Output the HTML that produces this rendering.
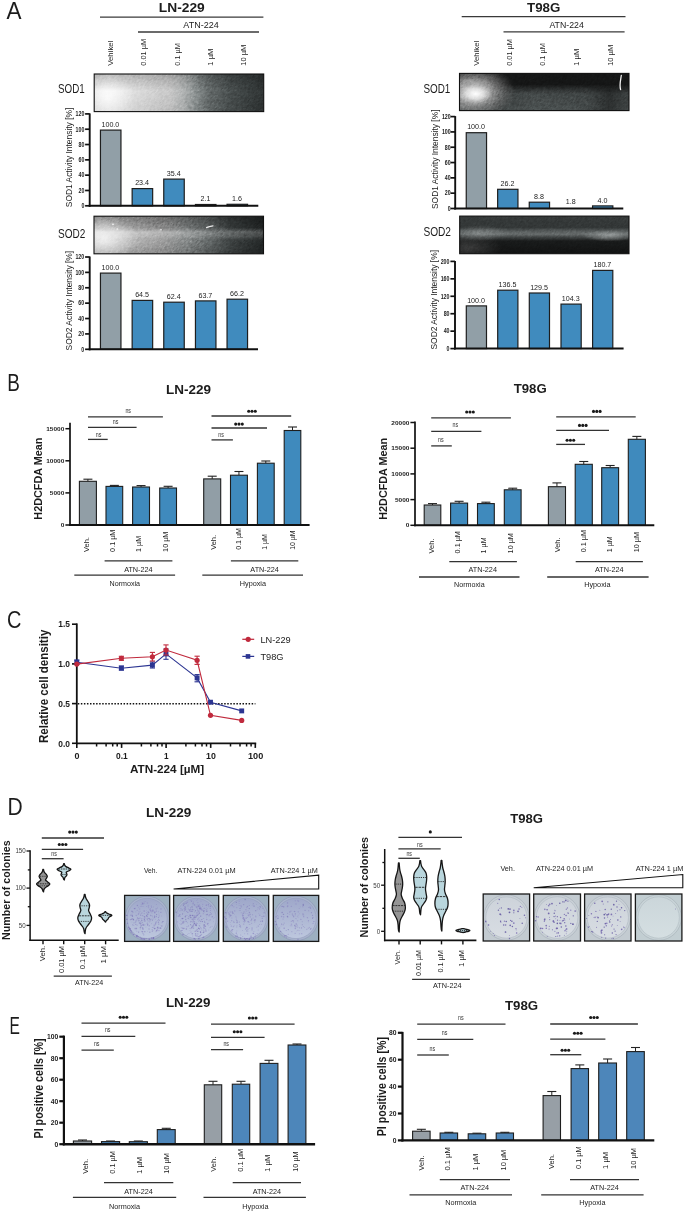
<!DOCTYPE html>
<html><head><meta charset="utf-8"><title>Figure</title>
<style>html,body{margin:0;padding:0;background:#fff;} svg{display:block;will-change:transform;} text{font-family:"Liberation Sans", sans-serif;}</style>
</head><body>
<svg width="685" height="1212" viewBox="0 0 685 1212" font-family="Liberation Sans, sans-serif">
<defs><filter id="gelnoise" x="0" y="0" width="1" height="1" filterUnits="objectBoundingBox" color-interpolation-filters="sRGB"><feTurbulence type="fractalNoise" baseFrequency="0.35 1.3" numOctaves="2" seed="3" result="n"/><feColorMatrix in="n" type="matrix" values="1.0 0 0 0 0  1.0 0 0 0 0  1.0 0 0 0 0  0 0 0 0 1"/></filter><linearGradient id="ln1a" x1="0" y1="0" x2="1" y2="0"><stop offset="0" stop-color="#e0e0e0" stop-opacity="1"/><stop offset="0.08" stop-color="#ececec" stop-opacity="1"/><stop offset="0.3" stop-color="#d8d8d8" stop-opacity="1"/><stop offset="0.45" stop-color="#c8c8c8" stop-opacity="1"/><stop offset="0.53" stop-color="#b0b3b3" stop-opacity="1"/><stop offset="0.6" stop-color="#8a9090" stop-opacity="1"/><stop offset="0.67" stop-color="#666c6c" stop-opacity="1"/><stop offset="0.8" stop-color="#484e4e" stop-opacity="1"/><stop offset="1" stop-color="#2e3333" stop-opacity="1"/></linearGradient><radialGradient id="ln1b" cx="0.08" cy="0.65" r="0.16" gradientTransform="translate(0.08 0.65) scale(1 4.5) translate(-0.08 -0.65)"><stop offset="0" stop-color="#ffffff" stop-opacity="1"/><stop offset="1" stop-color="#ffffff" stop-opacity="0"/></radialGradient><linearGradient id="ln1c" x1="0" y1="0" x2="0" y2="1"><stop offset="0" stop-color="#000" stop-opacity="0.2"/><stop offset="0.45" stop-color="#000" stop-opacity="0"/><stop offset="1" stop-color="#000" stop-opacity="0.06"/></linearGradient><linearGradient id="ln2a" x1="0" y1="0" x2="1" y2="0"><stop offset="0" stop-color="#c8c8c8" stop-opacity="1"/><stop offset="0.2" stop-color="#bababa" stop-opacity="1"/><stop offset="0.4" stop-color="#a2a2a2" stop-opacity="1"/><stop offset="0.55" stop-color="#878b8b" stop-opacity="1"/><stop offset="0.68" stop-color="#646969" stop-opacity="1"/><stop offset="0.8" stop-color="#404545" stop-opacity="1"/><stop offset="1" stop-color="#232727" stop-opacity="1"/></linearGradient><linearGradient id="ln2b" x1="0" y1="0" x2="0" y2="1"><stop offset="0" stop-color="#000" stop-opacity="0.34"/><stop offset="0.3" stop-color="#000" stop-opacity="0.16"/><stop offset="0.42" stop-color="#fff" stop-opacity="0.2"/><stop offset="0.55" stop-color="#fff" stop-opacity="0.12"/><stop offset="0.68" stop-color="#000" stop-opacity="0.02"/><stop offset="1" stop-color="#000" stop-opacity="0.18"/></linearGradient><radialGradient id="ln2c" cx="0.06" cy="0.6" r="0.2" gradientTransform="translate(0.06 0.6) scale(1 3.2) translate(-0.06 -0.6)"><stop offset="0" stop-color="#ffffff" stop-opacity="0.75"/><stop offset="1" stop-color="#ffffff" stop-opacity="0"/></radialGradient><linearGradient id="t1e" x1="0" y1="0" x2="0" y2="1"><stop offset="0" stop-color="#4e5454" stop-opacity="0"/><stop offset="0.3" stop-color="#4e5454" stop-opacity="0"/><stop offset="0.55" stop-color="#4c5252" stop-opacity="0.85"/><stop offset="1" stop-color="#4a5050" stop-opacity="1"/></linearGradient><linearGradient id="t1f" x1="0" y1="0" x2="1" y2="0"><stop offset="0" stop-color="#151616" stop-opacity="0"/><stop offset="0.25" stop-color="#151616" stop-opacity="0.15"/><stop offset="0.45" stop-color="#151616" stop-opacity="0"/><stop offset="0.75" stop-color="#151616" stop-opacity="0.1"/><stop offset="0.88" stop-color="#151616" stop-opacity="0.55"/><stop offset="0.96" stop-color="#151616" stop-opacity="0.3"/><stop offset="1" stop-color="#151616" stop-opacity="0.2"/></linearGradient><radialGradient id="t1c" cx="0.08" cy="0.5" r="0.25" gradientTransform="translate(0.08 0.5) scale(1 3.0) translate(-0.08 -0.5)"><stop offset="0" stop-color="#d0d0d0" stop-opacity="1"/><stop offset="0.4" stop-color="#a4a4a4" stop-opacity="0.92"/><stop offset="0.75" stop-color="#767676" stop-opacity="0.5"/><stop offset="1" stop-color="#606060" stop-opacity="0"/></radialGradient><radialGradient id="t1b" cx="0.095" cy="0.55" r="0.1" gradientTransform="translate(0.095 0.55) scale(1 2.6) translate(-0.095 -0.55)"><stop offset="0" stop-color="#ffffff" stop-opacity="1"/><stop offset="0.5" stop-color="#f0f0f0" stop-opacity="0.7"/><stop offset="1" stop-color="#d8d8d8" stop-opacity="0"/></radialGradient><linearGradient id="t2a" x1="0" y1="0" x2="0" y2="1"><stop offset="0" stop-color="#363a3a" stop-opacity="1"/><stop offset="0.3" stop-color="#323636" stop-opacity="1"/><stop offset="0.4" stop-color="#565b5b" stop-opacity="1"/><stop offset="0.48" stop-color="#686d6d" stop-opacity="1"/><stop offset="0.56" stop-color="#404444" stop-opacity="1"/><stop offset="0.66" stop-color="#191b1b" stop-opacity="1"/><stop offset="1" stop-color="#111212" stop-opacity="1"/></linearGradient><radialGradient id="t2c" cx="0.88" cy="0.52" r="0.16" gradientTransform="translate(0.88 0.52) scale(1 0.95) translate(-0.88 -0.52)"><stop offset="0" stop-color="#b0b5b5" stop-opacity="0.7"/><stop offset="0.5" stop-color="#9ca1a1" stop-opacity="0.4"/><stop offset="1" stop-color="#9ca1a1" stop-opacity="0"/></radialGradient><radialGradient id="t2d" cx="0.12" cy="0.45" r="0.16" gradientTransform="translate(0.12 0.45) scale(1 1.3) translate(-0.12 -0.45)"><stop offset="0" stop-color="#9a9f9f" stop-opacity="0.5"/><stop offset="1" stop-color="#9a9f9f" stop-opacity="0"/></radialGradient><radialGradient id="t2e" cx="0.05" cy="0.85" r="0.2" gradientTransform="translate(0.05 0.85) scale(1 2) translate(-0.05 -0.85)"><stop offset="0" stop-color="#505050" stop-opacity="0.6"/><stop offset="1" stop-color="#505050" stop-opacity="0"/></radialGradient><clipPath id="gclip15"><rect x="94.20" y="74.00" width="169.50" height="37.60"/></clipPath><clipPath id="gclip16"><rect x="94.00" y="216.20" width="169.50" height="37.60"/></clipPath><clipPath id="gclip17"><rect x="459.50" y="73.40" width="169.50" height="37.20"/></clipPath><clipPath id="gclip18"><rect x="459.70" y="216.10" width="169.30" height="37.60"/></clipPath><linearGradient id="col10" x1="0" y1="0" x2="0" y2="1"><stop offset="0" stop-color="#9ea7c9"/><stop offset="1" stop-color="#bdc7de"/></linearGradient><linearGradient id="col11" x1="0" y1="0" x2="0" y2="1"><stop offset="0" stop-color="#9ea7c9"/><stop offset="1" stop-color="#bdc7de"/></linearGradient><linearGradient id="col12" x1="0" y1="0" x2="0" y2="1"><stop offset="0" stop-color="#9ea7c9"/><stop offset="1" stop-color="#bdc7de"/></linearGradient><linearGradient id="col13" x1="0" y1="0" x2="0" y2="1"><stop offset="0" stop-color="#9ea7c9"/><stop offset="1" stop-color="#bdc7de"/></linearGradient><linearGradient id="col20" x1="0" y1="0" x2="0" y2="1"><stop offset="0" stop-color="#cdd3da"/><stop offset="1" stop-color="#d8dde3"/></linearGradient><linearGradient id="col21" x1="0" y1="0" x2="0" y2="1"><stop offset="0" stop-color="#cdd3da"/><stop offset="1" stop-color="#d8dde3"/></linearGradient><linearGradient id="col22" x1="0" y1="0" x2="0" y2="1"><stop offset="0" stop-color="#cdd3da"/><stop offset="1" stop-color="#d8dde3"/></linearGradient><linearGradient id="col23" x1="0" y1="0" x2="0" y2="1"><stop offset="0" stop-color="#cbd6da"/><stop offset="1" stop-color="#d5dfe2"/></linearGradient></defs>
<rect width="685" height="1212" fill="#ffffff"/>
<text x="6.60" y="18.80" font-size="24" style="" fill="#1c1c1c" textLength="15.00" lengthAdjust="spacingAndGlyphs">A</text>
<text x="158.80" y="11.80" font-size="13.4" style="font-weight:bold;" fill="#1c1c1c" textLength="46.00" lengthAdjust="spacingAndGlyphs">LN-229</text>
<line x1="100.00" y1="17.10" x2="263.40" y2="17.10" stroke="#3a3a3a" stroke-width="1.3"/>
<text x="183.30" y="28.40" font-size="8.4" style="" fill="#1c1c1c" textLength="35.40" lengthAdjust="spacingAndGlyphs">ATN-224</text>
<line x1="138.00" y1="32.00" x2="259.00" y2="32.00" stroke="#3a3a3a" stroke-width="1.3"/>
<text transform="translate(113.30,65.70) rotate(-90)" font-size="7.3" style="" fill="#1c1c1c" textLength="25.00" lengthAdjust="spacingAndGlyphs">Vehikel</text>
<text transform="translate(146.40,65.70) rotate(-90)" font-size="7.3" style="" fill="#1c1c1c" textLength="26.80" lengthAdjust="spacingAndGlyphs">0.01 µM</text>
<text transform="translate(179.50,65.70) rotate(-90)" font-size="7.3" style="" fill="#1c1c1c" textLength="22.60" lengthAdjust="spacingAndGlyphs">0.1 µM</text>
<text transform="translate(212.50,65.70) rotate(-90)" font-size="7.3" style="" fill="#1c1c1c" textLength="17.10" lengthAdjust="spacingAndGlyphs">1 µM</text>
<text transform="translate(245.60,65.70) rotate(-90)" font-size="7.3" style="" fill="#1c1c1c" textLength="21.00" lengthAdjust="spacingAndGlyphs">10 µM</text>
<text x="58.00" y="93.00" font-size="12.8" style="" fill="#1c1c1c" textLength="26.70" lengthAdjust="spacingAndGlyphs">SOD1</text>
<text x="58.00" y="237.60" font-size="12.8" style="" fill="#1c1c1c" textLength="27.30" lengthAdjust="spacingAndGlyphs">SOD2</text>
<g>
<rect x="94.20" y="74.00" width="169.50" height="37.60" fill="url(#ln1a)"/>
<rect x="94.20" y="74.00" width="169.50" height="37.60" fill="url(#ln1b)"/>
<rect x="94.20" y="74.00" width="169.50" height="37.60" fill="url(#ln1c)"/>
<g clip-path="url(#gclip15)" style="mix-blend-mode:overlay" opacity="0.35"><rect x="78.95" y="-7.20" width="200" height="200" fill="#808080" filter="url(#gelnoise)" transform="rotate(-40 178.95 92.80)"/></g>
<rect x="94.20" y="74.00" width="169.50" height="37.60" fill="none" stroke="#111" stroke-width="1.1"/>
</g>
<g>
<rect x="94.00" y="216.20" width="169.50" height="37.60" fill="url(#ln2a)"/>
<rect x="94.00" y="216.20" width="169.50" height="37.60" fill="url(#ln2b)"/>
<rect x="94.00" y="216.20" width="169.50" height="37.60" fill="url(#ln2c)"/>
<g clip-path="url(#gclip16)" style="mix-blend-mode:overlay" opacity="0.35"><rect x="78.75" y="135.00" width="200" height="200" fill="#808080" filter="url(#gelnoise)" transform="rotate(-40 178.75 235.00)"/></g>
<rect x="94.00" y="216.20" width="169.50" height="37.60" fill="none" stroke="#111" stroke-width="1.1"/>
</g>
<path d="M206.5,227.6 C208.5,226.6 210.5,226.2 213,225.9" stroke="#e8e8e8" stroke-width="1.2" stroke-linecap="round" fill="none"/><circle cx="113" cy="224.4" r="0.8" fill="#f4f4f4"/><circle cx="117.2" cy="229" r="0.8" fill="#f4f4f4"/><circle cx="161" cy="229.7" r="0.8" fill="#eeeeee"/>
<rect x="100.45" y="130.10" width="20.50" height="75.70" fill="#919fa7" stroke="#1e1e1e" stroke-width="1.2"/>
<text x="110.40" y="126.80" font-size="7.0" style="" fill="#1c1c1c" text-anchor="middle" textLength="17.87" lengthAdjust="spacingAndGlyphs">100.0</text>
<rect x="132.15" y="188.60" width="20.50" height="17.20" fill="#408bbe" stroke="#1e1e1e" stroke-width="1.2"/>
<text x="142.10" y="185.30" font-size="7.0" style="" fill="#1c1c1c" text-anchor="middle" textLength="13.90" lengthAdjust="spacingAndGlyphs">23.4</text>
<rect x="163.75" y="179.10" width="20.50" height="26.70" fill="#408bbe" stroke="#1e1e1e" stroke-width="1.2"/>
<text x="173.70" y="175.80" font-size="7.0" style="" fill="#1c1c1c" text-anchor="middle" textLength="13.90" lengthAdjust="spacingAndGlyphs">35.4</text>
<rect x="195.45" y="204.50" width="20.50" height="1.30" fill="#408bbe" stroke="#1e1e1e" stroke-width="1.2"/>
<text x="205.40" y="201.20" font-size="7.0" style="" fill="#1c1c1c" text-anchor="middle" textLength="9.92" lengthAdjust="spacingAndGlyphs">2.1</text>
<rect x="227.05" y="204.30" width="20.50" height="1.50" fill="#408bbe" stroke="#1e1e1e" stroke-width="1.2"/>
<text x="237.00" y="201.00" font-size="7.0" style="" fill="#1c1c1c" text-anchor="middle" textLength="9.92" lengthAdjust="spacingAndGlyphs">1.6</text>
<line x1="89.70" y1="113.40" x2="89.70" y2="206.80" stroke="#111" stroke-width="1.9"/>
<line x1="88.75" y1="205.80" x2="258.30" y2="205.80" stroke="#111" stroke-width="2.0"/>
<line x1="85.10" y1="205.80" x2="89.70" y2="205.80" stroke="#111" stroke-width="1.7"/>
<text x="84.40" y="208.10" font-size="6.6" style="font-weight:bold;" fill="#1c1c1c" text-anchor="end" textLength="2.94" lengthAdjust="spacingAndGlyphs">0</text>
<line x1="85.10" y1="190.48" x2="89.70" y2="190.48" stroke="#111" stroke-width="1.7"/>
<text x="84.40" y="192.78" font-size="6.6" style="font-weight:bold;" fill="#1c1c1c" text-anchor="end" textLength="5.87" lengthAdjust="spacingAndGlyphs">20</text>
<line x1="85.10" y1="175.17" x2="89.70" y2="175.17" stroke="#111" stroke-width="1.7"/>
<text x="84.40" y="177.47" font-size="6.6" style="font-weight:bold;" fill="#1c1c1c" text-anchor="end" textLength="5.87" lengthAdjust="spacingAndGlyphs">40</text>
<line x1="85.10" y1="159.85" x2="89.70" y2="159.85" stroke="#111" stroke-width="1.7"/>
<text x="84.40" y="162.15" font-size="6.6" style="font-weight:bold;" fill="#1c1c1c" text-anchor="end" textLength="5.87" lengthAdjust="spacingAndGlyphs">60</text>
<line x1="85.10" y1="144.53" x2="89.70" y2="144.53" stroke="#111" stroke-width="1.7"/>
<text x="84.40" y="146.83" font-size="6.6" style="font-weight:bold;" fill="#1c1c1c" text-anchor="end" textLength="5.87" lengthAdjust="spacingAndGlyphs">80</text>
<line x1="85.10" y1="129.22" x2="89.70" y2="129.22" stroke="#111" stroke-width="1.7"/>
<text x="84.40" y="131.52" font-size="6.6" style="font-weight:bold;" fill="#1c1c1c" text-anchor="end" textLength="8.81" lengthAdjust="spacingAndGlyphs">100</text>
<line x1="85.10" y1="113.90" x2="89.70" y2="113.90" stroke="#111" stroke-width="1.7"/>
<text x="84.40" y="116.20" font-size="6.6" style="font-weight:bold;" fill="#1c1c1c" text-anchor="end" textLength="8.81" lengthAdjust="spacingAndGlyphs">120</text>
<text transform="translate(71.80,207.20) rotate(-90)" font-size="9.7" style="" fill="#1c1c1c" textLength="99.50" lengthAdjust="spacingAndGlyphs">SOD1 Activity Intensity [%]</text>
<rect x="100.45" y="273.10" width="20.50" height="76.20" fill="#919fa7" stroke="#1e1e1e" stroke-width="1.2"/>
<text x="110.40" y="269.80" font-size="7.0" style="" fill="#1c1c1c" text-anchor="middle" textLength="17.87" lengthAdjust="spacingAndGlyphs">100.0</text>
<rect x="132.15" y="300.40" width="20.50" height="48.90" fill="#408bbe" stroke="#1e1e1e" stroke-width="1.2"/>
<text x="142.10" y="297.10" font-size="7.0" style="" fill="#1c1c1c" text-anchor="middle" textLength="13.90" lengthAdjust="spacingAndGlyphs">64.5</text>
<rect x="163.75" y="302.20" width="20.50" height="47.10" fill="#408bbe" stroke="#1e1e1e" stroke-width="1.2"/>
<text x="173.70" y="298.90" font-size="7.0" style="" fill="#1c1c1c" text-anchor="middle" textLength="13.90" lengthAdjust="spacingAndGlyphs">62.4</text>
<rect x="195.45" y="300.90" width="20.50" height="48.40" fill="#408bbe" stroke="#1e1e1e" stroke-width="1.2"/>
<text x="205.40" y="297.60" font-size="7.0" style="" fill="#1c1c1c" text-anchor="middle" textLength="13.90" lengthAdjust="spacingAndGlyphs">63.7</text>
<rect x="227.05" y="299.20" width="20.50" height="50.10" fill="#408bbe" stroke="#1e1e1e" stroke-width="1.2"/>
<text x="237.00" y="295.90" font-size="7.0" style="" fill="#1c1c1c" text-anchor="middle" textLength="13.90" lengthAdjust="spacingAndGlyphs">66.2</text>
<line x1="89.70" y1="256.50" x2="89.70" y2="350.30" stroke="#111" stroke-width="1.9"/>
<line x1="88.75" y1="349.30" x2="258.00" y2="349.30" stroke="#111" stroke-width="2.0"/>
<line x1="85.10" y1="349.30" x2="89.70" y2="349.30" stroke="#111" stroke-width="1.7"/>
<text x="84.20" y="351.60" font-size="6.6" style="font-weight:bold;" fill="#1c1c1c" text-anchor="end" textLength="2.94" lengthAdjust="spacingAndGlyphs">0</text>
<line x1="85.10" y1="333.92" x2="89.70" y2="333.92" stroke="#111" stroke-width="1.7"/>
<text x="84.20" y="336.22" font-size="6.6" style="font-weight:bold;" fill="#1c1c1c" text-anchor="end" textLength="5.87" lengthAdjust="spacingAndGlyphs">20</text>
<line x1="85.10" y1="318.53" x2="89.70" y2="318.53" stroke="#111" stroke-width="1.7"/>
<text x="84.20" y="320.83" font-size="6.6" style="font-weight:bold;" fill="#1c1c1c" text-anchor="end" textLength="5.87" lengthAdjust="spacingAndGlyphs">40</text>
<line x1="85.10" y1="303.15" x2="89.70" y2="303.15" stroke="#111" stroke-width="1.7"/>
<text x="84.20" y="305.45" font-size="6.6" style="font-weight:bold;" fill="#1c1c1c" text-anchor="end" textLength="5.87" lengthAdjust="spacingAndGlyphs">60</text>
<line x1="85.10" y1="287.77" x2="89.70" y2="287.77" stroke="#111" stroke-width="1.7"/>
<text x="84.20" y="290.07" font-size="6.6" style="font-weight:bold;" fill="#1c1c1c" text-anchor="end" textLength="5.87" lengthAdjust="spacingAndGlyphs">80</text>
<line x1="85.10" y1="272.38" x2="89.70" y2="272.38" stroke="#111" stroke-width="1.7"/>
<text x="84.20" y="274.68" font-size="6.6" style="font-weight:bold;" fill="#1c1c1c" text-anchor="end" textLength="8.81" lengthAdjust="spacingAndGlyphs">100</text>
<line x1="85.10" y1="257.00" x2="89.70" y2="257.00" stroke="#111" stroke-width="1.7"/>
<text x="84.20" y="259.30" font-size="6.6" style="font-weight:bold;" fill="#1c1c1c" text-anchor="end" textLength="8.81" lengthAdjust="spacingAndGlyphs">120</text>
<text transform="translate(71.70,350.40) rotate(-90)" font-size="9.7" style="" fill="#1c1c1c" textLength="99.50" lengthAdjust="spacingAndGlyphs">SOD2 Activity Intensity [%]</text>
<text x="527.00" y="12.20" font-size="13.4" style="font-weight:bold;" fill="#1c1c1c" textLength="33.30" lengthAdjust="spacingAndGlyphs">T98G</text>
<line x1="461.70" y1="16.70" x2="625.50" y2="16.70" stroke="#3a3a3a" stroke-width="1.3"/>
<text x="549.40" y="28.30" font-size="8.4" style="" fill="#1c1c1c" textLength="34.40" lengthAdjust="spacingAndGlyphs">ATN-224</text>
<line x1="503.50" y1="31.80" x2="624.60" y2="31.80" stroke="#3a3a3a" stroke-width="1.3"/>
<text transform="translate(479.00,65.80) rotate(-90)" font-size="7.3" style="" fill="#1c1c1c" textLength="25.00" lengthAdjust="spacingAndGlyphs">Vehikel</text>
<text transform="translate(512.10,65.80) rotate(-90)" font-size="7.3" style="" fill="#1c1c1c" textLength="26.80" lengthAdjust="spacingAndGlyphs">0.01 µM</text>
<text transform="translate(545.20,65.80) rotate(-90)" font-size="7.3" style="" fill="#1c1c1c" textLength="22.60" lengthAdjust="spacingAndGlyphs">0.1 µM</text>
<text transform="translate(578.60,65.80) rotate(-90)" font-size="7.3" style="" fill="#1c1c1c" textLength="17.10" lengthAdjust="spacingAndGlyphs">1 µM</text>
<text transform="translate(612.50,65.80) rotate(-90)" font-size="7.3" style="" fill="#1c1c1c" textLength="21.00" lengthAdjust="spacingAndGlyphs">10 µM</text>
<text x="423.40" y="93.00" font-size="12.8" style="" fill="#1c1c1c" textLength="26.90" lengthAdjust="spacingAndGlyphs">SOD1</text>
<text x="423.40" y="236.40" font-size="12.8" style="" fill="#1c1c1c" textLength="27.60" lengthAdjust="spacingAndGlyphs">SOD2</text>
<g>
<rect x="459.50" y="73.40" width="169.50" height="37.20" fill="#151616"/>
<rect x="459.50" y="73.40" width="169.50" height="37.20" fill="url(#t1e)"/>
<rect x="459.50" y="73.40" width="169.50" height="37.20" fill="url(#t1f)"/>
<rect x="459.50" y="73.40" width="169.50" height="37.20" fill="url(#t1c)"/>
<rect x="459.50" y="73.40" width="169.50" height="37.20" fill="url(#t1b)"/>
<g clip-path="url(#gclip17)" style="mix-blend-mode:overlay" opacity="0.35"><rect x="444.25" y="-8.00" width="200" height="200" fill="#808080" filter="url(#gelnoise)" transform="rotate(-40 544.25 92.00)"/></g>
<rect x="459.50" y="73.40" width="169.50" height="37.20" fill="none" stroke="#111" stroke-width="1.1"/>
</g>
<path d="M621.3,75.5 C620.6,80 619.2,85 620.6,89.6" fill="none" stroke="#f0f0f0" stroke-width="1.3" stroke-linecap="round"/>
<g>
<rect x="459.70" y="216.10" width="169.30" height="37.60" fill="url(#t2a)"/>
<rect x="459.70" y="216.10" width="169.30" height="37.60" fill="url(#t2c)"/>
<rect x="459.70" y="216.10" width="169.30" height="37.60" fill="url(#t2d)"/>
<rect x="459.70" y="216.10" width="169.30" height="37.60" fill="url(#t2e)"/>
<g clip-path="url(#gclip18)" style="mix-blend-mode:overlay" opacity="0.25"><rect x="444.35" y="134.90" width="200" height="200" fill="#808080" filter="url(#gelnoise)" transform="rotate(-40 544.35 234.90)"/></g>
<rect x="459.70" y="216.10" width="169.30" height="37.60" fill="none" stroke="#111" stroke-width="1.1"/>
</g>
<rect x="466.25" y="132.70" width="20.30" height="75.80" fill="#919fa7" stroke="#1e1e1e" stroke-width="1.2"/>
<text x="476.10" y="129.40" font-size="7.0" style="" fill="#1c1c1c" text-anchor="middle" textLength="17.87" lengthAdjust="spacingAndGlyphs">100.0</text>
<rect x="497.65" y="189.30" width="20.30" height="19.20" fill="#408bbe" stroke="#1e1e1e" stroke-width="1.2"/>
<text x="507.50" y="186.00" font-size="7.0" style="" fill="#1c1c1c" text-anchor="middle" textLength="13.90" lengthAdjust="spacingAndGlyphs">26.2</text>
<rect x="529.25" y="202.20" width="20.30" height="6.30" fill="#408bbe" stroke="#1e1e1e" stroke-width="1.2"/>
<text x="539.10" y="198.90" font-size="7.0" style="" fill="#1c1c1c" text-anchor="middle" textLength="9.92" lengthAdjust="spacingAndGlyphs">8.8</text>
<text x="570.80" y="203.70" font-size="7.0" style="" fill="#1c1c1c" text-anchor="middle" textLength="9.92" lengthAdjust="spacingAndGlyphs">1.8</text>
<rect x="592.55" y="205.90" width="20.30" height="2.60" fill="#408bbe" stroke="#1e1e1e" stroke-width="1.2"/>
<text x="602.40" y="202.60" font-size="7.0" style="" fill="#1c1c1c" text-anchor="middle" textLength="9.92" lengthAdjust="spacingAndGlyphs">4.0</text>
<line x1="455.20" y1="116.10" x2="455.20" y2="209.50" stroke="#111" stroke-width="1.9"/>
<line x1="454.25" y1="208.50" x2="623.30" y2="208.50" stroke="#111" stroke-width="2.0"/>
<line x1="450.60" y1="208.50" x2="455.20" y2="208.50" stroke="#111" stroke-width="1.7"/>
<text x="450.70" y="210.80" font-size="6.6" style="font-weight:bold;" fill="#1c1c1c" text-anchor="end" textLength="2.94" lengthAdjust="spacingAndGlyphs">0</text>
<line x1="450.60" y1="193.18" x2="455.20" y2="193.18" stroke="#111" stroke-width="1.7"/>
<text x="450.70" y="195.48" font-size="6.6" style="font-weight:bold;" fill="#1c1c1c" text-anchor="end" textLength="5.87" lengthAdjust="spacingAndGlyphs">20</text>
<line x1="450.60" y1="177.87" x2="455.20" y2="177.87" stroke="#111" stroke-width="1.7"/>
<text x="450.70" y="180.17" font-size="6.6" style="font-weight:bold;" fill="#1c1c1c" text-anchor="end" textLength="5.87" lengthAdjust="spacingAndGlyphs">40</text>
<line x1="450.60" y1="162.55" x2="455.20" y2="162.55" stroke="#111" stroke-width="1.7"/>
<text x="450.70" y="164.85" font-size="6.6" style="font-weight:bold;" fill="#1c1c1c" text-anchor="end" textLength="5.87" lengthAdjust="spacingAndGlyphs">60</text>
<line x1="450.60" y1="147.23" x2="455.20" y2="147.23" stroke="#111" stroke-width="1.7"/>
<text x="450.70" y="149.53" font-size="6.6" style="font-weight:bold;" fill="#1c1c1c" text-anchor="end" textLength="5.87" lengthAdjust="spacingAndGlyphs">80</text>
<line x1="450.60" y1="131.92" x2="455.20" y2="131.92" stroke="#111" stroke-width="1.7"/>
<text x="450.70" y="134.22" font-size="6.6" style="font-weight:bold;" fill="#1c1c1c" text-anchor="end" textLength="8.81" lengthAdjust="spacingAndGlyphs">100</text>
<line x1="450.60" y1="116.60" x2="455.20" y2="116.60" stroke="#111" stroke-width="1.7"/>
<text x="450.70" y="118.90" font-size="6.6" style="font-weight:bold;" fill="#1c1c1c" text-anchor="end" textLength="8.81" lengthAdjust="spacingAndGlyphs">120</text>
<text transform="translate(437.50,209.00) rotate(-90)" font-size="9.7" style="" fill="#1c1c1c" textLength="99.50" lengthAdjust="spacingAndGlyphs">SOD1 Activity Intensity [%]</text>
<rect x="466.30" y="305.90" width="20.20" height="42.70" fill="#919fa7" stroke="#1e1e1e" stroke-width="1.2"/>
<text x="476.10" y="302.60" font-size="7.0" style="" fill="#1c1c1c" text-anchor="middle" textLength="17.87" lengthAdjust="spacingAndGlyphs">100.0</text>
<rect x="497.70" y="290.20" width="20.20" height="58.40" fill="#408bbe" stroke="#1e1e1e" stroke-width="1.2"/>
<text x="507.50" y="286.90" font-size="7.0" style="" fill="#1c1c1c" text-anchor="middle" textLength="17.87" lengthAdjust="spacingAndGlyphs">136.5</text>
<rect x="529.30" y="293.00" width="20.20" height="55.60" fill="#408bbe" stroke="#1e1e1e" stroke-width="1.2"/>
<text x="539.10" y="289.70" font-size="7.0" style="" fill="#1c1c1c" text-anchor="middle" textLength="17.87" lengthAdjust="spacingAndGlyphs">129.5</text>
<rect x="561.00" y="304.10" width="20.20" height="44.50" fill="#408bbe" stroke="#1e1e1e" stroke-width="1.2"/>
<text x="570.80" y="300.80" font-size="7.0" style="" fill="#1c1c1c" text-anchor="middle" textLength="17.87" lengthAdjust="spacingAndGlyphs">104.3</text>
<rect x="592.60" y="270.40" width="20.20" height="78.20" fill="#408bbe" stroke="#1e1e1e" stroke-width="1.2"/>
<text x="602.40" y="267.10" font-size="7.0" style="" fill="#1c1c1c" text-anchor="middle" textLength="17.87" lengthAdjust="spacingAndGlyphs">180.7</text>
<line x1="455.00" y1="260.90" x2="455.00" y2="349.60" stroke="#111" stroke-width="1.9"/>
<line x1="454.05" y1="348.60" x2="623.60" y2="348.60" stroke="#111" stroke-width="2.0"/>
<line x1="450.40" y1="348.60" x2="455.00" y2="348.60" stroke="#111" stroke-width="1.7"/>
<text x="449.50" y="350.90" font-size="6.6" style="font-weight:bold;" fill="#1c1c1c" text-anchor="end" textLength="2.94" lengthAdjust="spacingAndGlyphs">0</text>
<line x1="450.40" y1="331.16" x2="455.00" y2="331.16" stroke="#111" stroke-width="1.7"/>
<text x="449.50" y="333.46" font-size="6.6" style="font-weight:bold;" fill="#1c1c1c" text-anchor="end" textLength="5.87" lengthAdjust="spacingAndGlyphs">40</text>
<line x1="450.40" y1="313.72" x2="455.00" y2="313.72" stroke="#111" stroke-width="1.7"/>
<text x="449.50" y="316.02" font-size="6.6" style="font-weight:bold;" fill="#1c1c1c" text-anchor="end" textLength="5.87" lengthAdjust="spacingAndGlyphs">80</text>
<line x1="450.40" y1="296.28" x2="455.00" y2="296.28" stroke="#111" stroke-width="1.7"/>
<text x="449.50" y="298.58" font-size="6.6" style="font-weight:bold;" fill="#1c1c1c" text-anchor="end" textLength="8.81" lengthAdjust="spacingAndGlyphs">120</text>
<line x1="450.40" y1="278.84" x2="455.00" y2="278.84" stroke="#111" stroke-width="1.7"/>
<text x="449.50" y="281.14" font-size="6.6" style="font-weight:bold;" fill="#1c1c1c" text-anchor="end" textLength="8.81" lengthAdjust="spacingAndGlyphs">160</text>
<line x1="450.40" y1="261.40" x2="455.00" y2="261.40" stroke="#111" stroke-width="1.7"/>
<text x="449.50" y="263.70" font-size="6.6" style="font-weight:bold;" fill="#1c1c1c" text-anchor="end" textLength="8.81" lengthAdjust="spacingAndGlyphs">200</text>
<text transform="translate(436.50,349.50) rotate(-90)" font-size="9.7" style="" fill="#1c1c1c" textLength="99.50" lengthAdjust="spacingAndGlyphs">SOD2 Activity Intensity [%]</text>
<text x="7.20" y="390.80" font-size="24" style="" fill="#1c1c1c" textLength="12.60" lengthAdjust="spacingAndGlyphs">B</text>
<text x="166.00" y="393.80" font-size="13.4" style="font-weight:bold;" fill="#1c1c1c" textLength="45.00" lengthAdjust="spacingAndGlyphs">LN-229</text>
<text x="513.70" y="393.00" font-size="13.4" style="font-weight:bold;" fill="#1c1c1c" textLength="33.00" lengthAdjust="spacingAndGlyphs">T98G</text>
<line x1="87.90" y1="479.20" x2="87.90" y2="481.30" stroke="#222" stroke-width="1.0"/>
<line x1="83.40" y1="479.20" x2="92.40" y2="479.20" stroke="#222" stroke-width="1.1"/>
<rect x="79.40" y="481.30" width="17.00" height="43.70" fill="#919ea6" stroke="#1e1e1e" stroke-width="1.1"/>
<line x1="114.35" y1="485.40" x2="114.35" y2="486.40" stroke="#222" stroke-width="1.0"/>
<line x1="109.85" y1="485.40" x2="118.85" y2="485.40" stroke="#222" stroke-width="1.1"/>
<rect x="106.00" y="486.40" width="16.70" height="38.60" fill="#3f8abd" stroke="#1e1e1e" stroke-width="1.1"/>
<line x1="141.05" y1="485.60" x2="141.05" y2="487.00" stroke="#222" stroke-width="1.0"/>
<line x1="136.55" y1="485.60" x2="145.55" y2="485.60" stroke="#222" stroke-width="1.1"/>
<rect x="132.60" y="487.00" width="16.90" height="38.00" fill="#3f8abd" stroke="#1e1e1e" stroke-width="1.1"/>
<line x1="168.10" y1="486.30" x2="168.10" y2="488.00" stroke="#222" stroke-width="1.0"/>
<line x1="163.60" y1="486.30" x2="172.60" y2="486.30" stroke="#222" stroke-width="1.1"/>
<rect x="159.70" y="488.00" width="16.80" height="37.00" fill="#3f8abd" stroke="#1e1e1e" stroke-width="1.1"/>
<line x1="212.20" y1="476.20" x2="212.20" y2="478.90" stroke="#222" stroke-width="1.0"/>
<line x1="207.70" y1="476.20" x2="216.70" y2="476.20" stroke="#222" stroke-width="1.1"/>
<rect x="203.70" y="478.90" width="17.00" height="46.10" fill="#919ea6" stroke="#1e1e1e" stroke-width="1.1"/>
<line x1="238.95" y1="471.50" x2="238.95" y2="475.20" stroke="#222" stroke-width="1.0"/>
<line x1="234.45" y1="471.50" x2="243.45" y2="471.50" stroke="#222" stroke-width="1.1"/>
<rect x="230.50" y="475.20" width="16.90" height="49.80" fill="#3f8abd" stroke="#1e1e1e" stroke-width="1.1"/>
<line x1="265.80" y1="461.00" x2="265.80" y2="463.20" stroke="#222" stroke-width="1.0"/>
<line x1="261.30" y1="461.00" x2="270.30" y2="461.00" stroke="#222" stroke-width="1.1"/>
<rect x="257.40" y="463.20" width="16.80" height="61.80" fill="#3f8abd" stroke="#1e1e1e" stroke-width="1.1"/>
<line x1="292.50" y1="427.00" x2="292.50" y2="430.50" stroke="#222" stroke-width="1.0"/>
<line x1="288.00" y1="427.00" x2="297.00" y2="427.00" stroke="#222" stroke-width="1.1"/>
<rect x="284.20" y="430.50" width="16.60" height="94.50" fill="#3f8abd" stroke="#1e1e1e" stroke-width="1.1"/>
<line x1="70.00" y1="422.70" x2="70.00" y2="525.85" stroke="#111" stroke-width="1.7"/>
<line x1="69.15" y1="525.00" x2="309.60" y2="525.00" stroke="#111" stroke-width="1.9"/>
<line x1="65.40" y1="525.00" x2="70.00" y2="525.00" stroke="#111" stroke-width="1.5"/>
<text x="64.30" y="527.05" font-size="6.2" style="font-weight:bold;" fill="#1c1c1c" text-anchor="end" textLength="3.62" lengthAdjust="spacingAndGlyphs">0</text>
<line x1="65.40" y1="492.90" x2="70.00" y2="492.90" stroke="#111" stroke-width="1.5"/>
<text x="64.30" y="494.95" font-size="6.2" style="font-weight:bold;" fill="#1c1c1c" text-anchor="end" textLength="14.48" lengthAdjust="spacingAndGlyphs">5000</text>
<line x1="65.40" y1="460.80" x2="70.00" y2="460.80" stroke="#111" stroke-width="1.5"/>
<text x="64.30" y="462.85" font-size="6.2" style="font-weight:bold;" fill="#1c1c1c" text-anchor="end" textLength="18.10" lengthAdjust="spacingAndGlyphs">10000</text>
<line x1="65.40" y1="428.70" x2="70.00" y2="428.70" stroke="#111" stroke-width="1.5"/>
<text x="64.30" y="430.75" font-size="6.2" style="font-weight:bold;" fill="#1c1c1c" text-anchor="end" textLength="18.10" lengthAdjust="spacingAndGlyphs">15000</text>
<line x1="88.00" y1="416.80" x2="162.90" y2="416.80" stroke="#333" stroke-width="1.3"/>
<text x="128.20" y="413.20" font-size="6.6" style="" fill="#333" text-anchor="middle" textLength="5.60" lengthAdjust="spacingAndGlyphs">ns</text>
<line x1="88.00" y1="427.30" x2="136.60" y2="427.30" stroke="#333" stroke-width="1.3"/>
<text x="115.60" y="424.20" font-size="6.6" style="" fill="#333" text-anchor="middle" textLength="5.60" lengthAdjust="spacingAndGlyphs">ns</text>
<line x1="88.00" y1="439.40" x2="107.70" y2="439.40" stroke="#333" stroke-width="1.3"/>
<text x="98.50" y="436.80" font-size="6.6" style="" fill="#333" text-anchor="middle" textLength="5.60" lengthAdjust="spacingAndGlyphs">ns</text>
<line x1="211.50" y1="416.00" x2="291.20" y2="416.00" stroke="#333" stroke-width="1.3"/>
<circle cx="248.70" cy="411.20" r="1.55" fill="#1a1a1a"/>
<circle cx="252.00" cy="411.20" r="1.55" fill="#1a1a1a"/>
<circle cx="255.30" cy="411.20" r="1.55" fill="#1a1a1a"/>
<line x1="211.50" y1="428.00" x2="267.00" y2="428.00" stroke="#333" stroke-width="1.3"/>
<circle cx="235.70" cy="424.10" r="1.55" fill="#1a1a1a"/>
<circle cx="239.00" cy="424.10" r="1.55" fill="#1a1a1a"/>
<circle cx="242.30" cy="424.10" r="1.55" fill="#1a1a1a"/>
<line x1="211.50" y1="439.90" x2="232.90" y2="439.90" stroke="#333" stroke-width="1.3"/>
<text x="221.00" y="436.50" font-size="6.6" style="" fill="#333" text-anchor="middle" textLength="5.60" lengthAdjust="spacingAndGlyphs">ns</text>
<text transform="translate(42.20,519.70) rotate(-90)" font-size="11.4" style="font-weight:bold;" fill="#1c1c1c" textLength="82.20" lengthAdjust="spacingAndGlyphs">H2DCFDA Mean</text>
<text transform="translate(89.10,551.90) rotate(-90)" font-size="7.0" style="" fill="#1c1c1c" textLength="14.80" lengthAdjust="spacingAndGlyphs">Veh.</text>
<text transform="translate(114.80,551.90) rotate(-90)" font-size="7.0" style="" fill="#1c1c1c" textLength="22.30" lengthAdjust="spacingAndGlyphs">0.1 µM</text>
<text transform="translate(141.20,551.90) rotate(-90)" font-size="7.0" style="" fill="#1c1c1c" textLength="16.00" lengthAdjust="spacingAndGlyphs">1 µM</text>
<text transform="translate(168.40,551.90) rotate(-90)" font-size="7.0" style="" fill="#1c1c1c" textLength="20.30" lengthAdjust="spacingAndGlyphs">10 µM</text>
<text transform="translate(215.70,549.80) rotate(-90)" font-size="7.0" style="" fill="#1c1c1c" textLength="14.80" lengthAdjust="spacingAndGlyphs">Veh.</text>
<text transform="translate(241.40,549.80) rotate(-90)" font-size="7.0" style="" fill="#1c1c1c" textLength="21.80" lengthAdjust="spacingAndGlyphs">0.1 µM</text>
<text transform="translate(267.20,549.80) rotate(-90)" font-size="7.0" style="" fill="#1c1c1c" textLength="15.60" lengthAdjust="spacingAndGlyphs">1 µM</text>
<text transform="translate(294.60,549.80) rotate(-90)" font-size="7.0" style="" fill="#1c1c1c" textLength="19.40" lengthAdjust="spacingAndGlyphs">10 µM</text>
<line x1="104.60" y1="560.90" x2="172.40" y2="560.90" stroke="#333" stroke-width="1.3"/>
<text x="138.40" y="571.60" font-size="7.3" style="" fill="#1c1c1c" text-anchor="middle" textLength="28.50" lengthAdjust="spacingAndGlyphs">ATN-224</text>
<line x1="230.90" y1="560.90" x2="298.30" y2="560.90" stroke="#333" stroke-width="1.3"/>
<text x="264.60" y="571.60" font-size="7.3" style="" fill="#1c1c1c" text-anchor="middle" textLength="28.50" lengthAdjust="spacingAndGlyphs">ATN-224</text>
<line x1="74.30" y1="575.20" x2="175.10" y2="575.20" stroke="#333" stroke-width="1.3"/>
<text x="124.80" y="586.40" font-size="7.3" style="" fill="#1c1c1c" text-anchor="middle" textLength="30.60" lengthAdjust="spacingAndGlyphs">Normoxia</text>
<line x1="202.30" y1="575.20" x2="303.00" y2="575.20" stroke="#333" stroke-width="1.3"/>
<text x="252.90" y="586.40" font-size="7.3" style="" fill="#1c1c1c" text-anchor="middle" textLength="26.30" lengthAdjust="spacingAndGlyphs">Hypoxia</text>
<line x1="432.50" y1="503.60" x2="432.50" y2="505.00" stroke="#222" stroke-width="1.0"/>
<line x1="428.00" y1="503.60" x2="437.00" y2="503.60" stroke="#222" stroke-width="1.1"/>
<rect x="424.20" y="505.00" width="16.60" height="20.30" fill="#919ea6" stroke="#1e1e1e" stroke-width="1.1"/>
<line x1="459.10" y1="501.30" x2="459.10" y2="503.10" stroke="#222" stroke-width="1.0"/>
<line x1="454.60" y1="501.30" x2="463.60" y2="501.30" stroke="#222" stroke-width="1.1"/>
<rect x="450.60" y="503.10" width="17.00" height="22.20" fill="#3f8abd" stroke="#1e1e1e" stroke-width="1.1"/>
<line x1="485.90" y1="502.20" x2="485.90" y2="503.60" stroke="#222" stroke-width="1.0"/>
<line x1="481.40" y1="502.20" x2="490.40" y2="502.20" stroke="#222" stroke-width="1.1"/>
<rect x="477.50" y="503.60" width="16.80" height="21.70" fill="#3f8abd" stroke="#1e1e1e" stroke-width="1.1"/>
<line x1="512.70" y1="488.20" x2="512.70" y2="489.80" stroke="#222" stroke-width="1.0"/>
<line x1="508.20" y1="488.20" x2="517.20" y2="488.20" stroke="#222" stroke-width="1.1"/>
<rect x="504.30" y="489.80" width="16.80" height="35.50" fill="#3f8abd" stroke="#1e1e1e" stroke-width="1.1"/>
<line x1="556.95" y1="482.90" x2="556.95" y2="486.70" stroke="#222" stroke-width="1.0"/>
<line x1="552.45" y1="482.90" x2="561.45" y2="482.90" stroke="#222" stroke-width="1.1"/>
<rect x="548.40" y="486.70" width="17.10" height="38.60" fill="#919ea6" stroke="#1e1e1e" stroke-width="1.1"/>
<line x1="583.75" y1="461.50" x2="583.75" y2="464.30" stroke="#222" stroke-width="1.0"/>
<line x1="579.25" y1="461.50" x2="588.25" y2="461.50" stroke="#222" stroke-width="1.1"/>
<rect x="575.20" y="464.30" width="17.10" height="61.00" fill="#3f8abd" stroke="#1e1e1e" stroke-width="1.1"/>
<line x1="610.15" y1="465.50" x2="610.15" y2="467.70" stroke="#222" stroke-width="1.0"/>
<line x1="605.65" y1="465.50" x2="614.65" y2="465.50" stroke="#222" stroke-width="1.1"/>
<rect x="601.70" y="467.70" width="16.90" height="57.60" fill="#3f8abd" stroke="#1e1e1e" stroke-width="1.1"/>
<line x1="636.85" y1="436.40" x2="636.85" y2="439.30" stroke="#222" stroke-width="1.0"/>
<line x1="632.35" y1="436.40" x2="641.35" y2="436.40" stroke="#222" stroke-width="1.1"/>
<rect x="628.30" y="439.30" width="17.10" height="86.00" fill="#3f8abd" stroke="#1e1e1e" stroke-width="1.1"/>
<line x1="415.00" y1="421.60" x2="415.00" y2="526.15" stroke="#111" stroke-width="1.7"/>
<line x1="414.15" y1="525.30" x2="654.30" y2="525.30" stroke="#111" stroke-width="1.9"/>
<line x1="410.40" y1="525.30" x2="415.00" y2="525.30" stroke="#111" stroke-width="1.5"/>
<text x="409.40" y="527.35" font-size="6.2" style="font-weight:bold;" fill="#1c1c1c" text-anchor="end" textLength="3.62" lengthAdjust="spacingAndGlyphs">0</text>
<line x1="410.40" y1="499.60" x2="415.00" y2="499.60" stroke="#111" stroke-width="1.5"/>
<text x="409.40" y="501.65" font-size="6.2" style="font-weight:bold;" fill="#1c1c1c" text-anchor="end" textLength="14.48" lengthAdjust="spacingAndGlyphs">5000</text>
<line x1="410.40" y1="473.90" x2="415.00" y2="473.90" stroke="#111" stroke-width="1.5"/>
<text x="409.40" y="475.95" font-size="6.2" style="font-weight:bold;" fill="#1c1c1c" text-anchor="end" textLength="18.10" lengthAdjust="spacingAndGlyphs">10000</text>
<line x1="410.40" y1="448.20" x2="415.00" y2="448.20" stroke="#111" stroke-width="1.5"/>
<text x="409.40" y="450.25" font-size="6.2" style="font-weight:bold;" fill="#1c1c1c" text-anchor="end" textLength="18.10" lengthAdjust="spacingAndGlyphs">15000</text>
<line x1="410.40" y1="422.50" x2="415.00" y2="422.50" stroke="#111" stroke-width="1.5"/>
<text x="409.40" y="424.55" font-size="6.2" style="font-weight:bold;" fill="#1c1c1c" text-anchor="end" textLength="18.10" lengthAdjust="spacingAndGlyphs">20000</text>
<line x1="431.20" y1="417.90" x2="510.90" y2="417.90" stroke="#333" stroke-width="1.3"/>
<circle cx="466.70" cy="412.00" r="1.55" fill="#1a1a1a"/>
<circle cx="470.00" cy="412.00" r="1.55" fill="#1a1a1a"/>
<circle cx="473.30" cy="412.00" r="1.55" fill="#1a1a1a"/>
<line x1="431.20" y1="431.40" x2="481.40" y2="431.40" stroke="#333" stroke-width="1.3"/>
<text x="455.30" y="427.20" font-size="6.6" style="" fill="#333" text-anchor="middle" textLength="5.60" lengthAdjust="spacingAndGlyphs">ns</text>
<line x1="431.20" y1="445.90" x2="451.80" y2="445.90" stroke="#333" stroke-width="1.3"/>
<text x="440.80" y="442.20" font-size="6.6" style="" fill="#333" text-anchor="middle" textLength="5.60" lengthAdjust="spacingAndGlyphs">ns</text>
<line x1="556.20" y1="416.90" x2="635.70" y2="416.90" stroke="#333" stroke-width="1.3"/>
<circle cx="593.50" cy="411.40" r="1.55" fill="#1a1a1a"/>
<circle cx="596.80" cy="411.40" r="1.55" fill="#1a1a1a"/>
<circle cx="600.10" cy="411.40" r="1.55" fill="#1a1a1a"/>
<line x1="556.20" y1="430.40" x2="609.00" y2="430.40" stroke="#333" stroke-width="1.3"/>
<circle cx="579.50" cy="425.40" r="1.55" fill="#1a1a1a"/>
<circle cx="582.80" cy="425.40" r="1.55" fill="#1a1a1a"/>
<circle cx="586.10" cy="425.40" r="1.55" fill="#1a1a1a"/>
<line x1="556.20" y1="444.40" x2="585.00" y2="444.40" stroke="#333" stroke-width="1.3"/>
<circle cx="567.10" cy="440.20" r="1.55" fill="#1a1a1a"/>
<circle cx="570.40" cy="440.20" r="1.55" fill="#1a1a1a"/>
<circle cx="573.70" cy="440.20" r="1.55" fill="#1a1a1a"/>
<text transform="translate(387.20,519.70) rotate(-90)" font-size="11.4" style="font-weight:bold;" fill="#1c1c1c" textLength="81.70" lengthAdjust="spacingAndGlyphs">H2DCFDA Mean</text>
<text transform="translate(433.80,553.40) rotate(-90)" font-size="7.0" style="" fill="#1c1c1c" textLength="14.80" lengthAdjust="spacingAndGlyphs">Veh.</text>
<text transform="translate(459.80,553.40) rotate(-90)" font-size="7.0" style="" fill="#1c1c1c" textLength="22.30" lengthAdjust="spacingAndGlyphs">0.1 µM</text>
<text transform="translate(486.20,553.40) rotate(-90)" font-size="7.0" style="" fill="#1c1c1c" textLength="16.00" lengthAdjust="spacingAndGlyphs">1 µM</text>
<text transform="translate(513.40,553.40) rotate(-90)" font-size="7.0" style="" fill="#1c1c1c" textLength="20.30" lengthAdjust="spacingAndGlyphs">10 µM</text>
<text transform="translate(560.30,552.30) rotate(-90)" font-size="7.0" style="" fill="#1c1c1c" textLength="14.80" lengthAdjust="spacingAndGlyphs">Veh.</text>
<text transform="translate(585.90,552.30) rotate(-90)" font-size="7.0" style="" fill="#1c1c1c" textLength="22.30" lengthAdjust="spacingAndGlyphs">0.1 µM</text>
<text transform="translate(612.10,552.30) rotate(-90)" font-size="7.0" style="" fill="#1c1c1c" textLength="16.00" lengthAdjust="spacingAndGlyphs">1 µM</text>
<text transform="translate(639.30,552.30) rotate(-90)" font-size="7.0" style="" fill="#1c1c1c" textLength="20.30" lengthAdjust="spacingAndGlyphs">10 µM</text>
<line x1="449.30" y1="561.70" x2="516.90" y2="561.70" stroke="#333" stroke-width="1.3"/>
<text x="482.70" y="571.90" font-size="7.3" style="" fill="#1c1c1c" text-anchor="middle" textLength="28.50" lengthAdjust="spacingAndGlyphs">ATN-224</text>
<line x1="575.70" y1="561.70" x2="642.90" y2="561.70" stroke="#333" stroke-width="1.3"/>
<text x="609.30" y="571.90" font-size="7.3" style="" fill="#1c1c1c" text-anchor="middle" textLength="28.50" lengthAdjust="spacingAndGlyphs">ATN-224</text>
<line x1="419.00" y1="577.00" x2="519.50" y2="577.00" stroke="#333" stroke-width="1.3"/>
<text x="469.40" y="587.10" font-size="7.3" style="" fill="#1c1c1c" text-anchor="middle" textLength="30.60" lengthAdjust="spacingAndGlyphs">Normoxia</text>
<line x1="547.20" y1="577.00" x2="648.60" y2="577.00" stroke="#333" stroke-width="1.3"/>
<text x="597.30" y="587.10" font-size="7.3" style="" fill="#1c1c1c" text-anchor="middle" textLength="26.30" lengthAdjust="spacingAndGlyphs">Hypoxia</text>
<text x="7.00" y="628.30" font-size="24" style="" fill="#1c1c1c" textLength="14.40" lengthAdjust="spacingAndGlyphs">C</text>
<line x1="77.80" y1="703.8" x2="255.4" y2="703.8" stroke="#111" stroke-width="1.5" stroke-dasharray="1.5 1.55"/>
<line x1="76.80" y1="623.40" x2="76.80" y2="744.20" stroke="#111" stroke-width="1.8"/>
<line x1="75.90" y1="743.30" x2="256.20" y2="743.30" stroke="#111" stroke-width="1.8"/>
<line x1="72.00" y1="743.30" x2="76.80" y2="743.30" stroke="#111" stroke-width="1.6"/>
<text x="70.00" y="746.50" font-size="8.8" style="font-weight:bold;" fill="#1c1c1c" text-anchor="end" textLength="11.70" lengthAdjust="spacingAndGlyphs">0.0</text>
<line x1="72.00" y1="703.60" x2="76.80" y2="703.60" stroke="#111" stroke-width="1.6"/>
<text x="70.00" y="706.80" font-size="8.8" style="font-weight:bold;" fill="#1c1c1c" text-anchor="end" textLength="11.70" lengthAdjust="spacingAndGlyphs">0.5</text>
<line x1="72.00" y1="663.90" x2="76.80" y2="663.90" stroke="#111" stroke-width="1.6"/>
<text x="70.00" y="667.10" font-size="8.8" style="font-weight:bold;" fill="#1c1c1c" text-anchor="end" textLength="11.70" lengthAdjust="spacingAndGlyphs">1.0</text>
<line x1="72.00" y1="624.20" x2="76.80" y2="624.20" stroke="#111" stroke-width="1.6"/>
<text x="70.00" y="627.40" font-size="8.8" style="font-weight:bold;" fill="#1c1c1c" text-anchor="end" textLength="11.70" lengthAdjust="spacingAndGlyphs">1.5</text>
<line x1="76.80" y1="743.30" x2="76.80" y2="747.90" stroke="#111" stroke-width="1.6"/>
<text x="77.10" y="758.70" font-size="8.8" style="font-weight:bold;" fill="#1c1c1c" text-anchor="middle" textLength="5.00" lengthAdjust="spacingAndGlyphs">0</text>
<line x1="121.60" y1="743.30" x2="121.60" y2="747.90" stroke="#111" stroke-width="1.6"/>
<text x="121.90" y="758.70" font-size="8.8" style="font-weight:bold;" fill="#1c1c1c" text-anchor="middle" textLength="11.70" lengthAdjust="spacingAndGlyphs">0.1</text>
<line x1="166.10" y1="743.30" x2="166.10" y2="747.90" stroke="#111" stroke-width="1.6"/>
<text x="166.40" y="758.70" font-size="8.8" style="font-weight:bold;" fill="#1c1c1c" text-anchor="middle" textLength="4.60" lengthAdjust="spacingAndGlyphs">1</text>
<line x1="210.70" y1="743.30" x2="210.70" y2="747.90" stroke="#111" stroke-width="1.6"/>
<text x="211.00" y="758.70" font-size="8.8" style="font-weight:bold;" fill="#1c1c1c" text-anchor="middle" textLength="9.80" lengthAdjust="spacingAndGlyphs">10</text>
<line x1="255.30" y1="743.30" x2="255.30" y2="747.90" stroke="#111" stroke-width="1.6"/>
<text x="255.60" y="758.70" font-size="8.8" style="font-weight:bold;" fill="#1c1c1c" text-anchor="middle" textLength="15.30" lengthAdjust="spacingAndGlyphs">100</text>
<line x1="96.60" y1="743.30" x2="96.60" y2="746.50" stroke="#111" stroke-width="1.5"/>
<line x1="106.10" y1="743.30" x2="106.10" y2="746.50" stroke="#111" stroke-width="1.5"/>
<line x1="112.70" y1="743.30" x2="112.70" y2="746.50" stroke="#111" stroke-width="1.5"/>
<line x1="117.20" y1="743.30" x2="117.20" y2="746.50" stroke="#111" stroke-width="1.5"/>
<line x1="141.40" y1="743.30" x2="141.40" y2="746.50" stroke="#111" stroke-width="1.5"/>
<line x1="150.90" y1="743.30" x2="150.90" y2="746.50" stroke="#111" stroke-width="1.5"/>
<line x1="157.50" y1="743.30" x2="157.50" y2="746.50" stroke="#111" stroke-width="1.5"/>
<line x1="162.00" y1="743.30" x2="162.00" y2="746.50" stroke="#111" stroke-width="1.5"/>
<line x1="185.90" y1="743.30" x2="185.90" y2="746.50" stroke="#111" stroke-width="1.5"/>
<line x1="195.40" y1="743.30" x2="195.40" y2="746.50" stroke="#111" stroke-width="1.5"/>
<line x1="202.00" y1="743.30" x2="202.00" y2="746.50" stroke="#111" stroke-width="1.5"/>
<line x1="206.50" y1="743.30" x2="206.50" y2="746.50" stroke="#111" stroke-width="1.5"/>
<line x1="230.50" y1="743.30" x2="230.50" y2="746.50" stroke="#111" stroke-width="1.5"/>
<line x1="240.00" y1="743.30" x2="240.00" y2="746.50" stroke="#111" stroke-width="1.5"/>
<line x1="246.60" y1="743.30" x2="246.60" y2="746.50" stroke="#111" stroke-width="1.5"/>
<line x1="251.10" y1="743.30" x2="251.10" y2="746.50" stroke="#111" stroke-width="1.5"/>
<text x="129.90" y="773.30" font-size="11.0" style="font-weight:bold;" fill="#1c1c1c" textLength="74.40" lengthAdjust="spacingAndGlyphs">ATN-224 [µM]</text>
<text transform="translate(47.90,743.00) rotate(-90)" font-size="12.4" style="font-weight:bold;" fill="#1c1c1c" textLength="113.30" lengthAdjust="spacingAndGlyphs">Relative cell densitiy</text>
<path d="M76.80,662.30 L121.40,668.20 L152.40,665.10 L166.00,653.90 L197.10,677.90 L210.50,702.20 L241.70,710.90" fill="none" stroke="#2c3592" stroke-width="1.1"/>
<line x1="76.80" y1="660.00" x2="76.80" y2="664.50" stroke="#2c3592" stroke-width="1.1"/>
<line x1="74.20" y1="660.00" x2="79.40" y2="660.00" stroke="#2c3592" stroke-width="1.1"/>
<line x1="74.20" y1="664.50" x2="79.40" y2="664.50" stroke="#2c3592" stroke-width="1.1"/>
<rect x="74.35" y="659.85" width="4.90" height="4.90" fill="#2c3592"/>
<line x1="121.40" y1="666.00" x2="121.40" y2="670.00" stroke="#2c3592" stroke-width="1.1"/>
<line x1="118.80" y1="666.00" x2="124.00" y2="666.00" stroke="#2c3592" stroke-width="1.1"/>
<line x1="118.80" y1="670.00" x2="124.00" y2="670.00" stroke="#2c3592" stroke-width="1.1"/>
<rect x="118.95" y="665.75" width="4.90" height="4.90" fill="#2c3592"/>
<line x1="152.40" y1="662.00" x2="152.40" y2="668.00" stroke="#2c3592" stroke-width="1.1"/>
<line x1="149.80" y1="662.00" x2="155.00" y2="662.00" stroke="#2c3592" stroke-width="1.1"/>
<line x1="149.80" y1="668.00" x2="155.00" y2="668.00" stroke="#2c3592" stroke-width="1.1"/>
<rect x="149.95" y="662.65" width="4.90" height="4.90" fill="#2c3592"/>
<line x1="166.00" y1="649.00" x2="166.00" y2="659.30" stroke="#2c3592" stroke-width="1.1"/>
<line x1="163.40" y1="649.00" x2="168.60" y2="649.00" stroke="#2c3592" stroke-width="1.1"/>
<line x1="163.40" y1="659.30" x2="168.60" y2="659.30" stroke="#2c3592" stroke-width="1.1"/>
<rect x="163.55" y="651.45" width="4.90" height="4.90" fill="#2c3592"/>
<line x1="197.10" y1="674.60" x2="197.10" y2="681.80" stroke="#2c3592" stroke-width="1.1"/>
<line x1="194.50" y1="674.60" x2="199.70" y2="674.60" stroke="#2c3592" stroke-width="1.1"/>
<line x1="194.50" y1="681.80" x2="199.70" y2="681.80" stroke="#2c3592" stroke-width="1.1"/>
<rect x="194.65" y="675.45" width="4.90" height="4.90" fill="#2c3592"/>
<rect x="208.05" y="699.75" width="4.90" height="4.90" fill="#2c3592"/>
<rect x="239.25" y="708.45" width="4.90" height="4.90" fill="#2c3592"/>
<path d="M76.80,664.10 L121.40,658.30 L152.40,656.80 L166.00,650.10 L197.10,660.30 L210.50,715.30 L241.70,720.40" fill="none" stroke="#c02a3d" stroke-width="1.1"/>
<circle cx="76.80" cy="664.10" r="2.6" fill="#c02a3d"/>
<line x1="121.40" y1="656.30" x2="121.40" y2="660.30" stroke="#c02a3d" stroke-width="1.1"/>
<line x1="118.80" y1="656.30" x2="124.00" y2="656.30" stroke="#c02a3d" stroke-width="1.1"/>
<line x1="118.80" y1="660.30" x2="124.00" y2="660.30" stroke="#c02a3d" stroke-width="1.1"/>
<circle cx="121.40" cy="658.30" r="2.6" fill="#c02a3d"/>
<line x1="152.40" y1="652.40" x2="152.40" y2="661.00" stroke="#c02a3d" stroke-width="1.1"/>
<line x1="149.80" y1="652.40" x2="155.00" y2="652.40" stroke="#c02a3d" stroke-width="1.1"/>
<line x1="149.80" y1="661.00" x2="155.00" y2="661.00" stroke="#c02a3d" stroke-width="1.1"/>
<circle cx="152.40" cy="656.80" r="2.6" fill="#c02a3d"/>
<line x1="166.00" y1="644.90" x2="166.00" y2="655.00" stroke="#c02a3d" stroke-width="1.1"/>
<line x1="163.40" y1="644.90" x2="168.60" y2="644.90" stroke="#c02a3d" stroke-width="1.1"/>
<line x1="163.40" y1="655.00" x2="168.60" y2="655.00" stroke="#c02a3d" stroke-width="1.1"/>
<circle cx="166.00" cy="650.10" r="2.6" fill="#c02a3d"/>
<line x1="197.10" y1="656.20" x2="197.10" y2="664.40" stroke="#c02a3d" stroke-width="1.1"/>
<line x1="194.50" y1="656.20" x2="199.70" y2="656.20" stroke="#c02a3d" stroke-width="1.1"/>
<line x1="194.50" y1="664.40" x2="199.70" y2="664.40" stroke="#c02a3d" stroke-width="1.1"/>
<circle cx="197.10" cy="660.30" r="2.6" fill="#c02a3d"/>
<circle cx="210.50" cy="715.30" r="2.6" fill="#c02a3d"/>
<circle cx="241.70" cy="720.40" r="2.6" fill="#c02a3d"/>
<line x1="242.30" y1="639.30" x2="254.20" y2="639.30" stroke="#c02a3d" stroke-width="1.25"/>
<circle cx="248.2" cy="639.3" r="2.6" fill="#c02a3d"/>
<text x="260.40" y="642.70" font-size="9.4" style="" fill="#1c1c1c" textLength="30.30" lengthAdjust="spacingAndGlyphs">LN-229</text>
<line x1="242.30" y1="656.40" x2="254.20" y2="656.40" stroke="#2c3592" stroke-width="1.25"/>
<rect x="245.70" y="654.10" width="4.60" height="4.60" fill="#2c3592"/>
<text x="260.40" y="659.80" font-size="9.4" style="" fill="#1c1c1c" textLength="23.10" lengthAdjust="spacingAndGlyphs">T98G</text>
<text x="7.40" y="814.50" font-size="24" style="" fill="#1c1c1c" textLength="15.20" lengthAdjust="spacingAndGlyphs">D</text>
<text x="146.10" y="817.00" font-size="13.4" style="font-weight:bold;" fill="#1c1c1c" textLength="45.20" lengthAdjust="spacingAndGlyphs">LN-229</text>
<text x="510.20" y="823.00" font-size="13.4" style="font-weight:bold;" fill="#1c1c1c" textLength="32.70" lengthAdjust="spacingAndGlyphs">T98G</text>
<line x1="30.10" y1="850.20" x2="30.10" y2="941.10" stroke="#111" stroke-width="1.5"/>
<line x1="29.35" y1="940.30" x2="118.70" y2="940.30" stroke="#111" stroke-width="1.6"/>
<line x1="26.50" y1="851.00" x2="30.10" y2="851.00" stroke="#111" stroke-width="1.3"/>
<text x="25.70" y="853.30" font-size="6.5" style="" fill="#3a3a3a" text-anchor="end" textLength="10.30" lengthAdjust="spacingAndGlyphs">150</text>
<line x1="26.50" y1="888.10" x2="30.10" y2="888.10" stroke="#111" stroke-width="1.3"/>
<text x="25.70" y="890.40" font-size="6.5" style="" fill="#3a3a3a" text-anchor="end" textLength="10.30" lengthAdjust="spacingAndGlyphs">100</text>
<line x1="26.50" y1="925.40" x2="30.10" y2="925.40" stroke="#111" stroke-width="1.3"/>
<text x="25.70" y="927.70" font-size="6.5" style="" fill="#3a3a3a" text-anchor="end" textLength="6.87" lengthAdjust="spacingAndGlyphs">50</text>
<line x1="27.80" y1="869.90" x2="30.10" y2="869.90" stroke="#111" stroke-width="1.3"/>
<line x1="27.80" y1="906.70" x2="30.10" y2="906.70" stroke="#111" stroke-width="1.3"/>
<line x1="43.00" y1="940.30" x2="43.00" y2="944.30" stroke="#111" stroke-width="1.4"/>
<line x1="63.70" y1="940.30" x2="63.70" y2="944.30" stroke="#111" stroke-width="1.4"/>
<line x1="84.70" y1="940.30" x2="84.70" y2="944.30" stroke="#111" stroke-width="1.4"/>
<line x1="105.60" y1="940.30" x2="105.60" y2="944.30" stroke="#111" stroke-width="1.4"/>
<path d="M43.55,869.50 C43.61,869.78 43.69,870.65 43.90,871.20 C44.11,871.75 44.38,872.25 44.80,872.80 C45.22,873.35 45.98,873.92 46.40,874.50 C46.82,875.08 47.28,875.68 47.30,876.30 C47.32,876.92 46.80,877.58 46.50,878.20 C46.20,878.82 45.32,879.38 45.50,880.00 C45.68,880.62 46.88,881.27 47.60,881.90 C48.32,882.53 49.65,883.20 49.80,883.80 C49.95,884.40 49.10,884.97 48.50,885.50 C47.90,886.03 46.87,886.50 46.20,887.00 C45.53,887.50 44.90,888.00 44.50,888.50 C44.10,889.00 43.96,889.45 43.80,890.00 C43.64,890.55 43.59,891.50 43.55,891.80 C42.81,891.50 42.76,890.55 42.60,890.00 C42.44,889.45 42.30,889.00 41.90,888.50 C41.50,888.00 40.87,887.50 40.20,887.00 C39.53,886.50 38.50,886.03 37.90,885.50 C37.30,884.97 36.45,884.40 36.60,883.80 C36.75,883.20 38.08,882.53 38.80,881.90 C39.52,881.27 40.72,880.62 40.90,880.00 C41.08,879.38 40.20,878.82 39.90,878.20 C39.60,877.58 39.08,876.92 39.10,876.30 C39.12,875.68 39.58,875.08 40.00,874.50 C40.42,873.92 41.18,873.35 41.60,872.80 C42.02,872.25 42.29,871.75 42.50,871.20 C42.71,870.65 42.79,869.78 42.85,869.50Z" fill="#959595" stroke="#151515" stroke-width="1.3" stroke-linejoin="round"/>
<line x1="40.00" y1="876.30" x2="46.40" y2="876.30" stroke="#222" stroke-width="0.9" stroke-dasharray="0.9 0.9"/>
<line x1="37.60" y1="883.80" x2="48.80" y2="883.80" stroke="#222" stroke-width="0.9" stroke-dasharray="1.6 0.8"/>
<line x1="38.70" y1="885.80" x2="47.70" y2="885.80" stroke="#222" stroke-width="0.9" stroke-dasharray="0.9 0.9"/>
<path d="M64.35,863.70 C64.41,863.95 64.42,864.72 64.70,865.20 C64.98,865.68 65.32,866.13 66.00,866.60 C66.68,867.07 67.98,867.55 68.80,868.00 C69.62,868.45 70.87,868.85 70.90,869.30 C70.93,869.75 69.77,870.22 69.00,870.70 C68.23,871.18 66.70,871.73 66.30,872.20 C65.90,872.67 66.48,873.08 66.60,873.50 C66.72,873.92 67.07,874.25 67.00,874.70 C66.93,875.15 66.55,875.73 66.20,876.20 C65.85,876.67 65.18,877.08 64.90,877.50 C64.62,877.92 64.64,878.28 64.55,878.70 C64.46,879.12 64.38,879.78 64.35,880.00 C63.62,879.78 63.54,879.12 63.45,878.70 C63.36,878.28 63.38,877.92 63.10,877.50 C62.83,877.08 62.15,876.67 61.80,876.20 C61.45,875.73 61.07,875.15 61.00,874.70 C60.93,874.25 61.28,873.92 61.40,873.50 C61.52,873.08 62.10,872.67 61.70,872.20 C61.30,871.73 59.77,871.18 59.00,870.70 C58.23,870.22 57.07,869.75 57.10,869.30 C57.13,868.85 58.38,868.45 59.20,868.00 C60.02,867.55 61.32,867.07 62.00,866.60 C62.68,866.13 63.02,865.68 63.30,865.20 C63.57,864.72 63.59,863.95 63.65,863.70Z" fill="#b9d6dd" stroke="#151515" stroke-width="1.3" stroke-linejoin="round"/>
<line x1="58.40" y1="869.00" x2="69.60" y2="869.00" stroke="#222" stroke-width="0.9" stroke-dasharray="1.6 0.8"/>
<line x1="61.80" y1="874.50" x2="66.20" y2="874.50" stroke="#222" stroke-width="0.9" stroke-dasharray="0.9 0.9"/>
<path d="M85.05,894.30 C85.11,894.67 85.23,895.80 85.40,896.50 C85.58,897.20 85.73,897.75 86.10,898.50 C86.47,899.25 87.12,900.20 87.60,901.00 C88.08,901.80 88.67,902.53 89.00,903.30 C89.33,904.07 89.58,904.78 89.60,905.60 C89.62,906.42 89.27,907.35 89.10,908.20 C88.93,909.05 88.42,909.73 88.60,910.70 C88.78,911.67 89.70,912.82 90.20,914.00 C90.70,915.18 91.48,916.63 91.60,917.80 C91.72,918.97 91.35,919.97 90.90,921.00 C90.45,922.03 89.57,923.08 88.90,924.00 C88.23,924.92 87.42,925.75 86.90,926.50 C86.38,927.25 86.07,927.75 85.80,928.50 C85.53,929.25 85.42,930.13 85.30,931.00 C85.17,931.87 85.09,933.25 85.05,933.70 C84.31,933.25 84.23,931.87 84.10,931.00 C83.98,930.13 83.87,929.25 83.60,928.50 C83.33,927.75 83.02,927.25 82.50,926.50 C81.98,925.75 81.17,924.92 80.50,924.00 C79.83,923.08 78.95,922.03 78.50,921.00 C78.05,919.97 77.68,918.97 77.80,917.80 C77.92,916.63 78.70,915.18 79.20,914.00 C79.70,912.82 80.62,911.67 80.80,910.70 C80.98,909.73 80.47,909.05 80.30,908.20 C80.13,907.35 79.78,906.42 79.80,905.60 C79.82,904.78 80.07,904.07 80.40,903.30 C80.73,902.53 81.32,901.80 81.80,901.00 C82.28,900.20 82.93,899.25 83.30,898.50 C83.67,897.75 83.83,897.20 84.00,896.50 C84.17,895.80 84.29,894.67 84.35,894.30Z" fill="#b9d6dd" stroke="#151515" stroke-width="1.3" stroke-linejoin="round"/>
<line x1="80.60" y1="905.80" x2="88.80" y2="905.80" stroke="#222" stroke-width="0.9" stroke-dasharray="0.9 0.9"/>
<line x1="79.10" y1="915.80" x2="90.30" y2="915.80" stroke="#222" stroke-width="0.9" stroke-dasharray="2 0.8"/>
<line x1="79.30" y1="921.40" x2="90.10" y2="921.40" stroke="#222" stroke-width="0.9" stroke-dasharray="0.9 0.9"/>
<path d="M105.65,911.70 C105.76,911.88 105.77,912.42 106.30,912.80 C106.83,913.18 107.88,913.58 108.80,914.00 C109.72,914.42 111.58,914.88 111.80,915.30 C112.02,915.72 110.65,916.08 110.10,916.50 C109.55,916.92 108.83,917.38 108.50,917.80 C108.17,918.22 108.38,918.60 108.10,919.00 C107.82,919.40 107.15,919.87 106.80,920.20 C106.45,920.53 106.19,920.70 106.00,921.00 C105.81,921.30 105.71,921.83 105.65,922.00 C104.89,921.83 104.79,921.30 104.60,921.00 C104.41,920.70 104.15,920.53 103.80,920.20 C103.45,919.87 102.78,919.40 102.50,919.00 C102.22,918.60 102.43,918.22 102.10,917.80 C101.77,917.38 101.05,916.92 100.50,916.50 C99.95,916.08 98.58,915.72 98.80,915.30 C99.02,914.88 100.88,914.42 101.80,914.00 C102.72,913.58 103.77,913.18 104.30,912.80 C104.83,912.42 104.84,911.88 104.95,911.70Z" fill="#b9d6dd" stroke="#151515" stroke-width="1.3" stroke-linejoin="round"/>
<line x1="100.10" y1="915.30" x2="110.50" y2="915.30" stroke="#222" stroke-width="0.9" stroke-dasharray="1.5 0.8"/>
<line x1="41.80" y1="838.00" x2="104.00" y2="838.00" stroke="#333" stroke-width="1.3"/>
<circle cx="69.70" cy="832.10" r="1.55" fill="#1a1a1a"/>
<circle cx="73.00" cy="832.10" r="1.55" fill="#1a1a1a"/>
<circle cx="76.30" cy="832.10" r="1.55" fill="#1a1a1a"/>
<line x1="41.80" y1="849.40" x2="83.10" y2="849.40" stroke="#333" stroke-width="1.3"/>
<circle cx="59.30" cy="844.50" r="1.55" fill="#1a1a1a"/>
<circle cx="62.60" cy="844.50" r="1.55" fill="#1a1a1a"/>
<circle cx="65.90" cy="844.50" r="1.55" fill="#1a1a1a"/>
<line x1="41.80" y1="858.70" x2="63.60" y2="858.70" stroke="#333" stroke-width="1.3"/>
<text x="54.10" y="856.30" font-size="6.6" style="" fill="#333" text-anchor="middle" textLength="5.60" lengthAdjust="spacingAndGlyphs">ns</text>
<text transform="translate(10.40,940.00) rotate(-90)" font-size="10.6" style="font-weight:bold;" fill="#1c1c1c" textLength="99.70" lengthAdjust="spacingAndGlyphs">Number of colonies</text>
<text transform="translate(44.80,946.00) rotate(-90)" font-size="7.0" style="" fill="#1c1c1c" text-anchor="end" textLength="15.30" lengthAdjust="spacingAndGlyphs">Veh.</text>
<text transform="translate(63.90,946.00) rotate(-90)" font-size="7.0" style="" fill="#1c1c1c" text-anchor="end" textLength="27.00" lengthAdjust="spacingAndGlyphs">0.01 µM</text>
<text transform="translate(84.90,946.00) rotate(-90)" font-size="7.0" style="" fill="#1c1c1c" text-anchor="end" textLength="23.30" lengthAdjust="spacingAndGlyphs">0.1 µM</text>
<text transform="translate(105.80,946.00) rotate(-90)" font-size="7.0" style="" fill="#1c1c1c" text-anchor="end" textLength="17.40" lengthAdjust="spacingAndGlyphs">1 µM</text>
<line x1="53.70" y1="976.10" x2="111.90" y2="976.10" stroke="#333" stroke-width="1.3"/>
<text x="89.15" y="984.60" font-size="7.3" style="" fill="#1c1c1c" text-anchor="middle" textLength="28.10" lengthAdjust="spacingAndGlyphs">ATN-224</text>
<line x1="384.70" y1="849.00" x2="384.70" y2="941.20" stroke="#111" stroke-width="1.5"/>
<line x1="383.95" y1="940.40" x2="476.40" y2="940.40" stroke="#111" stroke-width="1.6"/>
<line x1="381.10" y1="885.20" x2="384.70" y2="885.20" stroke="#111" stroke-width="1.3"/>
<text x="380.10" y="887.50" font-size="6.5" style="" fill="#3a3a3a" text-anchor="end" textLength="6.87" lengthAdjust="spacingAndGlyphs">50</text>
<line x1="381.10" y1="931.30" x2="384.70" y2="931.30" stroke="#111" stroke-width="1.3"/>
<text x="380.10" y="933.60" font-size="6.5" style="" fill="#3a3a3a" text-anchor="end" textLength="3.43" lengthAdjust="spacingAndGlyphs">0</text>
<line x1="382.40" y1="862.50" x2="384.70" y2="862.50" stroke="#111" stroke-width="1.3"/>
<line x1="382.40" y1="908.30" x2="384.70" y2="908.30" stroke="#111" stroke-width="1.3"/>
<line x1="399.00" y1="940.40" x2="399.00" y2="944.40" stroke="#111" stroke-width="1.4"/>
<line x1="420.20" y1="940.40" x2="420.20" y2="944.40" stroke="#111" stroke-width="1.4"/>
<line x1="441.50" y1="940.40" x2="441.50" y2="944.40" stroke="#111" stroke-width="1.4"/>
<line x1="462.90" y1="940.40" x2="462.90" y2="944.40" stroke="#111" stroke-width="1.4"/>
<path d="M399.15,863.00 C399.19,863.50 399.31,865.00 399.40,866.00 C399.49,867.00 399.53,867.93 399.70,869.00 C399.87,870.07 400.10,871.23 400.40,872.40 C400.70,873.57 401.17,874.73 401.50,876.00 C401.83,877.27 402.20,878.65 402.40,880.00 C402.60,881.35 402.72,882.77 402.70,884.10 C402.68,885.43 402.48,886.77 402.30,888.00 C402.12,889.23 401.78,890.40 401.60,891.50 C401.42,892.60 401.07,893.43 401.20,894.60 C401.33,895.77 401.82,897.10 402.40,898.50 C402.98,899.90 404.20,901.43 404.70,903.00 C405.20,904.57 405.45,906.40 405.40,907.90 C405.35,909.40 404.87,910.73 404.40,912.00 C403.93,913.27 403.20,914.33 402.60,915.50 C402.00,916.67 401.25,917.95 400.80,919.00 C400.35,920.05 400.12,920.80 399.90,921.80 C399.68,922.80 399.60,923.88 399.50,925.00 C399.40,926.12 399.36,927.33 399.30,928.50 C399.24,929.67 399.18,931.42 399.15,932.00 C398.43,931.42 398.36,929.67 398.30,928.50 C398.24,927.33 398.20,926.12 398.10,925.00 C398.00,923.88 397.92,922.80 397.70,921.80 C397.48,920.80 397.25,920.05 396.80,919.00 C396.35,917.95 395.60,916.67 395.00,915.50 C394.40,914.33 393.67,913.27 393.20,912.00 C392.73,910.73 392.25,909.40 392.20,907.90 C392.15,906.40 392.40,904.57 392.90,903.00 C393.40,901.43 394.62,899.90 395.20,898.50 C395.78,897.10 396.27,895.77 396.40,894.60 C396.53,893.43 396.18,892.60 396.00,891.50 C395.82,890.40 395.48,889.23 395.30,888.00 C395.12,886.77 394.92,885.43 394.90,884.10 C394.88,882.77 395.00,881.35 395.20,880.00 C395.40,878.65 395.77,877.27 396.10,876.00 C396.43,874.73 396.90,873.57 397.20,872.40 C397.50,871.23 397.73,870.07 397.90,869.00 C398.07,867.93 398.11,867.00 398.20,866.00 C398.29,865.00 398.41,863.50 398.45,863.00Z" fill="#959595" stroke="#151515" stroke-width="1.3" stroke-linejoin="round"/>
<line x1="395.50" y1="884.10" x2="402.10" y2="884.10" stroke="#222" stroke-width="0.9" stroke-dasharray="1.2 1"/>
<line x1="392.60" y1="905.60" x2="405.00" y2="905.60" stroke="#222" stroke-width="0.9" stroke-dasharray="2 0.8"/>
<line x1="393.00" y1="911.20" x2="404.60" y2="911.20" stroke="#222" stroke-width="0.9" stroke-dasharray="1.2 1"/>
<path d="M420.55,860.70 C420.61,861.17 420.71,862.53 420.90,863.50 C421.09,864.47 421.22,865.50 421.70,866.50 C422.18,867.50 423.08,868.42 423.80,869.50 C424.52,870.58 425.52,871.75 426.00,873.00 C426.48,874.25 426.62,875.67 426.70,877.00 C426.78,878.33 426.63,879.67 426.50,881.00 C426.37,882.33 426.07,883.67 425.90,885.00 C425.73,886.33 425.48,887.67 425.50,889.00 C425.52,890.33 425.80,891.63 426.00,893.00 C426.20,894.37 426.73,895.95 426.70,897.20 C426.67,898.45 426.28,899.45 425.80,900.50 C425.32,901.55 424.43,902.58 423.80,903.50 C423.17,904.42 422.45,905.17 422.00,906.00 C421.55,906.83 421.30,907.58 421.10,908.50 C420.90,909.42 420.89,910.45 420.80,911.50 C420.71,912.55 420.59,914.25 420.55,914.80 C419.81,914.25 419.69,912.55 419.60,911.50 C419.51,910.45 419.50,909.42 419.30,908.50 C419.10,907.58 418.85,906.83 418.40,906.00 C417.95,905.17 417.23,904.42 416.60,903.50 C415.97,902.58 415.08,901.55 414.60,900.50 C414.12,899.45 413.73,898.45 413.70,897.20 C413.67,895.95 414.20,894.37 414.40,893.00 C414.60,891.63 414.88,890.33 414.90,889.00 C414.92,887.67 414.67,886.33 414.50,885.00 C414.33,883.67 414.03,882.33 413.90,881.00 C413.77,879.67 413.62,878.33 413.70,877.00 C413.78,875.67 413.92,874.25 414.40,873.00 C414.88,871.75 415.88,870.58 416.60,869.50 C417.32,868.42 418.22,867.50 418.70,866.50 C419.18,865.50 419.31,864.47 419.50,863.50 C419.69,862.53 419.79,861.17 419.85,860.70Z" fill="#b9d6dd" stroke="#151515" stroke-width="1.3" stroke-linejoin="round"/>
<line x1="414.20" y1="877.50" x2="426.20" y2="877.50" stroke="#222" stroke-width="0.9" stroke-dasharray="1.2 1"/>
<line x1="415.20" y1="887.30" x2="425.20" y2="887.30" stroke="#222" stroke-width="0.9" stroke-dasharray="2.5 0.8"/>
<line x1="414.20" y1="898.30" x2="426.20" y2="898.30" stroke="#222" stroke-width="0.9" stroke-dasharray="1.2 1"/>
<path d="M441.85,860.40 C441.91,861.00 442.04,862.73 442.20,864.00 C442.36,865.27 442.52,866.67 442.80,868.00 C443.08,869.33 443.55,870.58 443.90,872.00 C444.25,873.42 444.68,874.90 444.90,876.50 C445.12,878.10 445.22,880.02 445.20,881.60 C445.18,883.18 444.92,884.60 444.80,886.00 C444.68,887.40 444.38,888.67 444.50,890.00 C444.62,891.33 445.00,892.58 445.50,894.00 C446.00,895.42 447.07,896.93 447.50,898.50 C447.93,900.07 448.10,901.90 448.10,903.40 C448.10,904.90 447.87,906.23 447.50,907.50 C447.13,908.77 446.47,909.83 445.90,911.00 C445.33,912.17 444.60,913.33 444.10,914.50 C443.60,915.67 443.20,916.75 442.90,918.00 C442.60,919.25 442.45,920.58 442.30,922.00 C442.15,923.42 442.07,925.00 442.00,926.50 C441.93,928.00 441.88,930.25 441.85,931.00 C441.12,930.25 441.07,928.00 441.00,926.50 C440.93,925.00 440.85,923.42 440.70,922.00 C440.55,920.58 440.40,919.25 440.10,918.00 C439.80,916.75 439.40,915.67 438.90,914.50 C438.40,913.33 437.67,912.17 437.10,911.00 C436.53,909.83 435.87,908.77 435.50,907.50 C435.13,906.23 434.90,904.90 434.90,903.40 C434.90,901.90 435.07,900.07 435.50,898.50 C435.93,896.93 437.00,895.42 437.50,894.00 C438.00,892.58 438.38,891.33 438.50,890.00 C438.62,888.67 438.32,887.40 438.20,886.00 C438.08,884.60 437.82,883.18 437.80,881.60 C437.78,880.02 437.88,878.10 438.10,876.50 C438.32,874.90 438.75,873.42 439.10,872.00 C439.45,870.58 439.92,869.33 440.20,868.00 C440.48,866.67 440.64,865.27 440.80,864.00 C440.96,862.73 441.09,861.00 441.15,860.40Z" fill="#b9d6dd" stroke="#151515" stroke-width="1.3" stroke-linejoin="round"/>
<line x1="438.30" y1="881.60" x2="444.70" y2="881.60" stroke="#222" stroke-width="0.9" stroke-dasharray="1.2 1"/>
<line x1="436.30" y1="896.60" x2="446.70" y2="896.60" stroke="#222" stroke-width="0.9" stroke-dasharray="2.5 0.8"/>
<line x1="436.20" y1="909.30" x2="446.80" y2="909.30" stroke="#222" stroke-width="0.9" stroke-dasharray="1.2 1"/>
<path d="M463.25,928.60 C463.61,928.70 464.52,928.98 465.40,929.20 C466.27,929.42 467.75,929.67 468.50,929.90 C469.25,930.13 469.90,930.37 469.90,930.60 C469.90,930.83 469.25,931.07 468.50,931.30 C467.75,931.53 466.27,931.78 465.40,932.00 C464.52,932.22 463.61,932.50 463.25,932.60 C462.19,932.50 461.27,932.22 460.40,932.00 C459.52,931.78 458.05,931.53 457.30,931.30 C456.55,931.07 455.90,930.83 455.90,930.60 C455.90,930.37 456.55,930.13 457.30,929.90 C458.05,929.67 459.52,929.42 460.40,929.20 C461.27,928.98 462.19,928.70 462.55,928.60Z" fill="#b9d6dd" stroke="#151515" stroke-width="1.3" stroke-linejoin="round"/>
<line x1="457.90" y1="930.60" x2="467.90" y2="930.60" stroke="#222" stroke-width="0.9" stroke-dasharray="1.2 0.8"/>
<line x1="398.40" y1="837.40" x2="462.00" y2="837.40" stroke="#333" stroke-width="1.3"/>
<circle cx="430.30" cy="831.90" r="1.55" fill="#1a1a1a"/>
<line x1="398.40" y1="848.80" x2="440.70" y2="848.80" stroke="#333" stroke-width="1.3"/>
<text x="419.80" y="847.20" font-size="6.6" style="" fill="#333" text-anchor="middle" textLength="5.60" lengthAdjust="spacingAndGlyphs">ns</text>
<line x1="398.40" y1="858.30" x2="419.80" y2="858.30" stroke="#333" stroke-width="1.3"/>
<text x="409.20" y="856.30" font-size="6.6" style="" fill="#333" text-anchor="middle" textLength="5.60" lengthAdjust="spacingAndGlyphs">ns</text>
<text transform="translate(368.00,937.60) rotate(-90)" font-size="10.6" style="font-weight:bold;" fill="#1c1c1c" textLength="100.60" lengthAdjust="spacingAndGlyphs">Number of colonies</text>
<text transform="translate(400.40,950.10) rotate(-90)" font-size="7.0" style="" fill="#1c1c1c" text-anchor="end" textLength="14.40" lengthAdjust="spacingAndGlyphs">Veh.</text>
<text transform="translate(421.40,950.10) rotate(-90)" font-size="7.0" style="" fill="#1c1c1c" text-anchor="end" textLength="26.00" lengthAdjust="spacingAndGlyphs">0.01 µM</text>
<text transform="translate(442.80,950.10) rotate(-90)" font-size="7.0" style="" fill="#1c1c1c" text-anchor="end" textLength="22.50" lengthAdjust="spacingAndGlyphs">0.1 µM</text>
<text transform="translate(464.00,950.10) rotate(-90)" font-size="7.0" style="" fill="#1c1c1c" text-anchor="end" textLength="16.70" lengthAdjust="spacingAndGlyphs">1 µM</text>
<line x1="412.10" y1="979.30" x2="469.90" y2="979.30" stroke="#333" stroke-width="1.3"/>
<text x="447.30" y="987.90" font-size="7.3" style="" fill="#1c1c1c" text-anchor="middle" textLength="28.60" lengthAdjust="spacingAndGlyphs">ATN-224</text>
<rect x="124.60" y="895.40" width="45.10" height="46.00" fill="#9db0c1"/>
<circle cx="147.15" cy="918.40" r="22.10" fill="#a8b3cc" stroke="#8e98b8" stroke-width="0.7"/>
<circle cx="147.15" cy="918.40" r="20.07" fill="url(#col10)" stroke="#8e98b8" stroke-width="0.5"/>
<circle cx="138.29" cy="914.14" r="0.58" fill="#8379bf" fill-opacity="0.5"/>
<circle cx="136.70" cy="920.90" r="0.46" fill="#8379bf" fill-opacity="0.5"/>
<circle cx="157.62" cy="920.70" r="0.38" fill="#6d64ad" fill-opacity="0.5"/>
<circle cx="162.01" cy="922.67" r="0.59" fill="#8d86c4" fill-opacity="0.5"/>
<circle cx="133.89" cy="925.55" r="0.45" fill="#8379bf" fill-opacity="0.5"/>
<circle cx="142.04" cy="906.41" r="0.40" fill="#8379bf" fill-opacity="0.5"/>
<circle cx="159.33" cy="916.03" r="0.37" fill="#7a70b8" fill-opacity="0.5"/>
<circle cx="147.68" cy="924.27" r="0.71" fill="#6d64ad" fill-opacity="0.5"/>
<circle cx="148.08" cy="911.72" r="0.62" fill="#8d86c4" fill-opacity="0.5"/>
<circle cx="144.50" cy="919.53" r="0.58" fill="#8379bf" fill-opacity="0.5"/>
<circle cx="156.30" cy="904.41" r="0.45" fill="#7a70b8" fill-opacity="0.5"/>
<circle cx="132.19" cy="918.72" r="0.61" fill="#7a70b8" fill-opacity="0.5"/>
<circle cx="154.10" cy="927.93" r="0.50" fill="#8379bf" fill-opacity="0.5"/>
<circle cx="158.11" cy="927.81" r="0.39" fill="#8379bf" fill-opacity="0.5"/>
<circle cx="152.92" cy="917.74" r="0.49" fill="#8d86c4" fill-opacity="0.5"/>
<circle cx="134.64" cy="922.85" r="0.41" fill="#8379bf" fill-opacity="0.5"/>
<circle cx="151.92" cy="912.98" r="0.47" fill="#8379bf" fill-opacity="0.5"/>
<circle cx="148.97" cy="907.98" r="0.49" fill="#8d86c4" fill-opacity="0.5"/>
<circle cx="149.04" cy="929.73" r="0.37" fill="#6d64ad" fill-opacity="0.5"/>
<circle cx="147.48" cy="925.53" r="0.51" fill="#8379bf" fill-opacity="0.5"/>
<circle cx="135.12" cy="928.28" r="0.62" fill="#8379bf" fill-opacity="0.5"/>
<circle cx="145.69" cy="901.50" r="0.46" fill="#8d86c4" fill-opacity="0.5"/>
<circle cx="144.89" cy="916.71" r="0.55" fill="#8d86c4" fill-opacity="0.5"/>
<circle cx="150.88" cy="915.62" r="0.57" fill="#6d64ad" fill-opacity="0.5"/>
<circle cx="136.74" cy="915.82" r="0.42" fill="#8d86c4" fill-opacity="0.5"/>
<circle cx="160.79" cy="928.13" r="0.68" fill="#7a70b8" fill-opacity="0.5"/>
<circle cx="144.48" cy="919.49" r="0.49" fill="#8379bf" fill-opacity="0.5"/>
<circle cx="155.06" cy="924.84" r="0.75" fill="#8d86c4" fill-opacity="0.5"/>
<circle cx="157.07" cy="930.28" r="0.66" fill="#8d86c4" fill-opacity="0.5"/>
<circle cx="143.23" cy="924.31" r="0.67" fill="#8d86c4" fill-opacity="0.5"/>
<circle cx="135.74" cy="924.37" r="0.71" fill="#8379bf" fill-opacity="0.5"/>
<circle cx="146.62" cy="910.24" r="0.36" fill="#8379bf" fill-opacity="0.5"/>
<circle cx="139.60" cy="908.97" r="0.68" fill="#8d86c4" fill-opacity="0.5"/>
<circle cx="151.31" cy="919.06" r="0.47" fill="#8379bf" fill-opacity="0.5"/>
<circle cx="144.02" cy="902.92" r="0.37" fill="#7a70b8" fill-opacity="0.5"/>
<circle cx="154.65" cy="917.52" r="0.62" fill="#8379bf" fill-opacity="0.5"/>
<circle cx="141.11" cy="925.61" r="0.66" fill="#6d64ad" fill-opacity="0.5"/>
<circle cx="152.13" cy="929.45" r="0.52" fill="#7a70b8" fill-opacity="0.5"/>
<circle cx="143.97" cy="911.13" r="0.73" fill="#8d86c4" fill-opacity="0.5"/>
<circle cx="133.84" cy="922.94" r="0.43" fill="#6d64ad" fill-opacity="0.5"/>
<circle cx="158.00" cy="928.08" r="0.35" fill="#8d86c4" fill-opacity="0.5"/>
<circle cx="135.09" cy="908.45" r="0.70" fill="#8379bf" fill-opacity="0.5"/>
<circle cx="155.97" cy="922.56" r="0.39" fill="#7a70b8" fill-opacity="0.5"/>
<circle cx="142.08" cy="925.57" r="0.52" fill="#8379bf" fill-opacity="0.5"/>
<circle cx="141.98" cy="912.97" r="0.63" fill="#8d86c4" fill-opacity="0.5"/>
<circle cx="139.99" cy="918.06" r="0.53" fill="#6d64ad" fill-opacity="0.5"/>
<circle cx="142.84" cy="924.42" r="0.71" fill="#8d86c4" fill-opacity="0.5"/>
<circle cx="144.24" cy="916.63" r="0.57" fill="#6d64ad" fill-opacity="0.5"/>
<circle cx="150.14" cy="909.41" r="0.67" fill="#8d86c4" fill-opacity="0.5"/>
<circle cx="146.62" cy="915.55" r="0.69" fill="#6d64ad" fill-opacity="0.5"/>
<circle cx="155.36" cy="919.24" r="0.48" fill="#8d86c4" fill-opacity="0.5"/>
<circle cx="141.39" cy="913.61" r="0.42" fill="#8379bf" fill-opacity="0.5"/>
<circle cx="143.02" cy="929.28" r="0.68" fill="#7a70b8" fill-opacity="0.5"/>
<circle cx="149.80" cy="932.23" r="0.73" fill="#8379bf" fill-opacity="0.5"/>
<circle cx="131.87" cy="911.26" r="0.72" fill="#7a70b8" fill-opacity="0.5"/>
<circle cx="140.56" cy="923.68" r="0.71" fill="#8379bf" fill-opacity="0.5"/>
<circle cx="132.44" cy="916.28" r="0.66" fill="#6d64ad" fill-opacity="0.5"/>
<circle cx="156.05" cy="908.95" r="0.58" fill="#7a70b8" fill-opacity="0.5"/>
<circle cx="132.98" cy="912.25" r="0.51" fill="#8379bf" fill-opacity="0.5"/>
<circle cx="147.75" cy="914.21" r="0.67" fill="#6d64ad" fill-opacity="0.5"/>
<circle cx="148.94" cy="918.40" r="0.72" fill="#6d64ad" fill-opacity="0.5"/>
<circle cx="155.64" cy="923.66" r="0.70" fill="#7a70b8" fill-opacity="0.5"/>
<circle cx="156.62" cy="930.69" r="0.63" fill="#8d86c4" fill-opacity="0.5"/>
<circle cx="144.25" cy="901.76" r="0.42" fill="#8d86c4" fill-opacity="0.5"/>
<circle cx="150.88" cy="910.75" r="0.57" fill="#8d86c4" fill-opacity="0.5"/>
<circle cx="144.29" cy="920.82" r="0.61" fill="#7a70b8" fill-opacity="0.5"/>
<circle cx="152.38" cy="916.03" r="0.60" fill="#8d86c4" fill-opacity="0.5"/>
<circle cx="161.63" cy="916.07" r="0.49" fill="#8d86c4" fill-opacity="0.5"/>
<circle cx="159.07" cy="915.36" r="0.42" fill="#8379bf" fill-opacity="0.5"/>
<circle cx="152.41" cy="920.09" r="0.60" fill="#6d64ad" fill-opacity="0.5"/>
<circle cx="151.18" cy="911.68" r="0.69" fill="#8d86c4" fill-opacity="0.5"/>
<circle cx="139.13" cy="912.72" r="0.49" fill="#8379bf" fill-opacity="0.5"/>
<circle cx="141.80" cy="918.68" r="0.67" fill="#8d86c4" fill-opacity="0.5"/>
<circle cx="154.85" cy="915.41" r="0.36" fill="#8379bf" fill-opacity="0.5"/>
<circle cx="138.68" cy="913.65" r="0.56" fill="#8d86c4" fill-opacity="0.5"/>
<circle cx="156.32" cy="916.61" r="0.68" fill="#8379bf" fill-opacity="0.5"/>
<circle cx="157.95" cy="926.98" r="0.47" fill="#6d64ad" fill-opacity="0.5"/>
<circle cx="132.16" cy="915.19" r="0.39" fill="#8d86c4" fill-opacity="0.5"/>
<circle cx="138.33" cy="911.30" r="0.35" fill="#8379bf" fill-opacity="0.5"/>
<circle cx="156.10" cy="916.33" r="0.44" fill="#8d86c4" fill-opacity="0.5"/>
<circle cx="160.10" cy="927.77" r="0.58" fill="#6d64ad" fill-opacity="0.5"/>
<circle cx="136.88" cy="931.57" r="0.43" fill="#7a70b8" fill-opacity="0.5"/>
<circle cx="160.41" cy="925.14" r="0.36" fill="#8d86c4" fill-opacity="0.5"/>
<circle cx="138.63" cy="932.10" r="0.64" fill="#6d64ad" fill-opacity="0.5"/>
<circle cx="142.40" cy="927.79" r="0.66" fill="#7a70b8" fill-opacity="0.5"/>
<circle cx="149.25" cy="925.72" r="0.68" fill="#8379bf" fill-opacity="0.5"/>
<circle cx="154.79" cy="913.29" r="0.57" fill="#8d86c4" fill-opacity="0.5"/>
<circle cx="157.16" cy="908.23" r="0.40" fill="#7a70b8" fill-opacity="0.5"/>
<circle cx="149.70" cy="918.85" r="0.66" fill="#8379bf" fill-opacity="0.5"/>
<circle cx="153.65" cy="924.87" r="0.36" fill="#8d86c4" fill-opacity="0.5"/>
<circle cx="146.73" cy="912.77" r="0.52" fill="#7a70b8" fill-opacity="0.5"/>
<circle cx="144.76" cy="917.60" r="0.50" fill="#8d86c4" fill-opacity="0.5"/>
<circle cx="141.67" cy="919.98" r="0.51" fill="#8d86c4" fill-opacity="0.5"/>
<circle cx="133.55" cy="919.36" r="0.50" fill="#7a70b8" fill-opacity="0.5"/>
<circle cx="151.63" cy="923.75" r="0.39" fill="#7a70b8" fill-opacity="0.5"/>
<circle cx="149.01" cy="921.08" r="0.56" fill="#8379bf" fill-opacity="0.5"/>
<circle cx="148.36" cy="907.08" r="0.47" fill="#6d64ad" fill-opacity="0.5"/>
<circle cx="151.52" cy="907.32" r="0.60" fill="#8d86c4" fill-opacity="0.5"/>
<circle cx="150.61" cy="914.96" r="0.37" fill="#7a70b8" fill-opacity="0.5"/>
<circle cx="137.20" cy="910.29" r="0.56" fill="#8379bf" fill-opacity="0.5"/>
<circle cx="156.50" cy="930.71" r="0.69" fill="#8379bf" fill-opacity="0.5"/>
<circle cx="152.82" cy="911.41" r="0.62" fill="#7a70b8" fill-opacity="0.5"/>
<circle cx="136.90" cy="919.84" r="0.54" fill="#8379bf" fill-opacity="0.5"/>
<circle cx="159.32" cy="920.55" r="0.53" fill="#8379bf" fill-opacity="0.5"/>
<circle cx="140.21" cy="929.54" r="0.41" fill="#8d86c4" fill-opacity="0.5"/>
<circle cx="142.67" cy="915.54" r="0.63" fill="#8379bf" fill-opacity="0.5"/>
<circle cx="138.48" cy="918.69" r="0.73" fill="#8d86c4" fill-opacity="0.5"/>
<circle cx="154.71" cy="928.70" r="0.48" fill="#6d64ad" fill-opacity="0.5"/>
<circle cx="154.18" cy="925.87" r="0.62" fill="#7a70b8" fill-opacity="0.5"/>
<circle cx="136.60" cy="928.29" r="0.66" fill="#7a70b8" fill-opacity="0.5"/>
<circle cx="158.94" cy="930.58" r="0.72" fill="#8d86c4" fill-opacity="0.5"/>
<circle cx="149.03" cy="928.78" r="0.58" fill="#7a70b8" fill-opacity="0.5"/>
<circle cx="160.39" cy="928.40" r="0.67" fill="#8d86c4" fill-opacity="0.5"/>
<circle cx="141.84" cy="931.50" r="0.66" fill="#8d86c4" fill-opacity="0.5"/>
<circle cx="136.14" cy="915.32" r="0.62" fill="#8379bf" fill-opacity="0.5"/>
<circle cx="144.24" cy="903.48" r="0.44" fill="#8d86c4" fill-opacity="0.5"/>
<circle cx="141.30" cy="904.63" r="0.50" fill="#8379bf" fill-opacity="0.5"/>
<circle cx="158.47" cy="917.50" r="0.65" fill="#8379bf" fill-opacity="0.5"/>
<circle cx="155.56" cy="922.45" r="0.39" fill="#8379bf" fill-opacity="0.5"/>
<circle cx="156.59" cy="914.51" r="0.62" fill="#6d64ad" fill-opacity="0.5"/>
<circle cx="142.56" cy="922.48" r="0.48" fill="#6d64ad" fill-opacity="0.5"/>
<circle cx="153.14" cy="927.20" r="0.49" fill="#7a70b8" fill-opacity="0.5"/>
<circle cx="143.64" cy="925.23" r="0.71" fill="#7a70b8" fill-opacity="0.5"/>
<circle cx="140.89" cy="922.57" r="0.42" fill="#7a70b8" fill-opacity="0.5"/>
<circle cx="154.65" cy="912.29" r="0.75" fill="#7a70b8" fill-opacity="0.5"/>
<circle cx="131.94" cy="922.09" r="0.38" fill="#8d86c4" fill-opacity="0.5"/>
<circle cx="130.93" cy="915.17" r="0.56" fill="#6d64ad" fill-opacity="0.5"/>
<circle cx="132.78" cy="911.56" r="0.38" fill="#7a70b8" fill-opacity="0.5"/>
<circle cx="147.45" cy="903.05" r="0.68" fill="#8d86c4" fill-opacity="0.5"/>
<circle cx="155.16" cy="912.32" r="0.53" fill="#8d86c4" fill-opacity="0.5"/>
<circle cx="144.55" cy="911.08" r="0.61" fill="#8d86c4" fill-opacity="0.5"/>
<circle cx="152.39" cy="927.46" r="0.58" fill="#8d86c4" fill-opacity="0.5"/>
<circle cx="142.62" cy="931.79" r="0.71" fill="#7a70b8" fill-opacity="0.5"/>
<circle cx="138.25" cy="918.36" r="0.63" fill="#8d86c4" fill-opacity="0.5"/>
<circle cx="144.96" cy="924.67" r="0.50" fill="#8379bf" fill-opacity="0.5"/>
<circle cx="132.30" cy="915.47" r="0.57" fill="#7a70b8" fill-opacity="0.5"/>
<circle cx="156.21" cy="921.88" r="0.65" fill="#8379bf" fill-opacity="0.5"/>
<circle cx="147.34" cy="916.73" r="0.54" fill="#7a70b8" fill-opacity="0.5"/>
<circle cx="145.20" cy="918.35" r="0.41" fill="#8d86c4" fill-opacity="0.5"/>
<circle cx="138.86" cy="920.86" r="0.52" fill="#6d64ad" fill-opacity="0.5"/>
<circle cx="146.87" cy="923.46" r="0.37" fill="#8379bf" fill-opacity="0.5"/>
<circle cx="157.46" cy="927.41" r="0.72" fill="#6d64ad" fill-opacity="0.5"/>
<circle cx="140.31" cy="927.75" r="0.66" fill="#6d64ad" fill-opacity="0.5"/>
<circle cx="140.84" cy="913.98" r="0.37" fill="#8d86c4" fill-opacity="0.5"/>
<circle cx="140.21" cy="906.57" r="0.54" fill="#8d86c4" fill-opacity="0.5"/>
<circle cx="144.18" cy="918.95" r="0.58" fill="#6d64ad" fill-opacity="0.5"/>
<circle cx="147.02" cy="918.93" r="0.64" fill="#8d86c4" fill-opacity="0.5"/>
<circle cx="146.80" cy="916.25" r="0.64" fill="#8379bf" fill-opacity="0.5"/>
<circle cx="149.69" cy="909.99" r="0.40" fill="#8379bf" fill-opacity="0.5"/>
<circle cx="148.68" cy="912.56" r="0.73" fill="#7a70b8" fill-opacity="0.5"/>
<circle cx="131.53" cy="919.24" r="0.57" fill="#6d64ad" fill-opacity="0.5"/>
<circle cx="130.40" cy="919.61" r="0.65" fill="#7a70b8" fill-opacity="0.5"/>
<circle cx="147.56" cy="931.24" r="0.42" fill="#8d86c4" fill-opacity="0.5"/>
<circle cx="156.34" cy="911.17" r="0.62" fill="#8379bf" fill-opacity="0.5"/>
<circle cx="141.83" cy="920.70" r="0.64" fill="#6d64ad" fill-opacity="0.5"/>
<circle cx="133.57" cy="920.01" r="0.65" fill="#8379bf" fill-opacity="0.5"/>
<circle cx="151.33" cy="906.11" r="0.65" fill="#8379bf" fill-opacity="0.5"/>
<circle cx="152.28" cy="931.18" r="0.61" fill="#7a70b8" fill-opacity="0.5"/>
<circle cx="134.36" cy="908.57" r="0.67" fill="#6d64ad" fill-opacity="0.5"/>
<circle cx="142.88" cy="928.24" r="0.72" fill="#8379bf" fill-opacity="0.5"/>
<circle cx="150.38" cy="908.48" r="0.50" fill="#8d86c4" fill-opacity="0.5"/>
<circle cx="137.44" cy="917.91" r="0.56" fill="#7a70b8" fill-opacity="0.5"/>
<circle cx="147.24" cy="922.44" r="0.38" fill="#8379bf" fill-opacity="0.5"/>
<circle cx="144.82" cy="931.72" r="0.65" fill="#6d64ad" fill-opacity="0.5"/>
<circle cx="150.71" cy="910.54" r="0.71" fill="#8379bf" fill-opacity="0.5"/>
<circle cx="142.24" cy="902.97" r="0.65" fill="#8d86c4" fill-opacity="0.5"/>
<circle cx="137.42" cy="905.58" r="0.73" fill="#7a70b8" fill-opacity="0.5"/>
<circle cx="149.56" cy="922.39" r="0.45" fill="#8d86c4" fill-opacity="0.5"/>
<circle cx="150.13" cy="919.72" r="0.61" fill="#6d64ad" fill-opacity="0.5"/>
<circle cx="148.57" cy="905.74" r="0.70" fill="#8d86c4" fill-opacity="0.5"/>
<circle cx="142.79" cy="904.03" r="0.71" fill="#7a70b8" fill-opacity="0.5"/>
<circle cx="162.60" cy="921.69" r="0.56" fill="#6d64ad" fill-opacity="0.5"/>
<circle cx="146.61" cy="906.49" r="0.49" fill="#8379bf" fill-opacity="0.5"/>
<circle cx="139.02" cy="920.25" r="0.38" fill="#6d64ad" fill-opacity="0.5"/>
<circle cx="142.80" cy="903.33" r="0.61" fill="#7a70b8" fill-opacity="0.5"/>
<circle cx="158.91" cy="913.92" r="0.48" fill="#8d86c4" fill-opacity="0.5"/>
<circle cx="141.07" cy="922.54" r="0.41" fill="#8379bf" fill-opacity="0.5"/>
<circle cx="152.91" cy="910.15" r="0.67" fill="#6d64ad" fill-opacity="0.5"/>
<circle cx="140.61" cy="921.47" r="0.48" fill="#8379bf" fill-opacity="0.5"/>
<circle cx="141.66" cy="906.46" r="0.37" fill="#8379bf" fill-opacity="0.5"/>
<circle cx="132.21" cy="911.84" r="0.41" fill="#6d64ad" fill-opacity="0.5"/>
<circle cx="140.96" cy="926.64" r="0.50" fill="#6d64ad" fill-opacity="0.5"/>
<circle cx="158.77" cy="924.05" r="0.67" fill="#7a70b8" fill-opacity="0.5"/>
<circle cx="138.69" cy="907.23" r="0.45" fill="#8379bf" fill-opacity="0.5"/>
<circle cx="140.69" cy="915.16" r="0.62" fill="#7a70b8" fill-opacity="0.5"/>
<circle cx="152.72" cy="910.27" r="0.64" fill="#8d86c4" fill-opacity="0.5"/>
<circle cx="145.03" cy="916.86" r="0.48" fill="#8d86c4" fill-opacity="0.5"/>
<circle cx="143.79" cy="934.84" r="0.55" fill="#7a70b8" fill-opacity="0.5"/>
<circle cx="136.08" cy="929.72" r="0.58" fill="#8d86c4" fill-opacity="0.5"/>
<circle cx="160.85" cy="912.39" r="0.68" fill="#8379bf" fill-opacity="0.5"/>
<circle cx="140.95" cy="923.69" r="0.46" fill="#6d64ad" fill-opacity="0.5"/>
<circle cx="150.17" cy="921.00" r="0.45" fill="#8379bf" fill-opacity="0.5"/>
<circle cx="152.99" cy="930.34" r="0.42" fill="#7a70b8" fill-opacity="0.5"/>
<circle cx="139.57" cy="918.29" r="0.41" fill="#8379bf" fill-opacity="0.5"/>
<circle cx="160.98" cy="908.88" r="0.64" fill="#7a70b8" fill-opacity="0.5"/>
<circle cx="147.57" cy="919.12" r="0.71" fill="#8379bf" fill-opacity="0.5"/>
<circle cx="135.64" cy="922.32" r="0.54" fill="#8379bf" fill-opacity="0.5"/>
<circle cx="158.74" cy="919.65" r="0.55" fill="#7a70b8" fill-opacity="0.5"/>
<circle cx="154.49" cy="928.59" r="0.67" fill="#6d64ad" fill-opacity="0.5"/>
<circle cx="154.55" cy="915.92" r="0.51" fill="#8379bf" fill-opacity="0.5"/>
<circle cx="155.21" cy="928.50" r="0.69" fill="#8d86c4" fill-opacity="0.5"/>
<circle cx="132.79" cy="924.83" r="0.59" fill="#7a70b8" fill-opacity="0.5"/>
<circle cx="163.08" cy="921.49" r="0.58" fill="#6d64ad" fill-opacity="0.5"/>
<circle cx="137.10" cy="925.17" r="0.59" fill="#8d86c4" fill-opacity="0.5"/>
<circle cx="140.95" cy="924.18" r="0.44" fill="#7a70b8" fill-opacity="0.5"/>
<circle cx="157.37" cy="907.21" r="0.35" fill="#8379bf" fill-opacity="0.5"/>
<circle cx="153.21" cy="918.90" r="0.45" fill="#7a70b8" fill-opacity="0.5"/>
<circle cx="133.28" cy="919.34" r="0.69" fill="#6d64ad" fill-opacity="0.5"/>
<circle cx="143.16" cy="906.47" r="0.42" fill="#8379bf" fill-opacity="0.5"/>
<circle cx="144.06" cy="910.38" r="0.47" fill="#8d86c4" fill-opacity="0.5"/>
<circle cx="136.04" cy="928.32" r="0.54" fill="#6d64ad" fill-opacity="0.5"/>
<circle cx="144.25" cy="913.54" r="0.66" fill="#8d86c4" fill-opacity="0.5"/>
<circle cx="143.01" cy="933.59" r="0.54" fill="#7a70b8" fill-opacity="0.5"/>
<circle cx="145.08" cy="920.91" r="0.56" fill="#7a70b8" fill-opacity="0.5"/>
<circle cx="158.88" cy="928.26" r="0.57" fill="#8379bf" fill-opacity="0.5"/>
<circle cx="157.31" cy="929.00" r="0.62" fill="#7a70b8" fill-opacity="0.5"/>
<circle cx="161.79" cy="926.02" r="0.70" fill="#7a70b8" fill-opacity="0.5"/>
<circle cx="139.50" cy="922.99" r="0.72" fill="#6d64ad" fill-opacity="0.5"/>
<circle cx="134.94" cy="928.96" r="0.36" fill="#7a70b8" fill-opacity="0.5"/>
<circle cx="135.78" cy="920.89" r="0.50" fill="#6d64ad" fill-opacity="0.5"/>
<circle cx="153.57" cy="906.94" r="0.36" fill="#6d64ad" fill-opacity="0.5"/>
<circle cx="135.85" cy="911.88" r="0.47" fill="#8379bf" fill-opacity="0.5"/>
<circle cx="155.92" cy="931.86" r="0.39" fill="#6d64ad" fill-opacity="0.5"/>
<circle cx="147.60" cy="920.87" r="0.47" fill="#7a70b8" fill-opacity="0.5"/>
<circle cx="154.51" cy="916.79" r="0.65" fill="#6d64ad" fill-opacity="0.5"/>
<circle cx="158.38" cy="922.30" r="0.70" fill="#7a70b8" fill-opacity="0.5"/>
<circle cx="145.91" cy="926.99" r="0.36" fill="#6d64ad" fill-opacity="0.5"/>
<circle cx="132.04" cy="914.06" r="0.50" fill="#8d86c4" fill-opacity="0.5"/>
<circle cx="139.99" cy="911.26" r="0.48" fill="#7a70b8" fill-opacity="0.5"/>
<circle cx="158.42" cy="911.82" r="0.47" fill="#8379bf" fill-opacity="0.5"/>
<circle cx="140.04" cy="937.43" r="0.65" fill="#7a70b8" fill-opacity="0.7"/>
<circle cx="133.37" cy="934.50" r="0.57" fill="#7a70b8" fill-opacity="0.7"/>
<circle cx="126.94" cy="915.22" r="0.49" fill="#7a70b8" fill-opacity="0.7"/>
<circle cx="132.39" cy="933.00" r="0.52" fill="#7a70b8" fill-opacity="0.7"/>
<circle cx="130.99" cy="930.91" r="0.41" fill="#7a70b8" fill-opacity="0.7"/>
<circle cx="153.52" cy="937.74" r="0.68" fill="#7a70b8" fill-opacity="0.7"/>
<circle cx="149.22" cy="939.44" r="0.55" fill="#7a70b8" fill-opacity="0.7"/>
<circle cx="151.48" cy="938.02" r="0.77" fill="#7a70b8" fill-opacity="0.7"/>
<circle cx="126.44" cy="919.45" r="0.42" fill="#7a70b8" fill-opacity="0.7"/>
<circle cx="129.99" cy="928.43" r="0.49" fill="#7a70b8" fill-opacity="0.7"/>
<circle cx="153.52" cy="938.15" r="0.73" fill="#7a70b8" fill-opacity="0.7"/>
<circle cx="144.10" cy="939.37" r="0.62" fill="#7a70b8" fill-opacity="0.7"/>
<circle cx="127.06" cy="919.21" r="0.72" fill="#7a70b8" fill-opacity="0.7"/>
<circle cx="130.20" cy="928.93" r="0.71" fill="#7a70b8" fill-opacity="0.7"/>
<circle cx="127.39" cy="923.27" r="0.51" fill="#7a70b8" fill-opacity="0.7"/>
<circle cx="153.15" cy="938.17" r="0.52" fill="#7a70b8" fill-opacity="0.7"/>
<circle cx="145.53" cy="938.79" r="0.45" fill="#7a70b8" fill-opacity="0.7"/>
<circle cx="129.23" cy="927.90" r="0.52" fill="#7a70b8" fill-opacity="0.7"/>
<circle cx="136.50" cy="935.84" r="0.57" fill="#7a70b8" fill-opacity="0.7"/>
<circle cx="144.51" cy="939.09" r="0.76" fill="#7a70b8" fill-opacity="0.7"/>
<circle cx="131.36" cy="931.97" r="0.72" fill="#7a70b8" fill-opacity="0.7"/>
<circle cx="142.93" cy="938.99" r="0.63" fill="#7a70b8" fill-opacity="0.7"/>
<circle cx="129.54" cy="929.07" r="0.75" fill="#7a70b8" fill-opacity="0.7"/>
<circle cx="133.94" cy="934.47" r="0.50" fill="#7a70b8" fill-opacity="0.7"/>
<circle cx="149.09" cy="938.88" r="0.73" fill="#7a70b8" fill-opacity="0.7"/>
<circle cx="149.87" cy="939.05" r="0.51" fill="#7a70b8" fill-opacity="0.7"/>
<circle cx="151.49" cy="938.89" r="0.42" fill="#7a70b8" fill-opacity="0.7"/>
<circle cx="136.89" cy="936.42" r="0.68" fill="#7a70b8" fill-opacity="0.7"/>
<circle cx="127.73" cy="923.10" r="0.45" fill="#7a70b8" fill-opacity="0.7"/>
<circle cx="141.95" cy="938.73" r="0.76" fill="#7a70b8" fill-opacity="0.7"/>
<circle cx="137.04" cy="935.92" r="0.65" fill="#7a70b8" fill-opacity="0.7"/>
<circle cx="136.91" cy="935.43" r="0.64" fill="#7a70b8" fill-opacity="0.7"/>
<circle cx="126.62" cy="915.39" r="0.69" fill="#7a70b8" fill-opacity="0.7"/>
<circle cx="153.33" cy="938.13" r="0.78" fill="#7a70b8" fill-opacity="0.7"/>
<circle cx="143.74" cy="938.39" r="0.50" fill="#7a70b8" fill-opacity="0.7"/>
<circle cx="130.77" cy="930.41" r="0.74" fill="#7a70b8" fill-opacity="0.7"/>
<circle cx="128.60" cy="927.32" r="0.70" fill="#7a70b8" fill-opacity="0.7"/>
<circle cx="146.77" cy="938.58" r="0.57" fill="#7a70b8" fill-opacity="0.7"/>
<circle cx="138.13" cy="936.74" r="0.79" fill="#7a70b8" fill-opacity="0.7"/>
<circle cx="141.10" cy="938.50" r="0.73" fill="#7a70b8" fill-opacity="0.7"/>
<rect x="124.60" y="895.40" width="45.10" height="46.00" fill="none" stroke="#1a1a1a" stroke-width="1.3"/>
<rect x="173.60" y="895.40" width="45.10" height="46.00" fill="#9db0c1"/>
<circle cx="196.15" cy="918.40" r="22.10" fill="#a8b3cc" stroke="#8e98b8" stroke-width="0.7"/>
<circle cx="196.15" cy="918.40" r="20.07" fill="url(#col11)" stroke="#8e98b8" stroke-width="0.5"/>
<circle cx="183.74" cy="922.23" r="0.72" fill="#8d86c4" fill-opacity="0.5"/>
<circle cx="179.82" cy="923.50" r="0.43" fill="#8d86c4" fill-opacity="0.5"/>
<circle cx="184.99" cy="906.53" r="0.39" fill="#6d64ad" fill-opacity="0.5"/>
<circle cx="204.12" cy="928.25" r="0.71" fill="#7a70b8" fill-opacity="0.5"/>
<circle cx="187.58" cy="912.54" r="0.53" fill="#8379bf" fill-opacity="0.5"/>
<circle cx="184.13" cy="906.66" r="0.38" fill="#7a70b8" fill-opacity="0.5"/>
<circle cx="198.91" cy="925.41" r="0.36" fill="#8d86c4" fill-opacity="0.5"/>
<circle cx="189.94" cy="930.34" r="0.43" fill="#8379bf" fill-opacity="0.5"/>
<circle cx="188.47" cy="909.09" r="0.61" fill="#8d86c4" fill-opacity="0.5"/>
<circle cx="190.21" cy="909.68" r="0.57" fill="#7a70b8" fill-opacity="0.5"/>
<circle cx="193.81" cy="909.77" r="0.44" fill="#6d64ad" fill-opacity="0.5"/>
<circle cx="208.96" cy="920.82" r="0.39" fill="#7a70b8" fill-opacity="0.5"/>
<circle cx="201.97" cy="910.01" r="0.73" fill="#7a70b8" fill-opacity="0.5"/>
<circle cx="200.25" cy="935.96" r="0.37" fill="#8d86c4" fill-opacity="0.5"/>
<circle cx="206.47" cy="917.12" r="0.38" fill="#8379bf" fill-opacity="0.5"/>
<circle cx="197.59" cy="910.45" r="0.38" fill="#6d64ad" fill-opacity="0.5"/>
<circle cx="206.71" cy="919.41" r="0.72" fill="#8379bf" fill-opacity="0.5"/>
<circle cx="196.25" cy="922.67" r="0.37" fill="#8d86c4" fill-opacity="0.5"/>
<circle cx="201.85" cy="930.07" r="0.53" fill="#8379bf" fill-opacity="0.5"/>
<circle cx="212.06" cy="916.92" r="0.52" fill="#8d86c4" fill-opacity="0.5"/>
<circle cx="204.18" cy="925.61" r="0.44" fill="#6d64ad" fill-opacity="0.5"/>
<circle cx="208.41" cy="904.37" r="0.59" fill="#7a70b8" fill-opacity="0.5"/>
<circle cx="198.68" cy="928.43" r="0.69" fill="#7a70b8" fill-opacity="0.5"/>
<circle cx="201.39" cy="919.82" r="0.53" fill="#7a70b8" fill-opacity="0.5"/>
<circle cx="197.46" cy="909.30" r="0.47" fill="#7a70b8" fill-opacity="0.5"/>
<circle cx="202.26" cy="921.48" r="0.60" fill="#7a70b8" fill-opacity="0.5"/>
<circle cx="188.14" cy="912.48" r="0.53" fill="#8d86c4" fill-opacity="0.5"/>
<circle cx="198.71" cy="913.90" r="0.50" fill="#8379bf" fill-opacity="0.5"/>
<circle cx="193.45" cy="925.13" r="0.59" fill="#8379bf" fill-opacity="0.5"/>
<circle cx="203.77" cy="930.16" r="0.57" fill="#8d86c4" fill-opacity="0.5"/>
<circle cx="206.22" cy="909.20" r="0.52" fill="#7a70b8" fill-opacity="0.5"/>
<circle cx="205.65" cy="926.16" r="0.45" fill="#8d86c4" fill-opacity="0.5"/>
<circle cx="195.42" cy="935.08" r="0.59" fill="#6d64ad" fill-opacity="0.5"/>
<circle cx="178.23" cy="916.13" r="0.74" fill="#8379bf" fill-opacity="0.5"/>
<circle cx="197.91" cy="931.27" r="0.69" fill="#7a70b8" fill-opacity="0.5"/>
<circle cx="192.77" cy="935.99" r="0.43" fill="#7a70b8" fill-opacity="0.5"/>
<circle cx="205.80" cy="922.88" r="0.45" fill="#7a70b8" fill-opacity="0.5"/>
<circle cx="200.58" cy="927.26" r="0.58" fill="#8379bf" fill-opacity="0.5"/>
<circle cx="200.53" cy="921.27" r="0.53" fill="#6d64ad" fill-opacity="0.5"/>
<circle cx="187.93" cy="905.98" r="0.58" fill="#8379bf" fill-opacity="0.5"/>
<circle cx="180.95" cy="908.77" r="0.54" fill="#6d64ad" fill-opacity="0.5"/>
<circle cx="190.55" cy="900.79" r="0.36" fill="#7a70b8" fill-opacity="0.5"/>
<circle cx="180.80" cy="920.12" r="0.48" fill="#7a70b8" fill-opacity="0.5"/>
<circle cx="207.53" cy="924.22" r="0.64" fill="#8379bf" fill-opacity="0.5"/>
<circle cx="200.95" cy="901.18" r="0.49" fill="#8d86c4" fill-opacity="0.5"/>
<circle cx="210.21" cy="908.30" r="0.52" fill="#7a70b8" fill-opacity="0.5"/>
<circle cx="204.78" cy="908.43" r="0.60" fill="#8d86c4" fill-opacity="0.5"/>
<circle cx="195.36" cy="919.15" r="0.38" fill="#7a70b8" fill-opacity="0.5"/>
<circle cx="184.07" cy="903.91" r="0.70" fill="#6d64ad" fill-opacity="0.5"/>
<circle cx="184.30" cy="928.40" r="0.58" fill="#8d86c4" fill-opacity="0.5"/>
<circle cx="183.79" cy="921.36" r="0.56" fill="#7a70b8" fill-opacity="0.5"/>
<circle cx="194.71" cy="922.02" r="0.36" fill="#7a70b8" fill-opacity="0.5"/>
<circle cx="182.35" cy="918.64" r="0.72" fill="#6d64ad" fill-opacity="0.5"/>
<circle cx="204.02" cy="912.41" r="0.41" fill="#8379bf" fill-opacity="0.5"/>
<circle cx="180.49" cy="916.58" r="0.49" fill="#8d86c4" fill-opacity="0.5"/>
<circle cx="188.63" cy="918.48" r="0.51" fill="#6d64ad" fill-opacity="0.5"/>
<circle cx="199.63" cy="928.79" r="0.67" fill="#8379bf" fill-opacity="0.5"/>
<circle cx="203.58" cy="911.45" r="0.58" fill="#6d64ad" fill-opacity="0.5"/>
<circle cx="197.43" cy="923.38" r="0.49" fill="#7a70b8" fill-opacity="0.5"/>
<circle cx="191.73" cy="900.62" r="0.46" fill="#8379bf" fill-opacity="0.5"/>
<circle cx="204.97" cy="925.96" r="0.72" fill="#8d86c4" fill-opacity="0.5"/>
<circle cx="186.99" cy="926.73" r="0.62" fill="#8d86c4" fill-opacity="0.5"/>
<circle cx="188.98" cy="933.55" r="0.46" fill="#7a70b8" fill-opacity="0.5"/>
<circle cx="192.53" cy="910.93" r="0.49" fill="#7a70b8" fill-opacity="0.5"/>
<circle cx="189.49" cy="910.25" r="0.43" fill="#6d64ad" fill-opacity="0.5"/>
<circle cx="196.57" cy="923.68" r="0.37" fill="#7a70b8" fill-opacity="0.5"/>
<circle cx="182.91" cy="923.03" r="0.61" fill="#6d64ad" fill-opacity="0.5"/>
<circle cx="210.45" cy="914.58" r="0.43" fill="#8d86c4" fill-opacity="0.5"/>
<circle cx="195.57" cy="933.61" r="0.65" fill="#7a70b8" fill-opacity="0.5"/>
<circle cx="199.65" cy="925.74" r="0.49" fill="#8379bf" fill-opacity="0.5"/>
<circle cx="183.38" cy="928.50" r="0.71" fill="#7a70b8" fill-opacity="0.5"/>
<circle cx="181.27" cy="927.78" r="0.51" fill="#8d86c4" fill-opacity="0.5"/>
<circle cx="182.78" cy="922.42" r="0.71" fill="#8d86c4" fill-opacity="0.5"/>
<circle cx="182.50" cy="913.96" r="0.55" fill="#6d64ad" fill-opacity="0.5"/>
<circle cx="182.19" cy="921.64" r="0.43" fill="#7a70b8" fill-opacity="0.5"/>
<circle cx="200.19" cy="935.62" r="0.74" fill="#6d64ad" fill-opacity="0.5"/>
<circle cx="180.32" cy="914.66" r="0.48" fill="#7a70b8" fill-opacity="0.5"/>
<circle cx="193.97" cy="921.45" r="0.53" fill="#8d86c4" fill-opacity="0.5"/>
<circle cx="197.51" cy="906.60" r="0.36" fill="#7a70b8" fill-opacity="0.5"/>
<circle cx="194.21" cy="919.33" r="0.56" fill="#8379bf" fill-opacity="0.5"/>
<circle cx="177.53" cy="921.88" r="0.71" fill="#8d86c4" fill-opacity="0.5"/>
<circle cx="207.42" cy="914.40" r="0.73" fill="#7a70b8" fill-opacity="0.5"/>
<circle cx="196.70" cy="907.31" r="0.57" fill="#8379bf" fill-opacity="0.5"/>
<circle cx="179.36" cy="915.98" r="0.57" fill="#6d64ad" fill-opacity="0.5"/>
<circle cx="187.43" cy="902.22" r="0.70" fill="#8379bf" fill-opacity="0.5"/>
<circle cx="194.37" cy="923.40" r="0.57" fill="#6d64ad" fill-opacity="0.5"/>
<circle cx="190.16" cy="915.44" r="0.56" fill="#7a70b8" fill-opacity="0.5"/>
<circle cx="194.70" cy="917.27" r="0.74" fill="#8d86c4" fill-opacity="0.5"/>
<circle cx="178.05" cy="913.27" r="0.40" fill="#7a70b8" fill-opacity="0.5"/>
<circle cx="194.98" cy="915.39" r="0.57" fill="#8d86c4" fill-opacity="0.5"/>
<circle cx="210.55" cy="910.57" r="0.51" fill="#8379bf" fill-opacity="0.5"/>
<circle cx="191.27" cy="919.23" r="0.52" fill="#8d86c4" fill-opacity="0.5"/>
<circle cx="191.73" cy="917.70" r="0.52" fill="#7a70b8" fill-opacity="0.5"/>
<circle cx="200.62" cy="916.13" r="0.66" fill="#7a70b8" fill-opacity="0.5"/>
<circle cx="201.66" cy="919.65" r="0.35" fill="#6d64ad" fill-opacity="0.5"/>
<circle cx="191.92" cy="927.09" r="0.60" fill="#7a70b8" fill-opacity="0.5"/>
<circle cx="182.82" cy="918.43" r="0.69" fill="#6d64ad" fill-opacity="0.5"/>
<circle cx="193.12" cy="903.67" r="0.70" fill="#7a70b8" fill-opacity="0.5"/>
<circle cx="188.57" cy="925.91" r="0.56" fill="#8379bf" fill-opacity="0.5"/>
<circle cx="179.42" cy="914.31" r="0.56" fill="#8379bf" fill-opacity="0.5"/>
<circle cx="179.39" cy="915.24" r="0.59" fill="#8379bf" fill-opacity="0.5"/>
<circle cx="197.84" cy="933.89" r="0.67" fill="#8379bf" fill-opacity="0.5"/>
<circle cx="192.55" cy="926.58" r="0.72" fill="#8379bf" fill-opacity="0.5"/>
<circle cx="197.31" cy="911.97" r="0.39" fill="#8379bf" fill-opacity="0.5"/>
<circle cx="198.78" cy="921.29" r="0.51" fill="#8d86c4" fill-opacity="0.5"/>
<circle cx="201.48" cy="909.00" r="0.67" fill="#8379bf" fill-opacity="0.5"/>
<circle cx="200.42" cy="931.73" r="0.67" fill="#7a70b8" fill-opacity="0.5"/>
<circle cx="200.63" cy="932.48" r="0.71" fill="#6d64ad" fill-opacity="0.5"/>
<circle cx="205.25" cy="926.47" r="0.65" fill="#8379bf" fill-opacity="0.5"/>
<circle cx="199.99" cy="907.26" r="0.36" fill="#8d86c4" fill-opacity="0.5"/>
<circle cx="199.97" cy="923.43" r="0.43" fill="#8379bf" fill-opacity="0.5"/>
<circle cx="214.15" cy="917.30" r="0.39" fill="#7a70b8" fill-opacity="0.5"/>
<circle cx="205.95" cy="929.43" r="0.38" fill="#7a70b8" fill-opacity="0.5"/>
<circle cx="190.79" cy="928.63" r="0.56" fill="#8d86c4" fill-opacity="0.5"/>
<circle cx="198.63" cy="928.07" r="0.60" fill="#7a70b8" fill-opacity="0.5"/>
<circle cx="199.63" cy="913.22" r="0.53" fill="#6d64ad" fill-opacity="0.5"/>
<circle cx="190.73" cy="922.07" r="0.42" fill="#7a70b8" fill-opacity="0.5"/>
<circle cx="194.45" cy="921.81" r="0.69" fill="#8d86c4" fill-opacity="0.5"/>
<circle cx="190.30" cy="915.66" r="0.58" fill="#6d64ad" fill-opacity="0.5"/>
<circle cx="198.80" cy="911.00" r="0.71" fill="#8379bf" fill-opacity="0.5"/>
<circle cx="200.31" cy="908.72" r="0.71" fill="#6d64ad" fill-opacity="0.5"/>
<circle cx="197.87" cy="902.58" r="0.51" fill="#8379bf" fill-opacity="0.5"/>
<circle cx="204.66" cy="922.44" r="0.54" fill="#7a70b8" fill-opacity="0.5"/>
<circle cx="210.51" cy="906.22" r="0.71" fill="#7a70b8" fill-opacity="0.5"/>
<circle cx="198.20" cy="936.54" r="0.62" fill="#6d64ad" fill-opacity="0.5"/>
<circle cx="198.38" cy="928.71" r="0.42" fill="#7a70b8" fill-opacity="0.5"/>
<circle cx="181.59" cy="930.51" r="0.61" fill="#7a70b8" fill-opacity="0.5"/>
<circle cx="197.53" cy="899.75" r="0.36" fill="#7a70b8" fill-opacity="0.5"/>
<circle cx="195.60" cy="910.59" r="0.51" fill="#7a70b8" fill-opacity="0.5"/>
<circle cx="197.16" cy="904.15" r="0.35" fill="#6d64ad" fill-opacity="0.5"/>
<circle cx="196.05" cy="936.16" r="0.57" fill="#8d86c4" fill-opacity="0.5"/>
<circle cx="208.99" cy="915.71" r="0.75" fill="#8d86c4" fill-opacity="0.5"/>
<circle cx="197.45" cy="915.09" r="0.59" fill="#7a70b8" fill-opacity="0.5"/>
<circle cx="182.41" cy="930.30" r="0.50" fill="#8379bf" fill-opacity="0.5"/>
<circle cx="203.99" cy="908.38" r="0.59" fill="#8d86c4" fill-opacity="0.5"/>
<circle cx="206.31" cy="914.76" r="0.56" fill="#6d64ad" fill-opacity="0.5"/>
<circle cx="190.58" cy="924.67" r="0.61" fill="#6d64ad" fill-opacity="0.5"/>
<circle cx="188.05" cy="904.97" r="0.36" fill="#8379bf" fill-opacity="0.5"/>
<circle cx="184.07" cy="911.18" r="0.51" fill="#8d86c4" fill-opacity="0.5"/>
<circle cx="204.61" cy="921.31" r="0.51" fill="#6d64ad" fill-opacity="0.5"/>
<circle cx="212.05" cy="926.31" r="0.52" fill="#8d86c4" fill-opacity="0.5"/>
<circle cx="196.06" cy="934.19" r="0.37" fill="#7a70b8" fill-opacity="0.5"/>
<circle cx="210.31" cy="912.51" r="0.54" fill="#8379bf" fill-opacity="0.5"/>
<circle cx="192.45" cy="915.58" r="0.60" fill="#8d86c4" fill-opacity="0.5"/>
<circle cx="208.83" cy="930.00" r="0.49" fill="#8379bf" fill-opacity="0.5"/>
<circle cx="204.07" cy="926.25" r="0.62" fill="#8d86c4" fill-opacity="0.5"/>
<circle cx="184.74" cy="910.00" r="0.62" fill="#6d64ad" fill-opacity="0.5"/>
<circle cx="198.34" cy="906.04" r="0.75" fill="#6d64ad" fill-opacity="0.5"/>
<circle cx="195.41" cy="910.98" r="0.40" fill="#6d64ad" fill-opacity="0.5"/>
<circle cx="199.14" cy="904.77" r="0.49" fill="#6d64ad" fill-opacity="0.5"/>
<circle cx="184.30" cy="908.62" r="0.63" fill="#8379bf" fill-opacity="0.5"/>
<circle cx="185.59" cy="906.71" r="0.43" fill="#8379bf" fill-opacity="0.5"/>
<circle cx="181.79" cy="918.21" r="0.43" fill="#7a70b8" fill-opacity="0.5"/>
<circle cx="195.52" cy="917.74" r="0.45" fill="#7a70b8" fill-opacity="0.5"/>
<circle cx="193.07" cy="915.39" r="0.57" fill="#7a70b8" fill-opacity="0.5"/>
<circle cx="196.80" cy="900.56" r="0.41" fill="#8379bf" fill-opacity="0.5"/>
<circle cx="189.37" cy="911.08" r="0.54" fill="#8379bf" fill-opacity="0.5"/>
<circle cx="189.84" cy="928.59" r="0.40" fill="#7a70b8" fill-opacity="0.5"/>
<circle cx="199.77" cy="907.77" r="0.68" fill="#8379bf" fill-opacity="0.5"/>
<circle cx="181.42" cy="923.77" r="0.51" fill="#8379bf" fill-opacity="0.5"/>
<circle cx="186.38" cy="928.94" r="0.75" fill="#6d64ad" fill-opacity="0.5"/>
<circle cx="192.13" cy="933.71" r="0.68" fill="#8379bf" fill-opacity="0.5"/>
<circle cx="187.24" cy="922.75" r="0.39" fill="#6d64ad" fill-opacity="0.5"/>
<circle cx="199.46" cy="920.18" r="0.58" fill="#8d86c4" fill-opacity="0.5"/>
<circle cx="200.73" cy="907.86" r="0.68" fill="#7a70b8" fill-opacity="0.5"/>
<circle cx="202.31" cy="921.59" r="0.61" fill="#7a70b8" fill-opacity="0.5"/>
<circle cx="192.10" cy="907.12" r="0.66" fill="#6d64ad" fill-opacity="0.5"/>
<circle cx="195.05" cy="923.63" r="0.49" fill="#6d64ad" fill-opacity="0.5"/>
<circle cx="193.01" cy="921.90" r="0.63" fill="#6d64ad" fill-opacity="0.5"/>
<circle cx="180.96" cy="924.64" r="0.47" fill="#6d64ad" fill-opacity="0.5"/>
<circle cx="199.49" cy="936.64" r="0.64" fill="#8379bf" fill-opacity="0.5"/>
<circle cx="210.62" cy="926.87" r="0.36" fill="#8d86c4" fill-opacity="0.5"/>
<circle cx="182.08" cy="910.10" r="0.65" fill="#6d64ad" fill-opacity="0.5"/>
<circle cx="199.85" cy="906.25" r="0.68" fill="#8379bf" fill-opacity="0.5"/>
<circle cx="203.20" cy="932.58" r="0.70" fill="#6d64ad" fill-opacity="0.5"/>
<circle cx="198.84" cy="911.82" r="0.37" fill="#8379bf" fill-opacity="0.5"/>
<circle cx="179.26" cy="910.78" r="0.61" fill="#8d86c4" fill-opacity="0.5"/>
<circle cx="207.92" cy="923.41" r="0.67" fill="#7a70b8" fill-opacity="0.5"/>
<circle cx="192.02" cy="925.43" r="0.39" fill="#6d64ad" fill-opacity="0.5"/>
<circle cx="208.29" cy="925.55" r="0.41" fill="#8d86c4" fill-opacity="0.5"/>
<circle cx="196.35" cy="925.49" r="0.66" fill="#6d64ad" fill-opacity="0.5"/>
<circle cx="197.10" cy="908.10" r="0.49" fill="#6d64ad" fill-opacity="0.5"/>
<circle cx="190.54" cy="907.82" r="0.56" fill="#7a70b8" fill-opacity="0.5"/>
<circle cx="191.50" cy="901.14" r="0.51" fill="#6d64ad" fill-opacity="0.5"/>
<circle cx="206.12" cy="905.30" r="0.68" fill="#8d86c4" fill-opacity="0.5"/>
<circle cx="209.83" cy="914.68" r="0.56" fill="#7a70b8" fill-opacity="0.5"/>
<circle cx="199.63" cy="908.17" r="0.52" fill="#8379bf" fill-opacity="0.5"/>
<circle cx="196.31" cy="924.21" r="0.60" fill="#8379bf" fill-opacity="0.5"/>
<circle cx="191.73" cy="927.66" r="0.56" fill="#6d64ad" fill-opacity="0.5"/>
<circle cx="199.11" cy="917.83" r="0.47" fill="#7a70b8" fill-opacity="0.5"/>
<circle cx="194.29" cy="923.73" r="0.72" fill="#7a70b8" fill-opacity="0.5"/>
<circle cx="196.18" cy="917.05" r="0.54" fill="#7a70b8" fill-opacity="0.5"/>
<circle cx="193.62" cy="924.50" r="0.49" fill="#8379bf" fill-opacity="0.5"/>
<circle cx="186.75" cy="911.56" r="0.55" fill="#8d86c4" fill-opacity="0.5"/>
<circle cx="199.45" cy="926.02" r="0.42" fill="#6d64ad" fill-opacity="0.5"/>
<circle cx="183.41" cy="905.37" r="0.57" fill="#6d64ad" fill-opacity="0.5"/>
<circle cx="185.71" cy="919.40" r="0.73" fill="#7a70b8" fill-opacity="0.5"/>
<circle cx="189.09" cy="919.17" r="0.37" fill="#8379bf" fill-opacity="0.5"/>
<circle cx="199.38" cy="908.74" r="0.56" fill="#6d64ad" fill-opacity="0.5"/>
<circle cx="196.85" cy="915.51" r="0.72" fill="#7a70b8" fill-opacity="0.5"/>
<circle cx="208.63" cy="905.77" r="0.53" fill="#8379bf" fill-opacity="0.5"/>
<circle cx="193.02" cy="905.08" r="0.41" fill="#8379bf" fill-opacity="0.5"/>
<circle cx="196.89" cy="913.06" r="0.71" fill="#8379bf" fill-opacity="0.5"/>
<circle cx="183.86" cy="904.10" r="0.46" fill="#7a70b8" fill-opacity="0.5"/>
<circle cx="205.49" cy="931.37" r="0.35" fill="#8379bf" fill-opacity="0.5"/>
<circle cx="197.79" cy="915.04" r="0.46" fill="#7a70b8" fill-opacity="0.5"/>
<circle cx="207.64" cy="908.86" r="0.38" fill="#6d64ad" fill-opacity="0.5"/>
<circle cx="202.49" cy="919.16" r="0.43" fill="#7a70b8" fill-opacity="0.5"/>
<circle cx="198.33" cy="907.50" r="0.36" fill="#8d86c4" fill-opacity="0.5"/>
<circle cx="190.53" cy="917.48" r="0.68" fill="#6d64ad" fill-opacity="0.5"/>
<circle cx="191.90" cy="928.04" r="0.57" fill="#8d86c4" fill-opacity="0.5"/>
<circle cx="194.52" cy="915.56" r="0.38" fill="#8379bf" fill-opacity="0.5"/>
<circle cx="204.29" cy="924.78" r="0.53" fill="#7a70b8" fill-opacity="0.5"/>
<circle cx="195.53" cy="917.50" r="0.50" fill="#8d86c4" fill-opacity="0.5"/>
<circle cx="197.18" cy="931.42" r="0.53" fill="#7a70b8" fill-opacity="0.5"/>
<circle cx="206.64" cy="905.06" r="0.64" fill="#8379bf" fill-opacity="0.5"/>
<circle cx="193.63" cy="928.11" r="0.57" fill="#6d64ad" fill-opacity="0.5"/>
<circle cx="211.28" cy="913.91" r="0.57" fill="#7a70b8" fill-opacity="0.5"/>
<circle cx="195.88" cy="925.05" r="0.64" fill="#6d64ad" fill-opacity="0.5"/>
<circle cx="193.16" cy="925.99" r="0.54" fill="#6d64ad" fill-opacity="0.5"/>
<circle cx="186.57" cy="921.72" r="0.39" fill="#7a70b8" fill-opacity="0.5"/>
<circle cx="205.66" cy="928.72" r="0.42" fill="#8379bf" fill-opacity="0.5"/>
<circle cx="182.36" cy="928.12" r="0.59" fill="#7a70b8" fill-opacity="0.5"/>
<circle cx="197.79" cy="919.60" r="0.74" fill="#8d86c4" fill-opacity="0.5"/>
<circle cx="193.28" cy="920.30" r="0.72" fill="#8d86c4" fill-opacity="0.5"/>
<circle cx="200.86" cy="916.07" r="0.43" fill="#8379bf" fill-opacity="0.5"/>
<circle cx="200.56" cy="909.20" r="0.48" fill="#8d86c4" fill-opacity="0.5"/>
<circle cx="185.13" cy="907.65" r="0.60" fill="#6d64ad" fill-opacity="0.5"/>
<circle cx="212.29" cy="916.56" r="0.61" fill="#7a70b8" fill-opacity="0.5"/>
<circle cx="195.72" cy="924.79" r="0.47" fill="#8d86c4" fill-opacity="0.5"/>
<circle cx="204.05" cy="924.63" r="0.55" fill="#6d64ad" fill-opacity="0.5"/>
<circle cx="202.41" cy="906.15" r="0.41" fill="#6d64ad" fill-opacity="0.5"/>
<circle cx="186.97" cy="915.53" r="0.55" fill="#8379bf" fill-opacity="0.5"/>
<circle cx="190.24" cy="915.43" r="0.72" fill="#8379bf" fill-opacity="0.5"/>
<circle cx="194.51" cy="917.66" r="0.61" fill="#7a70b8" fill-opacity="0.5"/>
<circle cx="203.83" cy="927.25" r="0.52" fill="#6d64ad" fill-opacity="0.5"/>
<circle cx="187.53" cy="934.27" r="0.49" fill="#8d86c4" fill-opacity="0.5"/>
<circle cx="204.54" cy="910.81" r="0.64" fill="#8379bf" fill-opacity="0.5"/>
<circle cx="206.65" cy="911.18" r="0.57" fill="#6d64ad" fill-opacity="0.5"/>
<circle cx="203.82" cy="932.05" r="0.71" fill="#6d64ad" fill-opacity="0.5"/>
<circle cx="192.26" cy="915.52" r="0.68" fill="#6d64ad" fill-opacity="0.5"/>
<circle cx="192.26" cy="909.39" r="0.65" fill="#6d64ad" fill-opacity="0.5"/>
<circle cx="199.23" cy="912.86" r="0.57" fill="#7a70b8" fill-opacity="0.5"/>
<circle cx="186.08" cy="921.37" r="0.66" fill="#8379bf" fill-opacity="0.5"/>
<circle cx="190.97" cy="932.07" r="0.65" fill="#8d86c4" fill-opacity="0.5"/>
<circle cx="185.53" cy="909.01" r="0.66" fill="#8379bf" fill-opacity="0.5"/>
<circle cx="199.76" cy="929.39" r="0.41" fill="#8d86c4" fill-opacity="0.5"/>
<circle cx="203.91" cy="925.53" r="0.48" fill="#8379bf" fill-opacity="0.5"/>
<circle cx="195.03" cy="931.47" r="0.48" fill="#7a70b8" fill-opacity="0.5"/>
<circle cx="193.27" cy="902.44" r="0.51" fill="#8d86c4" fill-opacity="0.5"/>
<circle cx="186.77" cy="911.58" r="0.51" fill="#8d86c4" fill-opacity="0.5"/>
<circle cx="196.28" cy="906.55" r="0.75" fill="#8d86c4" fill-opacity="0.5"/>
<circle cx="198.29" cy="914.21" r="0.40" fill="#6d64ad" fill-opacity="0.5"/>
<circle cx="185.30" cy="916.68" r="0.71" fill="#6d64ad" fill-opacity="0.5"/>
<circle cx="203.32" cy="913.67" r="0.60" fill="#8d86c4" fill-opacity="0.5"/>
<circle cx="194.62" cy="904.93" r="0.65" fill="#6d64ad" fill-opacity="0.5"/>
<circle cx="209.02" cy="906.70" r="0.45" fill="#8d86c4" fill-opacity="0.5"/>
<circle cx="196.98" cy="935.72" r="0.74" fill="#8d86c4" fill-opacity="0.5"/>
<circle cx="191.92" cy="906.66" r="0.45" fill="#6d64ad" fill-opacity="0.5"/>
<circle cx="186.10" cy="903.23" r="0.70" fill="#6d64ad" fill-opacity="0.5"/>
<circle cx="203.37" cy="910.37" r="0.67" fill="#8379bf" fill-opacity="0.5"/>
<circle cx="189.77" cy="909.68" r="0.40" fill="#7a70b8" fill-opacity="0.5"/>
<circle cx="209.41" cy="927.85" r="0.40" fill="#8d86c4" fill-opacity="0.5"/>
<circle cx="203.72" cy="918.43" r="0.47" fill="#6d64ad" fill-opacity="0.5"/>
<circle cx="201.38" cy="928.21" r="0.53" fill="#8d86c4" fill-opacity="0.5"/>
<circle cx="205.56" cy="929.97" r="0.44" fill="#6d64ad" fill-opacity="0.5"/>
<circle cx="213.48" cy="921.83" r="0.47" fill="#8d86c4" fill-opacity="0.5"/>
<circle cx="206.14" cy="930.99" r="0.66" fill="#8379bf" fill-opacity="0.5"/>
<circle cx="201.18" cy="934.81" r="0.63" fill="#7a70b8" fill-opacity="0.5"/>
<circle cx="201.82" cy="934.31" r="0.49" fill="#8d86c4" fill-opacity="0.5"/>
<circle cx="210.18" cy="919.82" r="0.63" fill="#8379bf" fill-opacity="0.5"/>
<circle cx="188.90" cy="916.87" r="0.73" fill="#7a70b8" fill-opacity="0.5"/>
<circle cx="191.00" cy="911.30" r="0.68" fill="#6d64ad" fill-opacity="0.5"/>
<circle cx="206.53" cy="907.29" r="0.40" fill="#8d86c4" fill-opacity="0.5"/>
<circle cx="191.01" cy="921.44" r="0.69" fill="#7a70b8" fill-opacity="0.5"/>
<circle cx="194.54" cy="912.02" r="0.42" fill="#8379bf" fill-opacity="0.5"/>
<circle cx="187.57" cy="918.32" r="0.46" fill="#7a70b8" fill-opacity="0.5"/>
<circle cx="190.01" cy="914.51" r="0.47" fill="#8379bf" fill-opacity="0.5"/>
<circle cx="192.06" cy="911.27" r="0.61" fill="#7a70b8" fill-opacity="0.5"/>
<circle cx="192.69" cy="919.23" r="0.72" fill="#7a70b8" fill-opacity="0.5"/>
<circle cx="193.66" cy="917.91" r="0.59" fill="#6d64ad" fill-opacity="0.5"/>
<circle cx="185.61" cy="915.89" r="0.58" fill="#8379bf" fill-opacity="0.5"/>
<circle cx="192.69" cy="933.81" r="0.45" fill="#6d64ad" fill-opacity="0.5"/>
<circle cx="195.96" cy="916.52" r="0.67" fill="#8379bf" fill-opacity="0.5"/>
<circle cx="198.23" cy="918.24" r="0.53" fill="#8d86c4" fill-opacity="0.5"/>
<circle cx="213.73" cy="918.69" r="0.37" fill="#7a70b8" fill-opacity="0.5"/>
<circle cx="182.78" cy="913.49" r="0.49" fill="#8d86c4" fill-opacity="0.5"/>
<circle cx="198.69" cy="906.33" r="0.55" fill="#8379bf" fill-opacity="0.5"/>
<circle cx="182.85" cy="909.50" r="0.39" fill="#8d86c4" fill-opacity="0.5"/>
<circle cx="197.17" cy="929.47" r="0.66" fill="#8379bf" fill-opacity="0.5"/>
<circle cx="195.37" cy="931.13" r="0.69" fill="#8d86c4" fill-opacity="0.5"/>
<circle cx="195.67" cy="925.09" r="0.74" fill="#7a70b8" fill-opacity="0.5"/>
<circle cx="180.59" cy="910.76" r="0.42" fill="#8379bf" fill-opacity="0.5"/>
<circle cx="185.49" cy="909.77" r="0.67" fill="#8d86c4" fill-opacity="0.5"/>
<circle cx="193.27" cy="901.51" r="0.36" fill="#7a70b8" fill-opacity="0.5"/>
<circle cx="207.11" cy="911.18" r="0.57" fill="#8379bf" fill-opacity="0.5"/>
<circle cx="194.12" cy="916.41" r="0.52" fill="#6d64ad" fill-opacity="0.5"/>
<circle cx="202.74" cy="904.31" r="0.66" fill="#8d86c4" fill-opacity="0.5"/>
<circle cx="210.30" cy="927.19" r="0.42" fill="#6d64ad" fill-opacity="0.5"/>
<circle cx="196.29" cy="930.42" r="0.61" fill="#8d86c4" fill-opacity="0.5"/>
<circle cx="202.71" cy="937.72" r="0.55" fill="#7a70b8" fill-opacity="0.7"/>
<circle cx="195.34" cy="939.54" r="0.42" fill="#7a70b8" fill-opacity="0.7"/>
<circle cx="182.99" cy="934.60" r="0.79" fill="#7a70b8" fill-opacity="0.7"/>
<circle cx="198.81" cy="938.69" r="0.70" fill="#7a70b8" fill-opacity="0.7"/>
<circle cx="203.61" cy="937.14" r="0.76" fill="#7a70b8" fill-opacity="0.7"/>
<circle cx="198.95" cy="938.58" r="0.52" fill="#7a70b8" fill-opacity="0.7"/>
<circle cx="186.09" cy="935.62" r="0.41" fill="#7a70b8" fill-opacity="0.7"/>
<circle cx="176.24" cy="912.13" r="0.69" fill="#7a70b8" fill-opacity="0.7"/>
<circle cx="194.73" cy="938.54" r="0.62" fill="#7a70b8" fill-opacity="0.7"/>
<circle cx="194.14" cy="938.77" r="0.77" fill="#7a70b8" fill-opacity="0.7"/>
<rect x="173.60" y="895.40" width="45.10" height="46.00" fill="none" stroke="#1a1a1a" stroke-width="1.3"/>
<rect x="223.30" y="895.40" width="45.40" height="46.00" fill="#9db0c1"/>
<circle cx="246.00" cy="918.40" r="22.25" fill="#a8b3cc" stroke="#8e98b8" stroke-width="0.7"/>
<circle cx="246.00" cy="918.40" r="20.20" fill="url(#col12)" stroke="#8e98b8" stroke-width="0.5"/>
<circle cx="231.67" cy="920.71" r="0.62" fill="#8379bf" fill-opacity="0.5"/>
<circle cx="232.00" cy="931.28" r="0.54" fill="#8d86c4" fill-opacity="0.5"/>
<circle cx="241.00" cy="905.64" r="0.57" fill="#8379bf" fill-opacity="0.5"/>
<circle cx="255.86" cy="917.03" r="0.49" fill="#8379bf" fill-opacity="0.5"/>
<circle cx="261.61" cy="924.45" r="0.38" fill="#6d64ad" fill-opacity="0.5"/>
<circle cx="239.12" cy="903.44" r="0.38" fill="#7a70b8" fill-opacity="0.5"/>
<circle cx="252.18" cy="905.19" r="0.44" fill="#8d86c4" fill-opacity="0.5"/>
<circle cx="250.35" cy="916.89" r="0.52" fill="#8379bf" fill-opacity="0.5"/>
<circle cx="228.96" cy="914.08" r="0.57" fill="#7a70b8" fill-opacity="0.5"/>
<circle cx="234.46" cy="914.23" r="0.38" fill="#8d86c4" fill-opacity="0.5"/>
<circle cx="240.26" cy="908.24" r="0.59" fill="#7a70b8" fill-opacity="0.5"/>
<circle cx="243.61" cy="915.48" r="0.43" fill="#6d64ad" fill-opacity="0.5"/>
<circle cx="239.88" cy="926.15" r="0.63" fill="#6d64ad" fill-opacity="0.5"/>
<circle cx="251.62" cy="923.28" r="0.50" fill="#8379bf" fill-opacity="0.5"/>
<circle cx="262.53" cy="921.35" r="0.52" fill="#7a70b8" fill-opacity="0.5"/>
<circle cx="247.91" cy="929.20" r="0.51" fill="#7a70b8" fill-opacity="0.5"/>
<circle cx="246.15" cy="911.26" r="0.38" fill="#6d64ad" fill-opacity="0.5"/>
<circle cx="254.05" cy="920.30" r="0.49" fill="#7a70b8" fill-opacity="0.5"/>
<circle cx="236.08" cy="917.52" r="0.49" fill="#8d86c4" fill-opacity="0.5"/>
<circle cx="227.65" cy="921.16" r="0.54" fill="#8379bf" fill-opacity="0.5"/>
<circle cx="233.40" cy="921.24" r="0.42" fill="#8379bf" fill-opacity="0.5"/>
<circle cx="246.63" cy="918.01" r="0.46" fill="#6d64ad" fill-opacity="0.5"/>
<circle cx="253.04" cy="933.24" r="0.55" fill="#8379bf" fill-opacity="0.5"/>
<circle cx="232.17" cy="905.56" r="0.75" fill="#8379bf" fill-opacity="0.5"/>
<circle cx="255.03" cy="919.77" r="0.66" fill="#6d64ad" fill-opacity="0.5"/>
<circle cx="241.31" cy="912.77" r="0.56" fill="#8d86c4" fill-opacity="0.5"/>
<circle cx="236.32" cy="919.02" r="0.62" fill="#8d86c4" fill-opacity="0.5"/>
<circle cx="250.60" cy="914.80" r="0.47" fill="#7a70b8" fill-opacity="0.5"/>
<circle cx="242.75" cy="936.48" r="0.56" fill="#8d86c4" fill-opacity="0.5"/>
<circle cx="244.03" cy="911.68" r="0.46" fill="#6d64ad" fill-opacity="0.5"/>
<circle cx="246.49" cy="918.49" r="0.36" fill="#6d64ad" fill-opacity="0.5"/>
<circle cx="239.36" cy="922.03" r="0.52" fill="#7a70b8" fill-opacity="0.5"/>
<circle cx="232.94" cy="913.24" r="0.72" fill="#6d64ad" fill-opacity="0.5"/>
<circle cx="246.71" cy="907.61" r="0.59" fill="#8d86c4" fill-opacity="0.5"/>
<circle cx="249.27" cy="905.42" r="0.49" fill="#6d64ad" fill-opacity="0.5"/>
<circle cx="239.37" cy="910.58" r="0.41" fill="#8379bf" fill-opacity="0.5"/>
<circle cx="259.55" cy="909.04" r="0.71" fill="#8d86c4" fill-opacity="0.5"/>
<circle cx="230.04" cy="914.84" r="0.50" fill="#7a70b8" fill-opacity="0.5"/>
<circle cx="244.41" cy="912.14" r="0.46" fill="#8d86c4" fill-opacity="0.5"/>
<circle cx="242.45" cy="914.98" r="0.56" fill="#8d86c4" fill-opacity="0.5"/>
<circle cx="242.99" cy="916.73" r="0.49" fill="#7a70b8" fill-opacity="0.5"/>
<circle cx="243.88" cy="913.48" r="0.39" fill="#6d64ad" fill-opacity="0.5"/>
<circle cx="243.68" cy="924.20" r="0.62" fill="#8d86c4" fill-opacity="0.5"/>
<circle cx="244.71" cy="919.85" r="0.55" fill="#8d86c4" fill-opacity="0.5"/>
<circle cx="243.06" cy="918.67" r="0.59" fill="#8d86c4" fill-opacity="0.5"/>
<circle cx="246.68" cy="927.60" r="0.73" fill="#7a70b8" fill-opacity="0.5"/>
<circle cx="255.68" cy="916.17" r="0.69" fill="#8d86c4" fill-opacity="0.5"/>
<circle cx="242.46" cy="930.29" r="0.41" fill="#6d64ad" fill-opacity="0.5"/>
<circle cx="252.06" cy="928.27" r="0.59" fill="#8379bf" fill-opacity="0.5"/>
<circle cx="230.21" cy="922.44" r="0.37" fill="#8379bf" fill-opacity="0.5"/>
<circle cx="233.37" cy="926.69" r="0.67" fill="#8d86c4" fill-opacity="0.5"/>
<circle cx="236.29" cy="902.39" r="0.57" fill="#6d64ad" fill-opacity="0.5"/>
<circle cx="236.83" cy="930.98" r="0.48" fill="#8d86c4" fill-opacity="0.5"/>
<circle cx="257.23" cy="909.77" r="0.42" fill="#8d86c4" fill-opacity="0.5"/>
<circle cx="247.96" cy="931.09" r="0.45" fill="#7a70b8" fill-opacity="0.5"/>
<circle cx="237.07" cy="922.67" r="0.51" fill="#6d64ad" fill-opacity="0.5"/>
<circle cx="232.61" cy="929.61" r="0.71" fill="#6d64ad" fill-opacity="0.5"/>
<circle cx="250.73" cy="924.76" r="0.36" fill="#8d86c4" fill-opacity="0.5"/>
<circle cx="234.12" cy="925.69" r="0.46" fill="#8d86c4" fill-opacity="0.5"/>
<circle cx="247.41" cy="906.45" r="0.73" fill="#8379bf" fill-opacity="0.5"/>
<circle cx="249.29" cy="924.36" r="0.45" fill="#6d64ad" fill-opacity="0.5"/>
<circle cx="243.21" cy="918.00" r="0.68" fill="#6d64ad" fill-opacity="0.5"/>
<circle cx="263.86" cy="916.18" r="0.66" fill="#6d64ad" fill-opacity="0.5"/>
<circle cx="249.46" cy="912.38" r="0.70" fill="#7a70b8" fill-opacity="0.5"/>
<circle cx="243.70" cy="917.56" r="0.67" fill="#8379bf" fill-opacity="0.5"/>
<circle cx="253.95" cy="931.52" r="0.47" fill="#8379bf" fill-opacity="0.5"/>
<circle cx="262.03" cy="916.53" r="0.57" fill="#7a70b8" fill-opacity="0.5"/>
<circle cx="242.61" cy="915.70" r="0.62" fill="#8379bf" fill-opacity="0.5"/>
<circle cx="234.07" cy="922.40" r="0.61" fill="#8d86c4" fill-opacity="0.5"/>
<circle cx="231.81" cy="917.93" r="0.54" fill="#8d86c4" fill-opacity="0.5"/>
<circle cx="256.67" cy="904.26" r="0.36" fill="#6d64ad" fill-opacity="0.5"/>
<circle cx="251.63" cy="919.13" r="0.65" fill="#6d64ad" fill-opacity="0.5"/>
<circle cx="239.22" cy="901.16" r="0.62" fill="#8d86c4" fill-opacity="0.5"/>
<circle cx="228.26" cy="912.79" r="0.50" fill="#7a70b8" fill-opacity="0.5"/>
<circle cx="248.68" cy="914.12" r="0.37" fill="#7a70b8" fill-opacity="0.5"/>
<circle cx="231.33" cy="926.10" r="0.68" fill="#8379bf" fill-opacity="0.5"/>
<circle cx="260.65" cy="921.29" r="0.58" fill="#7a70b8" fill-opacity="0.5"/>
<circle cx="234.76" cy="910.95" r="0.67" fill="#8379bf" fill-opacity="0.5"/>
<circle cx="236.88" cy="920.68" r="0.61" fill="#6d64ad" fill-opacity="0.5"/>
<circle cx="249.21" cy="908.56" r="0.61" fill="#6d64ad" fill-opacity="0.5"/>
<circle cx="264.08" cy="912.87" r="0.66" fill="#6d64ad" fill-opacity="0.5"/>
<circle cx="249.05" cy="922.19" r="0.54" fill="#8379bf" fill-opacity="0.5"/>
<circle cx="245.46" cy="917.43" r="0.44" fill="#8d86c4" fill-opacity="0.5"/>
<circle cx="237.30" cy="922.11" r="0.51" fill="#6d64ad" fill-opacity="0.5"/>
<circle cx="240.55" cy="927.02" r="0.69" fill="#8d86c4" fill-opacity="0.5"/>
<circle cx="236.30" cy="933.17" r="0.60" fill="#6d64ad" fill-opacity="0.5"/>
<circle cx="254.72" cy="922.13" r="0.46" fill="#8379bf" fill-opacity="0.5"/>
<circle cx="253.73" cy="905.96" r="0.53" fill="#6d64ad" fill-opacity="0.5"/>
<circle cx="245.86" cy="929.22" r="0.39" fill="#8d86c4" fill-opacity="0.5"/>
<circle cx="252.01" cy="929.81" r="0.59" fill="#6d64ad" fill-opacity="0.5"/>
<circle cx="239.57" cy="924.56" r="0.49" fill="#6d64ad" fill-opacity="0.5"/>
<circle cx="258.80" cy="913.65" r="0.38" fill="#8d86c4" fill-opacity="0.5"/>
<circle cx="260.07" cy="906.66" r="0.60" fill="#6d64ad" fill-opacity="0.5"/>
<circle cx="249.37" cy="914.24" r="0.48" fill="#8d86c4" fill-opacity="0.5"/>
<circle cx="254.92" cy="920.86" r="0.56" fill="#7a70b8" fill-opacity="0.5"/>
<circle cx="249.90" cy="914.00" r="0.54" fill="#7a70b8" fill-opacity="0.5"/>
<circle cx="243.20" cy="913.02" r="0.53" fill="#6d64ad" fill-opacity="0.5"/>
<circle cx="259.64" cy="924.52" r="0.43" fill="#6d64ad" fill-opacity="0.5"/>
<circle cx="236.80" cy="907.55" r="0.59" fill="#8d86c4" fill-opacity="0.5"/>
<circle cx="245.64" cy="909.50" r="0.40" fill="#8d86c4" fill-opacity="0.5"/>
<circle cx="236.98" cy="925.69" r="0.49" fill="#8379bf" fill-opacity="0.5"/>
<circle cx="246.85" cy="930.93" r="0.64" fill="#6d64ad" fill-opacity="0.5"/>
<circle cx="240.57" cy="925.38" r="0.36" fill="#6d64ad" fill-opacity="0.5"/>
<circle cx="231.60" cy="930.27" r="0.71" fill="#8379bf" fill-opacity="0.5"/>
<circle cx="241.41" cy="906.81" r="0.58" fill="#8379bf" fill-opacity="0.5"/>
<circle cx="245.38" cy="929.13" r="0.37" fill="#7a70b8" fill-opacity="0.5"/>
<circle cx="233.91" cy="922.08" r="0.45" fill="#8379bf" fill-opacity="0.5"/>
<circle cx="258.20" cy="930.12" r="0.50" fill="#8d86c4" fill-opacity="0.5"/>
<circle cx="244.56" cy="922.21" r="0.43" fill="#8379bf" fill-opacity="0.5"/>
<circle cx="236.82" cy="927.03" r="0.45" fill="#6d64ad" fill-opacity="0.5"/>
<circle cx="247.09" cy="913.56" r="0.43" fill="#7a70b8" fill-opacity="0.5"/>
<circle cx="248.05" cy="910.71" r="0.56" fill="#8d86c4" fill-opacity="0.5"/>
<circle cx="256.82" cy="927.19" r="0.42" fill="#7a70b8" fill-opacity="0.5"/>
<circle cx="244.55" cy="919.02" r="0.55" fill="#6d64ad" fill-opacity="0.5"/>
<circle cx="248.09" cy="915.18" r="0.57" fill="#8d86c4" fill-opacity="0.5"/>
<circle cx="230.21" cy="911.95" r="0.71" fill="#8d86c4" fill-opacity="0.5"/>
<circle cx="229.53" cy="913.73" r="0.50" fill="#8379bf" fill-opacity="0.5"/>
<circle cx="262.25" cy="920.91" r="0.56" fill="#6d64ad" fill-opacity="0.5"/>
<circle cx="253.11" cy="917.97" r="0.51" fill="#8d86c4" fill-opacity="0.5"/>
<circle cx="230.00" cy="915.95" r="0.62" fill="#6d64ad" fill-opacity="0.5"/>
<circle cx="240.21" cy="910.41" r="0.46" fill="#7a70b8" fill-opacity="0.5"/>
<circle cx="236.47" cy="904.53" r="0.40" fill="#8379bf" fill-opacity="0.5"/>
<circle cx="251.12" cy="920.58" r="0.66" fill="#8379bf" fill-opacity="0.5"/>
<circle cx="253.46" cy="933.51" r="0.69" fill="#8379bf" fill-opacity="0.5"/>
<circle cx="246.73" cy="917.12" r="0.41" fill="#8d86c4" fill-opacity="0.5"/>
<circle cx="232.28" cy="912.01" r="0.65" fill="#6d64ad" fill-opacity="0.5"/>
<circle cx="246.05" cy="909.96" r="0.65" fill="#8d86c4" fill-opacity="0.5"/>
<circle cx="251.04" cy="936.20" r="0.72" fill="#6d64ad" fill-opacity="0.5"/>
<circle cx="243.43" cy="921.59" r="0.55" fill="#8d86c4" fill-opacity="0.5"/>
<circle cx="244.55" cy="920.26" r="0.47" fill="#7a70b8" fill-opacity="0.5"/>
<circle cx="240.75" cy="935.03" r="0.48" fill="#7a70b8" fill-opacity="0.5"/>
<circle cx="252.55" cy="914.70" r="0.57" fill="#8379bf" fill-opacity="0.5"/>
<circle cx="248.92" cy="915.80" r="0.73" fill="#8379bf" fill-opacity="0.5"/>
<circle cx="245.16" cy="899.43" r="0.74" fill="#6d64ad" fill-opacity="0.5"/>
<circle cx="262.21" cy="918.24" r="0.52" fill="#6d64ad" fill-opacity="0.5"/>
<circle cx="244.87" cy="920.93" r="0.73" fill="#6d64ad" fill-opacity="0.5"/>
<circle cx="239.68" cy="908.40" r="0.43" fill="#8379bf" fill-opacity="0.5"/>
<circle cx="233.80" cy="906.79" r="0.62" fill="#8d86c4" fill-opacity="0.5"/>
<circle cx="260.48" cy="907.35" r="0.56" fill="#8d86c4" fill-opacity="0.5"/>
<circle cx="235.90" cy="916.22" r="0.48" fill="#8379bf" fill-opacity="0.5"/>
<circle cx="254.37" cy="906.18" r="0.59" fill="#8379bf" fill-opacity="0.5"/>
<circle cx="230.91" cy="915.51" r="0.74" fill="#7a70b8" fill-opacity="0.5"/>
<circle cx="249.20" cy="928.61" r="0.42" fill="#7a70b8" fill-opacity="0.5"/>
<circle cx="237.09" cy="935.09" r="0.62" fill="#7a70b8" fill-opacity="0.5"/>
<circle cx="236.51" cy="922.58" r="0.43" fill="#8379bf" fill-opacity="0.5"/>
<circle cx="242.82" cy="914.02" r="0.57" fill="#8379bf" fill-opacity="0.5"/>
<circle cx="243.65" cy="904.53" r="0.62" fill="#7a70b8" fill-opacity="0.5"/>
<circle cx="247.64" cy="933.86" r="0.54" fill="#8379bf" fill-opacity="0.5"/>
<circle cx="248.13" cy="921.72" r="0.73" fill="#8379bf" fill-opacity="0.5"/>
<circle cx="257.18" cy="933.51" r="0.55" fill="#8379bf" fill-opacity="0.5"/>
<circle cx="255.74" cy="910.71" r="0.59" fill="#6d64ad" fill-opacity="0.5"/>
<circle cx="245.99" cy="928.79" r="0.57" fill="#7a70b8" fill-opacity="0.5"/>
<circle cx="243.84" cy="919.47" r="0.68" fill="#8379bf" fill-opacity="0.5"/>
<circle cx="259.77" cy="915.25" r="0.66" fill="#8379bf" fill-opacity="0.5"/>
<circle cx="239.08" cy="905.39" r="0.36" fill="#7a70b8" fill-opacity="0.5"/>
<circle cx="245.47" cy="913.10" r="0.47" fill="#8379bf" fill-opacity="0.5"/>
<circle cx="258.23" cy="926.05" r="0.63" fill="#7a70b8" fill-opacity="0.5"/>
<circle cx="229.63" cy="917.31" r="0.38" fill="#8379bf" fill-opacity="0.5"/>
<circle cx="247.52" cy="917.52" r="0.48" fill="#7a70b8" fill-opacity="0.5"/>
<circle cx="248.15" cy="921.40" r="0.46" fill="#6d64ad" fill-opacity="0.5"/>
<circle cx="244.73" cy="933.77" r="0.40" fill="#8379bf" fill-opacity="0.5"/>
<circle cx="230.75" cy="924.59" r="0.39" fill="#8d86c4" fill-opacity="0.5"/>
<circle cx="253.27" cy="903.85" r="0.50" fill="#6d64ad" fill-opacity="0.5"/>
<circle cx="262.33" cy="908.59" r="0.39" fill="#6d64ad" fill-opacity="0.5"/>
<circle cx="247.14" cy="927.53" r="0.73" fill="#8d86c4" fill-opacity="0.5"/>
<circle cx="245.48" cy="918.48" r="0.38" fill="#7a70b8" fill-opacity="0.5"/>
<circle cx="252.08" cy="927.75" r="0.55" fill="#8d86c4" fill-opacity="0.5"/>
<circle cx="258.03" cy="907.82" r="0.50" fill="#7a70b8" fill-opacity="0.5"/>
<circle cx="260.75" cy="928.10" r="0.41" fill="#8d86c4" fill-opacity="0.5"/>
<circle cx="255.32" cy="934.89" r="0.69" fill="#8d86c4" fill-opacity="0.5"/>
<circle cx="240.67" cy="938.07" r="0.69" fill="#7a70b8" fill-opacity="0.7"/>
<circle cx="253.46" cy="938.21" r="0.53" fill="#7a70b8" fill-opacity="0.7"/>
<circle cx="237.06" cy="936.74" r="0.69" fill="#7a70b8" fill-opacity="0.7"/>
<circle cx="247.24" cy="938.52" r="0.43" fill="#7a70b8" fill-opacity="0.7"/>
<circle cx="249.37" cy="938.95" r="0.80" fill="#7a70b8" fill-opacity="0.7"/>
<circle cx="255.10" cy="936.89" r="0.54" fill="#7a70b8" fill-opacity="0.7"/>
<circle cx="240.76" cy="938.16" r="0.44" fill="#7a70b8" fill-opacity="0.7"/>
<circle cx="235.76" cy="935.98" r="0.42" fill="#7a70b8" fill-opacity="0.7"/>
<circle cx="249.25" cy="939.39" r="0.69" fill="#7a70b8" fill-opacity="0.7"/>
<circle cx="225.70" cy="912.69" r="0.70" fill="#7a70b8" fill-opacity="0.7"/>
<circle cx="244.73" cy="938.48" r="0.79" fill="#7a70b8" fill-opacity="0.7"/>
<circle cx="226.94" cy="927.12" r="0.46" fill="#7a70b8" fill-opacity="0.7"/>
<circle cx="225.62" cy="922.04" r="0.44" fill="#7a70b8" fill-opacity="0.7"/>
<circle cx="245.48" cy="939.69" r="0.65" fill="#7a70b8" fill-opacity="0.7"/>
<circle cx="251.11" cy="937.83" r="0.70" fill="#7a70b8" fill-opacity="0.7"/>
<circle cx="238.76" cy="937.71" r="0.45" fill="#7a70b8" fill-opacity="0.7"/>
<circle cx="247.06" cy="939.03" r="0.57" fill="#7a70b8" fill-opacity="0.7"/>
<circle cx="246.67" cy="938.57" r="0.58" fill="#7a70b8" fill-opacity="0.7"/>
<circle cx="250.06" cy="938.04" r="0.59" fill="#7a70b8" fill-opacity="0.7"/>
<circle cx="253.20" cy="938.10" r="0.71" fill="#7a70b8" fill-opacity="0.7"/>
<circle cx="226.25" cy="926.29" r="0.47" fill="#7a70b8" fill-opacity="0.7"/>
<circle cx="235.75" cy="936.20" r="0.43" fill="#7a70b8" fill-opacity="0.7"/>
<circle cx="225.97" cy="918.73" r="0.79" fill="#7a70b8" fill-opacity="0.7"/>
<circle cx="226.80" cy="927.67" r="0.42" fill="#7a70b8" fill-opacity="0.7"/>
<circle cx="224.75" cy="917.05" r="0.71" fill="#7a70b8" fill-opacity="0.7"/>
<rect x="223.30" y="895.40" width="45.40" height="46.00" fill="none" stroke="#1a1a1a" stroke-width="1.3"/>
<rect x="273.30" y="895.40" width="45.40" height="46.00" fill="#9db0c1"/>
<circle cx="296.00" cy="918.40" r="22.25" fill="#a8b3cc" stroke="#8e98b8" stroke-width="0.7"/>
<circle cx="296.00" cy="918.40" r="20.20" fill="url(#col13)" stroke="#8e98b8" stroke-width="0.5"/>
<circle cx="295.16" cy="933.29" r="0.62" fill="#8379bf" fill-opacity="0.5"/>
<circle cx="287.54" cy="906.45" r="0.70" fill="#8379bf" fill-opacity="0.5"/>
<circle cx="304.64" cy="927.63" r="0.44" fill="#6d64ad" fill-opacity="0.5"/>
<circle cx="300.88" cy="919.33" r="0.62" fill="#7a70b8" fill-opacity="0.5"/>
<circle cx="312.93" cy="917.65" r="0.38" fill="#6d64ad" fill-opacity="0.5"/>
<circle cx="303.27" cy="904.43" r="0.73" fill="#6d64ad" fill-opacity="0.5"/>
<circle cx="291.43" cy="924.24" r="0.71" fill="#8d86c4" fill-opacity="0.5"/>
<circle cx="287.56" cy="902.89" r="0.61" fill="#7a70b8" fill-opacity="0.5"/>
<circle cx="288.29" cy="929.60" r="0.60" fill="#6d64ad" fill-opacity="0.5"/>
<circle cx="291.29" cy="906.29" r="0.65" fill="#8379bf" fill-opacity="0.5"/>
<circle cx="281.55" cy="924.08" r="0.56" fill="#6d64ad" fill-opacity="0.5"/>
<circle cx="299.67" cy="930.36" r="0.45" fill="#8d86c4" fill-opacity="0.5"/>
<circle cx="295.38" cy="926.72" r="0.71" fill="#8d86c4" fill-opacity="0.5"/>
<circle cx="283.48" cy="914.33" r="0.70" fill="#6d64ad" fill-opacity="0.5"/>
<circle cx="303.49" cy="926.49" r="0.60" fill="#8d86c4" fill-opacity="0.5"/>
<circle cx="284.16" cy="928.23" r="0.72" fill="#7a70b8" fill-opacity="0.5"/>
<circle cx="297.90" cy="930.37" r="0.63" fill="#8d86c4" fill-opacity="0.5"/>
<circle cx="292.28" cy="913.96" r="0.52" fill="#6d64ad" fill-opacity="0.5"/>
<circle cx="308.49" cy="907.56" r="0.43" fill="#6d64ad" fill-opacity="0.5"/>
<circle cx="281.61" cy="916.55" r="0.71" fill="#8379bf" fill-opacity="0.5"/>
<circle cx="294.81" cy="911.55" r="0.60" fill="#7a70b8" fill-opacity="0.5"/>
<circle cx="286.16" cy="930.39" r="0.49" fill="#6d64ad" fill-opacity="0.5"/>
<circle cx="301.73" cy="933.68" r="0.57" fill="#8379bf" fill-opacity="0.5"/>
<circle cx="301.46" cy="927.95" r="0.59" fill="#7a70b8" fill-opacity="0.5"/>
<circle cx="312.55" cy="915.36" r="0.61" fill="#7a70b8" fill-opacity="0.5"/>
<circle cx="302.25" cy="924.76" r="0.51" fill="#6d64ad" fill-opacity="0.5"/>
<circle cx="282.14" cy="912.40" r="0.73" fill="#6d64ad" fill-opacity="0.5"/>
<circle cx="297.30" cy="916.64" r="0.48" fill="#8379bf" fill-opacity="0.5"/>
<circle cx="277.31" cy="918.80" r="0.56" fill="#8d86c4" fill-opacity="0.5"/>
<circle cx="297.16" cy="925.16" r="0.67" fill="#8d86c4" fill-opacity="0.5"/>
<circle cx="278.06" cy="918.24" r="0.65" fill="#6d64ad" fill-opacity="0.5"/>
<circle cx="281.00" cy="926.00" r="0.44" fill="#8d86c4" fill-opacity="0.5"/>
<circle cx="287.71" cy="913.29" r="0.45" fill="#6d64ad" fill-opacity="0.5"/>
<circle cx="283.16" cy="924.65" r="0.52" fill="#6d64ad" fill-opacity="0.5"/>
<circle cx="292.89" cy="920.73" r="0.65" fill="#7a70b8" fill-opacity="0.5"/>
<circle cx="290.96" cy="911.14" r="0.53" fill="#8d86c4" fill-opacity="0.5"/>
<circle cx="291.76" cy="925.79" r="0.52" fill="#8379bf" fill-opacity="0.5"/>
<circle cx="297.68" cy="920.66" r="0.50" fill="#8379bf" fill-opacity="0.5"/>
<circle cx="297.74" cy="927.01" r="0.51" fill="#7a70b8" fill-opacity="0.5"/>
<circle cx="293.55" cy="921.88" r="0.55" fill="#8d86c4" fill-opacity="0.5"/>
<circle cx="308.23" cy="921.83" r="0.40" fill="#7a70b8" fill-opacity="0.5"/>
<circle cx="288.19" cy="934.30" r="0.57" fill="#8379bf" fill-opacity="0.5"/>
<circle cx="310.50" cy="908.19" r="0.71" fill="#8379bf" fill-opacity="0.5"/>
<circle cx="311.40" cy="928.13" r="0.38" fill="#6d64ad" fill-opacity="0.5"/>
<circle cx="298.24" cy="911.77" r="0.64" fill="#8379bf" fill-opacity="0.5"/>
<circle cx="278.07" cy="916.15" r="0.53" fill="#8d86c4" fill-opacity="0.5"/>
<circle cx="283.64" cy="906.70" r="0.71" fill="#7a70b8" fill-opacity="0.5"/>
<circle cx="282.11" cy="906.41" r="0.65" fill="#6d64ad" fill-opacity="0.5"/>
<circle cx="287.48" cy="916.58" r="0.73" fill="#6d64ad" fill-opacity="0.5"/>
<circle cx="295.32" cy="928.42" r="0.72" fill="#8379bf" fill-opacity="0.5"/>
<circle cx="295.36" cy="913.98" r="0.64" fill="#7a70b8" fill-opacity="0.5"/>
<circle cx="312.61" cy="918.36" r="0.52" fill="#6d64ad" fill-opacity="0.5"/>
<circle cx="298.08" cy="917.23" r="0.39" fill="#8d86c4" fill-opacity="0.5"/>
<circle cx="307.69" cy="918.12" r="0.46" fill="#8379bf" fill-opacity="0.5"/>
<circle cx="295.53" cy="918.55" r="0.36" fill="#6d64ad" fill-opacity="0.5"/>
<circle cx="294.81" cy="925.56" r="0.75" fill="#6d64ad" fill-opacity="0.5"/>
<circle cx="279.59" cy="927.95" r="0.65" fill="#8d86c4" fill-opacity="0.5"/>
<circle cx="291.22" cy="921.47" r="0.58" fill="#8d86c4" fill-opacity="0.5"/>
<circle cx="299.48" cy="927.87" r="0.54" fill="#8379bf" fill-opacity="0.5"/>
<circle cx="313.58" cy="921.65" r="0.54" fill="#8379bf" fill-opacity="0.5"/>
<circle cx="296.46" cy="918.86" r="0.40" fill="#7a70b8" fill-opacity="0.5"/>
<circle cx="305.09" cy="910.41" r="0.56" fill="#7a70b8" fill-opacity="0.5"/>
<circle cx="299.50" cy="933.76" r="0.61" fill="#8d86c4" fill-opacity="0.5"/>
<circle cx="308.46" cy="920.54" r="0.66" fill="#8379bf" fill-opacity="0.5"/>
<circle cx="291.84" cy="931.73" r="0.61" fill="#8d86c4" fill-opacity="0.5"/>
<circle cx="303.05" cy="914.85" r="0.54" fill="#7a70b8" fill-opacity="0.5"/>
<circle cx="296.50" cy="931.02" r="0.35" fill="#8d86c4" fill-opacity="0.5"/>
<circle cx="309.93" cy="907.17" r="0.61" fill="#7a70b8" fill-opacity="0.5"/>
<circle cx="277.25" cy="915.48" r="0.44" fill="#7a70b8" fill-opacity="0.5"/>
<circle cx="310.53" cy="929.01" r="0.72" fill="#6d64ad" fill-opacity="0.5"/>
<circle cx="303.26" cy="905.44" r="0.64" fill="#6d64ad" fill-opacity="0.5"/>
<circle cx="289.36" cy="914.14" r="0.40" fill="#8379bf" fill-opacity="0.5"/>
<circle cx="293.58" cy="916.72" r="0.61" fill="#7a70b8" fill-opacity="0.5"/>
<circle cx="298.74" cy="901.12" r="0.50" fill="#8d86c4" fill-opacity="0.5"/>
<circle cx="300.18" cy="906.77" r="0.38" fill="#8d86c4" fill-opacity="0.5"/>
<circle cx="287.78" cy="916.98" r="0.50" fill="#7a70b8" fill-opacity="0.5"/>
<circle cx="308.70" cy="910.63" r="0.50" fill="#7a70b8" fill-opacity="0.5"/>
<circle cx="297.80" cy="900.28" r="0.47" fill="#7a70b8" fill-opacity="0.5"/>
<circle cx="307.27" cy="917.42" r="0.51" fill="#7a70b8" fill-opacity="0.5"/>
<circle cx="302.16" cy="921.78" r="0.41" fill="#6d64ad" fill-opacity="0.5"/>
<circle cx="313.00" cy="917.36" r="0.56" fill="#8d86c4" fill-opacity="0.5"/>
<circle cx="303.87" cy="914.90" r="0.43" fill="#7a70b8" fill-opacity="0.5"/>
<circle cx="295.97" cy="903.90" r="0.73" fill="#8d86c4" fill-opacity="0.5"/>
<circle cx="289.78" cy="911.94" r="0.75" fill="#8379bf" fill-opacity="0.5"/>
<circle cx="295.14" cy="915.85" r="0.44" fill="#8379bf" fill-opacity="0.5"/>
<circle cx="287.79" cy="905.56" r="0.63" fill="#8d86c4" fill-opacity="0.5"/>
<circle cx="299.42" cy="913.87" r="0.37" fill="#7a70b8" fill-opacity="0.5"/>
<circle cx="283.61" cy="916.93" r="0.66" fill="#8379bf" fill-opacity="0.5"/>
<circle cx="309.56" cy="927.19" r="0.47" fill="#6d64ad" fill-opacity="0.5"/>
<circle cx="296.28" cy="926.76" r="0.58" fill="#8d86c4" fill-opacity="0.5"/>
<circle cx="302.95" cy="913.79" r="0.64" fill="#7a70b8" fill-opacity="0.5"/>
<circle cx="298.04" cy="915.16" r="0.37" fill="#7a70b8" fill-opacity="0.5"/>
<circle cx="303.65" cy="916.70" r="0.67" fill="#8379bf" fill-opacity="0.5"/>
<circle cx="292.97" cy="915.39" r="0.55" fill="#7a70b8" fill-opacity="0.5"/>
<circle cx="313.01" cy="923.45" r="0.57" fill="#8379bf" fill-opacity="0.5"/>
<circle cx="294.15" cy="911.23" r="0.48" fill="#6d64ad" fill-opacity="0.5"/>
<circle cx="306.82" cy="929.21" r="0.55" fill="#7a70b8" fill-opacity="0.5"/>
<circle cx="298.09" cy="901.30" r="0.46" fill="#7a70b8" fill-opacity="0.5"/>
<circle cx="291.34" cy="920.91" r="0.35" fill="#8379bf" fill-opacity="0.5"/>
<circle cx="296.22" cy="923.98" r="0.71" fill="#7a70b8" fill-opacity="0.5"/>
<circle cx="290.25" cy="925.64" r="0.49" fill="#8379bf" fill-opacity="0.5"/>
<circle cx="308.29" cy="928.18" r="0.58" fill="#8d86c4" fill-opacity="0.5"/>
<circle cx="311.44" cy="912.66" r="0.59" fill="#7a70b8" fill-opacity="0.5"/>
<circle cx="283.06" cy="919.07" r="0.68" fill="#8d86c4" fill-opacity="0.5"/>
<circle cx="299.22" cy="908.43" r="0.51" fill="#8d86c4" fill-opacity="0.5"/>
<circle cx="293.00" cy="920.57" r="0.45" fill="#8379bf" fill-opacity="0.5"/>
<circle cx="302.85" cy="906.66" r="0.57" fill="#8d86c4" fill-opacity="0.5"/>
<circle cx="284.16" cy="923.05" r="0.65" fill="#8d86c4" fill-opacity="0.5"/>
<circle cx="295.29" cy="900.73" r="0.57" fill="#8379bf" fill-opacity="0.5"/>
<circle cx="314.45" cy="921.55" r="0.37" fill="#6d64ad" fill-opacity="0.5"/>
<circle cx="276.03" cy="916.86" r="0.54" fill="#7a70b8" fill-opacity="0.7"/>
<circle cx="276.31" cy="924.45" r="0.74" fill="#7a70b8" fill-opacity="0.7"/>
<circle cx="297.99" cy="939.33" r="0.57" fill="#7a70b8" fill-opacity="0.7"/>
<circle cx="280.72" cy="931.39" r="0.56" fill="#7a70b8" fill-opacity="0.7"/>
<circle cx="275.26" cy="921.54" r="0.63" fill="#7a70b8" fill-opacity="0.7"/>
<circle cx="285.96" cy="935.73" r="0.68" fill="#7a70b8" fill-opacity="0.7"/>
<circle cx="284.50" cy="935.93" r="0.64" fill="#7a70b8" fill-opacity="0.7"/>
<circle cx="286.30" cy="937.21" r="0.45" fill="#7a70b8" fill-opacity="0.7"/>
<rect x="273.30" y="895.40" width="45.40" height="46.00" fill="none" stroke="#1a1a1a" stroke-width="1.3"/>
<rect x="483.20" y="894.00" width="46.40" height="47.00" fill="#c3cbd1"/>
<circle cx="506.40" cy="917.50" r="22.74" fill="#c9d0d6" stroke="#a9b2bc" stroke-width="0.7"/>
<circle cx="506.40" cy="917.50" r="20.65" fill="url(#col20)" stroke="#a9b2bc" stroke-width="0.5"/>
<circle cx="519.05" cy="908.97" r="0.78" fill="#6a5aa8" fill-opacity="0.8"/>
<circle cx="505.50" cy="931.99" r="0.85" fill="#4e4294" fill-opacity="0.8"/>
<circle cx="500.89" cy="914.78" r="0.61" fill="#5b4d9e" fill-opacity="0.8"/>
<circle cx="513.79" cy="923.10" r="0.88" fill="#7466b0" fill-opacity="0.8"/>
<circle cx="500.58" cy="921.09" r="0.71" fill="#4e4294" fill-opacity="0.8"/>
<circle cx="504.43" cy="921.16" r="0.66" fill="#7466b0" fill-opacity="0.8"/>
<circle cx="500.62" cy="921.43" r="0.52" fill="#6a5aa8" fill-opacity="0.8"/>
<circle cx="511.89" cy="921.21" r="0.75" fill="#4e4294" fill-opacity="0.8"/>
<circle cx="503.67" cy="925.08" r="0.71" fill="#5b4d9e" fill-opacity="0.8"/>
<circle cx="505.57" cy="925.03" r="0.82" fill="#6a5aa8" fill-opacity="0.8"/>
<circle cx="522.21" cy="923.31" r="0.71" fill="#4e4294" fill-opacity="0.8"/>
<circle cx="515.98" cy="928.63" r="0.70" fill="#7466b0" fill-opacity="0.8"/>
<circle cx="521.79" cy="907.25" r="0.54" fill="#7466b0" fill-opacity="0.8"/>
<circle cx="512.40" cy="926.53" r="0.75" fill="#5b4d9e" fill-opacity="0.8"/>
<circle cx="499.22" cy="899.44" r="0.69" fill="#4e4294" fill-opacity="0.8"/>
<circle cx="509.37" cy="935.54" r="0.43" fill="#6a5aa8" fill-opacity="0.8"/>
<circle cx="488.53" cy="925.04" r="0.82" fill="#5b4d9e" fill-opacity="0.8"/>
<circle cx="508.26" cy="908.91" r="0.81" fill="#4e4294" fill-opacity="0.8"/>
<circle cx="501.34" cy="907.98" r="0.63" fill="#5b4d9e" fill-opacity="0.8"/>
<circle cx="509.49" cy="912.33" r="0.87" fill="#4e4294" fill-opacity="0.8"/>
<circle cx="519.94" cy="918.58" r="0.45" fill="#4e4294" fill-opacity="0.8"/>
<circle cx="506.22" cy="921.45" r="0.73" fill="#4e4294" fill-opacity="0.8"/>
<circle cx="497.78" cy="903.21" r="0.50" fill="#5b4d9e" fill-opacity="0.8"/>
<circle cx="516.67" cy="932.93" r="0.77" fill="#6a5aa8" fill-opacity="0.8"/>
<circle cx="520.30" cy="906.28" r="0.61" fill="#5b4d9e" fill-opacity="0.8"/>
<circle cx="500.88" cy="922.18" r="0.50" fill="#6a5aa8" fill-opacity="0.8"/>
<circle cx="510.54" cy="920.40" r="0.59" fill="#6a5aa8" fill-opacity="0.8"/>
<circle cx="499.48" cy="908.23" r="0.40" fill="#6a5aa8" fill-opacity="0.8"/>
<circle cx="509.97" cy="909.10" r="0.87" fill="#5b4d9e" fill-opacity="0.8"/>
<circle cx="513.83" cy="912.71" r="0.58" fill="#4e4294" fill-opacity="0.8"/>
<circle cx="516.19" cy="929.93" r="0.40" fill="#5b4d9e" fill-opacity="0.8"/>
<circle cx="513.82" cy="910.40" r="0.88" fill="#7466b0" fill-opacity="0.8"/>
<circle cx="524.47" cy="915.22" r="0.81" fill="#5b4d9e" fill-opacity="0.8"/>
<circle cx="500.13" cy="914.17" r="0.86" fill="#5b4d9e" fill-opacity="0.8"/>
<circle cx="518.04" cy="911.34" r="0.88" fill="#5b4d9e" fill-opacity="0.8"/>
<circle cx="510.20" cy="925.43" r="0.82" fill="#5b4d9e" fill-opacity="0.8"/>
<circle cx="525.69" cy="917.80" r="0.51" fill="#6a5aa8" fill-opacity="0.8"/>
<circle cx="498.41" cy="910.16" r="0.70" fill="#4e4294" fill-opacity="0.8"/>
<circle cx="485.71" cy="921.30" r="0.72" fill="#5b4d9e" fill-opacity="0.7"/>
<circle cx="509.51" cy="938.55" r="0.76" fill="#5b4d9e" fill-opacity="0.7"/>
<circle cx="490.59" cy="931.27" r="0.40" fill="#5b4d9e" fill-opacity="0.7"/>
<circle cx="485.79" cy="921.82" r="0.63" fill="#5b4d9e" fill-opacity="0.7"/>
<circle cx="493.23" cy="933.52" r="0.48" fill="#5b4d9e" fill-opacity="0.7"/>
<circle cx="494.35" cy="935.49" r="0.55" fill="#5b4d9e" fill-opacity="0.7"/>
<rect x="483.20" y="894.00" width="46.40" height="47.00" fill="none" stroke="#1a1a1a" stroke-width="1.3"/>
<rect x="533.70" y="894.00" width="46.80" height="47.00" fill="#c3cbd1"/>
<circle cx="557.10" cy="917.50" r="22.93" fill="#c9d0d6" stroke="#a9b2bc" stroke-width="0.7"/>
<circle cx="557.10" cy="917.50" r="20.83" fill="url(#col21)" stroke="#a9b2bc" stroke-width="0.5"/>
<circle cx="564.96" cy="930.79" r="0.72" fill="#7466b0" fill-opacity="0.8"/>
<circle cx="567.90" cy="901.23" r="0.64" fill="#6a5aa8" fill-opacity="0.8"/>
<circle cx="549.41" cy="917.25" r="0.40" fill="#4e4294" fill-opacity="0.8"/>
<circle cx="567.43" cy="912.86" r="0.47" fill="#6a5aa8" fill-opacity="0.8"/>
<circle cx="570.75" cy="910.16" r="0.62" fill="#7466b0" fill-opacity="0.8"/>
<circle cx="555.47" cy="916.05" r="0.56" fill="#7466b0" fill-opacity="0.8"/>
<circle cx="551.98" cy="903.57" r="0.87" fill="#5b4d9e" fill-opacity="0.8"/>
<circle cx="566.81" cy="931.75" r="0.46" fill="#5b4d9e" fill-opacity="0.8"/>
<circle cx="544.32" cy="921.38" r="0.57" fill="#7466b0" fill-opacity="0.8"/>
<circle cx="565.88" cy="929.76" r="0.63" fill="#6a5aa8" fill-opacity="0.8"/>
<circle cx="563.21" cy="920.59" r="0.74" fill="#5b4d9e" fill-opacity="0.8"/>
<circle cx="565.82" cy="925.95" r="0.81" fill="#6a5aa8" fill-opacity="0.8"/>
<circle cx="554.05" cy="922.23" r="0.67" fill="#4e4294" fill-opacity="0.8"/>
<circle cx="549.34" cy="926.28" r="0.59" fill="#7466b0" fill-opacity="0.8"/>
<circle cx="555.68" cy="918.72" r="0.45" fill="#7466b0" fill-opacity="0.8"/>
<circle cx="560.59" cy="917.56" r="0.70" fill="#6a5aa8" fill-opacity="0.8"/>
<circle cx="548.68" cy="913.44" r="0.89" fill="#5b4d9e" fill-opacity="0.8"/>
<circle cx="559.72" cy="923.13" r="0.57" fill="#4e4294" fill-opacity="0.8"/>
<circle cx="549.08" cy="929.05" r="0.55" fill="#5b4d9e" fill-opacity="0.8"/>
<circle cx="566.22" cy="933.78" r="0.49" fill="#7466b0" fill-opacity="0.8"/>
<circle cx="546.26" cy="928.36" r="0.74" fill="#6a5aa8" fill-opacity="0.8"/>
<circle cx="540.82" cy="928.26" r="0.88" fill="#5b4d9e" fill-opacity="0.8"/>
<circle cx="566.29" cy="909.21" r="0.59" fill="#6a5aa8" fill-opacity="0.8"/>
<circle cx="564.37" cy="914.42" r="0.68" fill="#7466b0" fill-opacity="0.8"/>
<circle cx="562.76" cy="901.85" r="0.64" fill="#4e4294" fill-opacity="0.8"/>
<circle cx="564.81" cy="920.12" r="0.54" fill="#7466b0" fill-opacity="0.8"/>
<circle cx="557.19" cy="928.24" r="0.84" fill="#6a5aa8" fill-opacity="0.8"/>
<circle cx="573.26" cy="915.81" r="0.64" fill="#4e4294" fill-opacity="0.8"/>
<circle cx="566.60" cy="928.92" r="0.86" fill="#7466b0" fill-opacity="0.8"/>
<circle cx="564.16" cy="918.77" r="0.82" fill="#6a5aa8" fill-opacity="0.8"/>
<circle cx="567.48" cy="907.93" r="0.61" fill="#7466b0" fill-opacity="0.8"/>
<circle cx="552.44" cy="929.72" r="0.54" fill="#5b4d9e" fill-opacity="0.8"/>
<circle cx="553.32" cy="920.94" r="0.76" fill="#4e4294" fill-opacity="0.8"/>
<circle cx="544.82" cy="909.30" r="0.83" fill="#7466b0" fill-opacity="0.8"/>
<circle cx="556.61" cy="928.42" r="0.88" fill="#6a5aa8" fill-opacity="0.8"/>
<circle cx="559.94" cy="920.66" r="0.45" fill="#5b4d9e" fill-opacity="0.8"/>
<circle cx="546.53" cy="904.43" r="0.44" fill="#5b4d9e" fill-opacity="0.8"/>
<circle cx="554.23" cy="913.25" r="0.67" fill="#4e4294" fill-opacity="0.8"/>
<circle cx="542.63" cy="928.54" r="0.71" fill="#6a5aa8" fill-opacity="0.8"/>
<circle cx="561.31" cy="927.05" r="0.75" fill="#5b4d9e" fill-opacity="0.8"/>
<circle cx="547.09" cy="909.84" r="0.77" fill="#5b4d9e" fill-opacity="0.8"/>
<circle cx="557.31" cy="916.69" r="0.63" fill="#5b4d9e" fill-opacity="0.8"/>
<circle cx="546.21" cy="925.63" r="0.83" fill="#6a5aa8" fill-opacity="0.8"/>
<circle cx="556.82" cy="933.04" r="0.56" fill="#5b4d9e" fill-opacity="0.8"/>
<circle cx="557.30" cy="923.38" r="0.76" fill="#4e4294" fill-opacity="0.8"/>
<circle cx="564.12" cy="901.97" r="0.65" fill="#5b4d9e" fill-opacity="0.8"/>
<circle cx="554.07" cy="916.61" r="0.70" fill="#4e4294" fill-opacity="0.8"/>
<circle cx="566.09" cy="915.62" r="0.75" fill="#6a5aa8" fill-opacity="0.8"/>
<circle cx="572.94" cy="924.21" r="0.89" fill="#4e4294" fill-opacity="0.8"/>
<circle cx="570.83" cy="923.47" r="0.61" fill="#5b4d9e" fill-opacity="0.8"/>
<circle cx="548.70" cy="905.67" r="0.80" fill="#7466b0" fill-opacity="0.8"/>
<circle cx="538.14" cy="916.90" r="0.74" fill="#7466b0" fill-opacity="0.8"/>
<circle cx="544.58" cy="919.82" r="0.84" fill="#5b4d9e" fill-opacity="0.8"/>
<circle cx="557.52" cy="920.23" r="0.62" fill="#6a5aa8" fill-opacity="0.8"/>
<circle cx="554.87" cy="931.26" r="0.60" fill="#7466b0" fill-opacity="0.8"/>
<circle cx="549.69" cy="919.60" r="0.59" fill="#7466b0" fill-opacity="0.8"/>
<circle cx="559.68" cy="935.87" r="0.73" fill="#5b4d9e" fill-opacity="0.8"/>
<circle cx="544.81" cy="919.08" r="0.76" fill="#6a5aa8" fill-opacity="0.8"/>
<circle cx="559.78" cy="903.24" r="0.78" fill="#4e4294" fill-opacity="0.8"/>
<circle cx="557.65" cy="936.07" r="0.59" fill="#7466b0" fill-opacity="0.8"/>
<circle cx="565.79" cy="900.39" r="0.89" fill="#5b4d9e" fill-opacity="0.8"/>
<circle cx="560.76" cy="923.41" r="0.84" fill="#6a5aa8" fill-opacity="0.8"/>
<circle cx="562.44" cy="920.92" r="0.66" fill="#7466b0" fill-opacity="0.8"/>
<circle cx="556.53" cy="905.61" r="0.45" fill="#6a5aa8" fill-opacity="0.8"/>
<circle cx="555.09" cy="910.76" r="0.57" fill="#6a5aa8" fill-opacity="0.8"/>
<circle cx="555.80" cy="936.48" r="0.56" fill="#4e4294" fill-opacity="0.8"/>
<circle cx="575.20" cy="910.98" r="0.85" fill="#6a5aa8" fill-opacity="0.8"/>
<circle cx="558.22" cy="932.88" r="0.76" fill="#6a5aa8" fill-opacity="0.8"/>
<circle cx="568.26" cy="913.14" r="0.62" fill="#4e4294" fill-opacity="0.8"/>
<circle cx="549.78" cy="904.27" r="0.71" fill="#5b4d9e" fill-opacity="0.8"/>
<circle cx="564.32" cy="935.24" r="0.42" fill="#4e4294" fill-opacity="0.8"/>
<circle cx="569.56" cy="918.99" r="0.42" fill="#7466b0" fill-opacity="0.8"/>
<circle cx="554.72" cy="910.10" r="0.40" fill="#6a5aa8" fill-opacity="0.8"/>
<circle cx="564.69" cy="922.63" r="0.63" fill="#5b4d9e" fill-opacity="0.8"/>
<circle cx="553.44" cy="921.40" r="0.80" fill="#7466b0" fill-opacity="0.8"/>
<circle cx="542.63" cy="932.24" r="0.48" fill="#5b4d9e" fill-opacity="0.7"/>
<circle cx="547.27" cy="936.47" r="0.49" fill="#5b4d9e" fill-opacity="0.7"/>
<circle cx="535.57" cy="920.79" r="0.77" fill="#5b4d9e" fill-opacity="0.7"/>
<circle cx="536.50" cy="916.68" r="0.63" fill="#5b4d9e" fill-opacity="0.7"/>
<rect x="533.70" y="894.00" width="46.80" height="47.00" fill="none" stroke="#1a1a1a" stroke-width="1.3"/>
<rect x="584.60" y="894.00" width="46.40" height="47.00" fill="#c3cbd1"/>
<circle cx="607.80" cy="917.50" r="22.74" fill="#c9d0d6" stroke="#a9b2bc" stroke-width="0.7"/>
<circle cx="607.80" cy="917.50" r="20.65" fill="url(#col22)" stroke="#a9b2bc" stroke-width="0.5"/>
<circle cx="613.05" cy="916.09" r="0.41" fill="#7466b0" fill-opacity="0.8"/>
<circle cx="609.78" cy="922.01" r="0.73" fill="#4e4294" fill-opacity="0.8"/>
<circle cx="608.79" cy="913.87" r="0.53" fill="#5b4d9e" fill-opacity="0.8"/>
<circle cx="601.88" cy="930.19" r="0.87" fill="#7466b0" fill-opacity="0.8"/>
<circle cx="607.09" cy="914.87" r="0.84" fill="#4e4294" fill-opacity="0.8"/>
<circle cx="605.34" cy="923.65" r="0.82" fill="#5b4d9e" fill-opacity="0.8"/>
<circle cx="603.29" cy="904.07" r="0.53" fill="#7466b0" fill-opacity="0.8"/>
<circle cx="601.45" cy="932.83" r="0.88" fill="#6a5aa8" fill-opacity="0.8"/>
<circle cx="606.26" cy="925.69" r="0.75" fill="#7466b0" fill-opacity="0.8"/>
<circle cx="620.12" cy="921.43" r="0.42" fill="#4e4294" fill-opacity="0.8"/>
<circle cx="595.11" cy="917.00" r="0.60" fill="#6a5aa8" fill-opacity="0.8"/>
<circle cx="604.18" cy="927.12" r="0.69" fill="#4e4294" fill-opacity="0.8"/>
<circle cx="595.89" cy="911.38" r="0.66" fill="#7466b0" fill-opacity="0.8"/>
<circle cx="624.34" cy="927.72" r="0.58" fill="#7466b0" fill-opacity="0.8"/>
<circle cx="608.40" cy="914.49" r="0.82" fill="#6a5aa8" fill-opacity="0.8"/>
<circle cx="597.08" cy="916.69" r="0.45" fill="#6a5aa8" fill-opacity="0.8"/>
<circle cx="614.04" cy="929.09" r="0.57" fill="#4e4294" fill-opacity="0.8"/>
<circle cx="619.97" cy="909.75" r="0.62" fill="#5b4d9e" fill-opacity="0.8"/>
<circle cx="591.41" cy="913.79" r="0.72" fill="#6a5aa8" fill-opacity="0.8"/>
<circle cx="605.35" cy="913.86" r="0.50" fill="#5b4d9e" fill-opacity="0.8"/>
<circle cx="616.51" cy="901.21" r="0.63" fill="#5b4d9e" fill-opacity="0.8"/>
<circle cx="595.00" cy="917.62" r="0.69" fill="#7466b0" fill-opacity="0.8"/>
<circle cx="604.51" cy="918.00" r="0.76" fill="#5b4d9e" fill-opacity="0.8"/>
<circle cx="613.79" cy="904.73" r="0.87" fill="#5b4d9e" fill-opacity="0.8"/>
<circle cx="611.61" cy="926.59" r="0.43" fill="#5b4d9e" fill-opacity="0.8"/>
<circle cx="615.07" cy="931.01" r="0.62" fill="#4e4294" fill-opacity="0.8"/>
<circle cx="609.42" cy="920.79" r="0.50" fill="#5b4d9e" fill-opacity="0.8"/>
<circle cx="620.76" cy="916.94" r="0.64" fill="#5b4d9e" fill-opacity="0.8"/>
<circle cx="611.37" cy="925.16" r="0.45" fill="#7466b0" fill-opacity="0.8"/>
<circle cx="599.86" cy="910.19" r="0.46" fill="#6a5aa8" fill-opacity="0.8"/>
<circle cx="617.85" cy="919.97" r="0.82" fill="#5b4d9e" fill-opacity="0.8"/>
<circle cx="612.31" cy="933.08" r="0.72" fill="#5b4d9e" fill-opacity="0.8"/>
<circle cx="607.83" cy="901.79" r="0.63" fill="#6a5aa8" fill-opacity="0.8"/>
<circle cx="611.42" cy="914.48" r="0.86" fill="#6a5aa8" fill-opacity="0.8"/>
<circle cx="616.07" cy="934.60" r="0.56" fill="#5b4d9e" fill-opacity="0.8"/>
<circle cx="593.76" cy="917.61" r="0.42" fill="#7466b0" fill-opacity="0.8"/>
<circle cx="605.21" cy="909.45" r="0.78" fill="#6a5aa8" fill-opacity="0.8"/>
<circle cx="594.76" cy="903.26" r="0.82" fill="#6a5aa8" fill-opacity="0.8"/>
<circle cx="597.26" cy="921.44" r="0.58" fill="#4e4294" fill-opacity="0.8"/>
<circle cx="619.02" cy="904.59" r="0.40" fill="#7466b0" fill-opacity="0.8"/>
<circle cx="604.25" cy="914.63" r="0.82" fill="#4e4294" fill-opacity="0.8"/>
<circle cx="604.65" cy="934.67" r="0.53" fill="#4e4294" fill-opacity="0.8"/>
<circle cx="606.78" cy="923.31" r="0.82" fill="#7466b0" fill-opacity="0.8"/>
<circle cx="602.18" cy="901.36" r="0.89" fill="#6a5aa8" fill-opacity="0.8"/>
<circle cx="598.07" cy="917.55" r="0.84" fill="#5b4d9e" fill-opacity="0.8"/>
<circle cx="596.58" cy="927.17" r="0.50" fill="#6a5aa8" fill-opacity="0.8"/>
<circle cx="623.66" cy="926.97" r="0.57" fill="#5b4d9e" fill-opacity="0.8"/>
<circle cx="588.82" cy="915.38" r="0.48" fill="#4e4294" fill-opacity="0.8"/>
<circle cx="617.01" cy="907.01" r="0.66" fill="#5b4d9e" fill-opacity="0.8"/>
<circle cx="617.28" cy="925.69" r="0.43" fill="#5b4d9e" fill-opacity="0.8"/>
<circle cx="610.53" cy="919.44" r="0.49" fill="#4e4294" fill-opacity="0.8"/>
<circle cx="624.76" cy="910.58" r="0.61" fill="#4e4294" fill-opacity="0.8"/>
<circle cx="601.18" cy="931.08" r="0.80" fill="#5b4d9e" fill-opacity="0.8"/>
<circle cx="621.54" cy="907.71" r="0.73" fill="#4e4294" fill-opacity="0.8"/>
<circle cx="607.59" cy="917.06" r="0.52" fill="#5b4d9e" fill-opacity="0.8"/>
<circle cx="615.73" cy="913.51" r="0.41" fill="#4e4294" fill-opacity="0.8"/>
<circle cx="621.69" cy="929.40" r="0.81" fill="#6a5aa8" fill-opacity="0.8"/>
<circle cx="612.42" cy="924.76" r="0.60" fill="#6a5aa8" fill-opacity="0.8"/>
<circle cx="611.30" cy="909.16" r="0.67" fill="#4e4294" fill-opacity="0.8"/>
<circle cx="617.53" cy="910.76" r="0.54" fill="#6a5aa8" fill-opacity="0.8"/>
<circle cx="613.19" cy="938.38" r="0.70" fill="#5b4d9e" fill-opacity="0.7"/>
<circle cx="592.15" cy="931.55" r="0.50" fill="#5b4d9e" fill-opacity="0.7"/>
<circle cx="605.66" cy="938.02" r="0.62" fill="#5b4d9e" fill-opacity="0.7"/>
<circle cx="601.74" cy="937.24" r="0.55" fill="#5b4d9e" fill-opacity="0.7"/>
<circle cx="589.18" cy="926.55" r="0.45" fill="#5b4d9e" fill-opacity="0.7"/>
<circle cx="588.49" cy="927.32" r="0.57" fill="#5b4d9e" fill-opacity="0.7"/>
<circle cx="592.79" cy="932.14" r="0.58" fill="#5b4d9e" fill-opacity="0.7"/>
<circle cx="586.78" cy="918.20" r="0.48" fill="#5b4d9e" fill-opacity="0.7"/>
<circle cx="587.98" cy="926.39" r="0.45" fill="#5b4d9e" fill-opacity="0.7"/>
<circle cx="586.37" cy="918.68" r="0.43" fill="#5b4d9e" fill-opacity="0.7"/>
<circle cx="591.55" cy="931.60" r="0.51" fill="#5b4d9e" fill-opacity="0.7"/>
<circle cx="611.57" cy="938.64" r="0.46" fill="#5b4d9e" fill-opacity="0.7"/>
<rect x="584.60" y="894.00" width="46.40" height="47.00" fill="none" stroke="#1a1a1a" stroke-width="1.3"/>
<rect x="635.40" y="894.00" width="46.50" height="47.00" fill="#c2ced2"/>
<circle cx="658.65" cy="917.50" r="22.79" fill="#c8d3d7" stroke="#aab6bc" stroke-width="0.7"/>
<circle cx="658.65" cy="917.50" r="20.69" fill="url(#col23)" stroke="#aab6bc" stroke-width="0.5"/>
<circle cx="675.46" cy="908.92" r="0.49" fill="#5b4d9e" fill-opacity="0.8"/>
<rect x="635.40" y="894.00" width="46.50" height="47.00" fill="none" stroke="#1a1a1a" stroke-width="1.3"/>
<path d="M173.6,889 L318.7,875.1 L318.7,889 Z" fill="none" stroke="#111" stroke-width="1.1" stroke-linejoin="miter"/>
<path d="M533.7,887.7 L682.8,874.5 L682.8,887.7 Z" fill="none" stroke="#111" stroke-width="1.1" stroke-linejoin="miter"/>
<text x="143.90" y="872.60" font-size="7.6" style="" fill="#1c1c1c" textLength="13.50" lengthAdjust="spacingAndGlyphs">Veh.</text>
<text x="177.60" y="872.60" font-size="7.6" style="" fill="#1c1c1c" textLength="58.00" lengthAdjust="spacingAndGlyphs">ATN-224 0.01 µM</text>
<text x="270.80" y="872.60" font-size="7.6" style="" fill="#1c1c1c" textLength="46.90" lengthAdjust="spacingAndGlyphs">ATN-224 1 µM</text>
<text x="500.40" y="870.80" font-size="7.6" style="" fill="#1c1c1c" textLength="14.50" lengthAdjust="spacingAndGlyphs">Veh.</text>
<text x="535.90" y="870.80" font-size="7.6" style="" fill="#1c1c1c" textLength="57.10" lengthAdjust="spacingAndGlyphs">ATN-224 0.01 µM</text>
<text x="635.70" y="870.80" font-size="7.6" style="" fill="#1c1c1c" textLength="47.70" lengthAdjust="spacingAndGlyphs">ATN-224 1 µM</text>
<text x="9.40" y="1034.20" font-size="24" style="" fill="#1c1c1c" textLength="10.40" lengthAdjust="spacingAndGlyphs">E</text>
<text x="165.90" y="1007.10" font-size="13.4" style="font-weight:bold;" fill="#1c1c1c" textLength="44.60" lengthAdjust="spacingAndGlyphs">LN-229</text>
<text x="505.00" y="1009.90" font-size="13.4" style="font-weight:bold;" fill="#1c1c1c" textLength="33.20" lengthAdjust="spacingAndGlyphs">T98G</text>
<line x1="82.50" y1="1140.00" x2="82.50" y2="1141.00" stroke="#222" stroke-width="1.0"/>
<line x1="78.00" y1="1140.00" x2="87.00" y2="1140.00" stroke="#222" stroke-width="1.1"/>
<rect x="73.40" y="1141.00" width="18.20" height="3.20" fill="#979fa6" stroke="#1e1e1e" stroke-width="1.1"/>
<line x1="110.55" y1="1141.00" x2="110.55" y2="1141.60" stroke="#222" stroke-width="1.0"/>
<line x1="106.05" y1="1141.00" x2="115.05" y2="1141.00" stroke="#222" stroke-width="1.1"/>
<rect x="101.50" y="1141.60" width="18.10" height="2.60" fill="#4d86ba" stroke="#1e1e1e" stroke-width="1.1"/>
<line x1="138.35" y1="1141.00" x2="138.35" y2="1141.70" stroke="#222" stroke-width="1.0"/>
<line x1="133.85" y1="1141.00" x2="142.85" y2="1141.00" stroke="#222" stroke-width="1.1"/>
<rect x="129.30" y="1141.70" width="18.10" height="2.50" fill="#4d86ba" stroke="#1e1e1e" stroke-width="1.1"/>
<line x1="166.25" y1="1128.30" x2="166.25" y2="1129.60" stroke="#222" stroke-width="1.0"/>
<line x1="161.75" y1="1128.30" x2="170.75" y2="1128.30" stroke="#222" stroke-width="1.1"/>
<rect x="157.30" y="1129.60" width="17.90" height="14.60" fill="#4d86ba" stroke="#1e1e1e" stroke-width="1.1"/>
<line x1="213.00" y1="1081.30" x2="213.00" y2="1084.80" stroke="#222" stroke-width="1.0"/>
<line x1="208.50" y1="1081.30" x2="217.50" y2="1081.30" stroke="#222" stroke-width="1.1"/>
<rect x="204.30" y="1084.80" width="17.40" height="59.40" fill="#979fa6" stroke="#1e1e1e" stroke-width="1.1"/>
<line x1="241.00" y1="1081.30" x2="241.00" y2="1084.20" stroke="#222" stroke-width="1.0"/>
<line x1="236.50" y1="1081.30" x2="245.50" y2="1081.30" stroke="#222" stroke-width="1.1"/>
<rect x="232.30" y="1084.20" width="17.40" height="60.00" fill="#4d86ba" stroke="#1e1e1e" stroke-width="1.1"/>
<line x1="269.00" y1="1060.30" x2="269.00" y2="1063.40" stroke="#222" stroke-width="1.0"/>
<line x1="264.50" y1="1060.30" x2="273.50" y2="1060.30" stroke="#222" stroke-width="1.1"/>
<rect x="260.10" y="1063.40" width="17.80" height="80.80" fill="#4d86ba" stroke="#1e1e1e" stroke-width="1.1"/>
<line x1="297.00" y1="1044.00" x2="297.00" y2="1045.00" stroke="#222" stroke-width="1.0"/>
<line x1="292.50" y1="1044.00" x2="301.50" y2="1044.00" stroke="#222" stroke-width="1.1"/>
<rect x="288.10" y="1045.00" width="17.80" height="99.20" fill="#4d86ba" stroke="#1e1e1e" stroke-width="1.1"/>
<line x1="63.90" y1="1035.60" x2="63.90" y2="1145.30" stroke="#111" stroke-width="2.2"/>
<line x1="62.80" y1="1144.20" x2="315.10" y2="1144.20" stroke="#111" stroke-width="2.4000000000000004"/>
<line x1="59.30" y1="1144.20" x2="63.90" y2="1144.20" stroke="#111" stroke-width="2.2"/>
<text x="58.20" y="1146.61" font-size="7.3" style="font-weight:bold;" fill="#1c1c1c" text-anchor="end" textLength="3.75" lengthAdjust="spacingAndGlyphs">0</text>
<line x1="59.30" y1="1122.70" x2="63.90" y2="1122.70" stroke="#111" stroke-width="2.2"/>
<text x="58.20" y="1125.11" font-size="7.3" style="font-weight:bold;" fill="#1c1c1c" text-anchor="end" textLength="7.50" lengthAdjust="spacingAndGlyphs">20</text>
<line x1="59.30" y1="1101.20" x2="63.90" y2="1101.20" stroke="#111" stroke-width="2.2"/>
<text x="58.20" y="1103.61" font-size="7.3" style="font-weight:bold;" fill="#1c1c1c" text-anchor="end" textLength="7.50" lengthAdjust="spacingAndGlyphs">40</text>
<line x1="59.30" y1="1079.70" x2="63.90" y2="1079.70" stroke="#111" stroke-width="2.2"/>
<text x="58.20" y="1082.11" font-size="7.3" style="font-weight:bold;" fill="#1c1c1c" text-anchor="end" textLength="7.50" lengthAdjust="spacingAndGlyphs">60</text>
<line x1="59.30" y1="1058.20" x2="63.90" y2="1058.20" stroke="#111" stroke-width="2.2"/>
<text x="58.20" y="1060.61" font-size="7.3" style="font-weight:bold;" fill="#1c1c1c" text-anchor="end" textLength="7.50" lengthAdjust="spacingAndGlyphs">80</text>
<line x1="59.30" y1="1036.70" x2="63.90" y2="1036.70" stroke="#111" stroke-width="2.2"/>
<text x="58.20" y="1039.11" font-size="7.3" style="font-weight:bold;" fill="#1c1c1c" text-anchor="end" textLength="11.25" lengthAdjust="spacingAndGlyphs">100</text>
<line x1="81.50" y1="1023.10" x2="165.50" y2="1023.10" stroke="#333" stroke-width="1.3"/>
<circle cx="120.20" cy="1017.30" r="1.55" fill="#1a1a1a"/>
<circle cx="123.50" cy="1017.30" r="1.55" fill="#1a1a1a"/>
<circle cx="126.80" cy="1017.30" r="1.55" fill="#1a1a1a"/>
<line x1="81.50" y1="1036.30" x2="135.30" y2="1036.30" stroke="#333" stroke-width="1.3"/>
<text x="107.70" y="1031.90" font-size="6.6" style="" fill="#333" text-anchor="middle" textLength="5.60" lengthAdjust="spacingAndGlyphs">ns</text>
<line x1="81.50" y1="1050.20" x2="113.80" y2="1050.20" stroke="#333" stroke-width="1.3"/>
<text x="96.70" y="1045.80" font-size="6.6" style="" fill="#333" text-anchor="middle" textLength="5.60" lengthAdjust="spacingAndGlyphs">ns</text>
<line x1="211.00" y1="1024.10" x2="294.60" y2="1024.10" stroke="#333" stroke-width="1.3"/>
<circle cx="249.40" cy="1018.00" r="1.55" fill="#1a1a1a"/>
<circle cx="252.70" cy="1018.00" r="1.55" fill="#1a1a1a"/>
<circle cx="256.00" cy="1018.00" r="1.55" fill="#1a1a1a"/>
<line x1="211.00" y1="1037.40" x2="264.60" y2="1037.40" stroke="#333" stroke-width="1.3"/>
<circle cx="234.30" cy="1031.70" r="1.55" fill="#1a1a1a"/>
<circle cx="237.60" cy="1031.70" r="1.55" fill="#1a1a1a"/>
<circle cx="240.90" cy="1031.70" r="1.55" fill="#1a1a1a"/>
<line x1="211.00" y1="1049.70" x2="243.10" y2="1049.70" stroke="#333" stroke-width="1.3"/>
<text x="226.20" y="1045.50" font-size="6.6" style="" fill="#333" text-anchor="middle" textLength="5.60" lengthAdjust="spacingAndGlyphs">ns</text>
<text transform="translate(42.80,1138.50) rotate(-90)" font-size="12.2" style="font-weight:bold;" fill="#1c1c1c" textLength="100.10" lengthAdjust="spacingAndGlyphs">PI positive cells [%]</text>
<text transform="translate(88.10,1173.80) rotate(-90)" font-size="7.0" style="" fill="#1c1c1c" textLength="14.80" lengthAdjust="spacingAndGlyphs">Veh.</text>
<text transform="translate(114.70,1173.80) rotate(-90)" font-size="7.0" style="" fill="#1c1c1c" textLength="22.80" lengthAdjust="spacingAndGlyphs">0.1 µM</text>
<text transform="translate(141.80,1173.80) rotate(-90)" font-size="7.0" style="" fill="#1c1c1c" textLength="16.90" lengthAdjust="spacingAndGlyphs">1 µM</text>
<text transform="translate(168.70,1173.80) rotate(-90)" font-size="7.0" style="" fill="#1c1c1c" textLength="20.80" lengthAdjust="spacingAndGlyphs">10 µM</text>
<text transform="translate(216.10,1171.70) rotate(-90)" font-size="7.0" style="" fill="#1c1c1c" textLength="14.90" lengthAdjust="spacingAndGlyphs">Veh.</text>
<text transform="translate(242.90,1171.70) rotate(-90)" font-size="7.0" style="" fill="#1c1c1c" textLength="22.90" lengthAdjust="spacingAndGlyphs">0.1 µM</text>
<text transform="translate(269.50,1171.70) rotate(-90)" font-size="7.0" style="" fill="#1c1c1c" textLength="16.90" lengthAdjust="spacingAndGlyphs">1 µM</text>
<text transform="translate(297.50,1171.70) rotate(-90)" font-size="7.0" style="" fill="#1c1c1c" textLength="20.40" lengthAdjust="spacingAndGlyphs">10 µM</text>
<line x1="104.00" y1="1182.70" x2="173.30" y2="1182.70" stroke="#333" stroke-width="1.3"/>
<text x="138.50" y="1193.50" font-size="7.3" style="" fill="#1c1c1c" text-anchor="middle" textLength="28.50" lengthAdjust="spacingAndGlyphs">ATN-224</text>
<line x1="232.70" y1="1182.70" x2="301.00" y2="1182.70" stroke="#333" stroke-width="1.3"/>
<text x="266.90" y="1193.50" font-size="7.3" style="" fill="#1c1c1c" text-anchor="middle" textLength="28.50" lengthAdjust="spacingAndGlyphs">ATN-224</text>
<line x1="72.90" y1="1197.30" x2="176.20" y2="1197.30" stroke="#333" stroke-width="1.3"/>
<text x="124.50" y="1208.50" font-size="7.3" style="" fill="#1c1c1c" text-anchor="middle" textLength="31.10" lengthAdjust="spacingAndGlyphs">Normoxia</text>
<line x1="203.50" y1="1197.30" x2="305.90" y2="1197.30" stroke="#333" stroke-width="1.3"/>
<text x="255.40" y="1208.50" font-size="7.3" style="" fill="#1c1c1c" text-anchor="middle" textLength="26.30" lengthAdjust="spacingAndGlyphs">Hypoxia</text>
<line x1="421.35" y1="1129.30" x2="421.35" y2="1131.20" stroke="#222" stroke-width="1.0"/>
<line x1="416.85" y1="1129.30" x2="425.85" y2="1129.30" stroke="#222" stroke-width="1.1"/>
<rect x="412.60" y="1131.20" width="17.50" height="9.20" fill="#979fa6" stroke="#1e1e1e" stroke-width="1.1"/>
<line x1="448.85" y1="1132.30" x2="448.85" y2="1133.00" stroke="#222" stroke-width="1.0"/>
<line x1="444.35" y1="1132.30" x2="453.35" y2="1132.30" stroke="#222" stroke-width="1.1"/>
<rect x="440.10" y="1133.00" width="17.50" height="7.40" fill="#4d86ba" stroke="#1e1e1e" stroke-width="1.1"/>
<line x1="476.95" y1="1133.20" x2="476.95" y2="1133.80" stroke="#222" stroke-width="1.0"/>
<line x1="472.45" y1="1133.20" x2="481.45" y2="1133.20" stroke="#222" stroke-width="1.1"/>
<rect x="468.20" y="1133.80" width="17.50" height="6.60" fill="#4d86ba" stroke="#1e1e1e" stroke-width="1.1"/>
<line x1="504.85" y1="1132.30" x2="504.85" y2="1133.00" stroke="#222" stroke-width="1.0"/>
<line x1="500.35" y1="1132.30" x2="509.35" y2="1132.30" stroke="#222" stroke-width="1.1"/>
<rect x="496.20" y="1133.00" width="17.30" height="7.40" fill="#4d86ba" stroke="#1e1e1e" stroke-width="1.1"/>
<line x1="551.80" y1="1091.50" x2="551.80" y2="1095.60" stroke="#222" stroke-width="1.0"/>
<line x1="547.30" y1="1091.50" x2="556.30" y2="1091.50" stroke="#222" stroke-width="1.1"/>
<rect x="543.10" y="1095.60" width="17.40" height="44.80" fill="#979fa6" stroke="#1e1e1e" stroke-width="1.1"/>
<line x1="579.80" y1="1064.90" x2="579.80" y2="1068.60" stroke="#222" stroke-width="1.0"/>
<line x1="575.30" y1="1064.90" x2="584.30" y2="1064.90" stroke="#222" stroke-width="1.1"/>
<rect x="571.10" y="1068.60" width="17.40" height="71.80" fill="#4d86ba" stroke="#1e1e1e" stroke-width="1.1"/>
<line x1="607.60" y1="1059.00" x2="607.60" y2="1063.00" stroke="#222" stroke-width="1.0"/>
<line x1="603.10" y1="1059.00" x2="612.10" y2="1059.00" stroke="#222" stroke-width="1.1"/>
<rect x="598.70" y="1063.00" width="17.80" height="77.40" fill="#4d86ba" stroke="#1e1e1e" stroke-width="1.1"/>
<line x1="635.50" y1="1047.50" x2="635.50" y2="1051.60" stroke="#222" stroke-width="1.0"/>
<line x1="631.00" y1="1047.50" x2="640.00" y2="1047.50" stroke="#222" stroke-width="1.1"/>
<rect x="626.70" y="1051.60" width="17.60" height="88.80" fill="#4d86ba" stroke="#1e1e1e" stroke-width="1.1"/>
<line x1="402.50" y1="1031.90" x2="402.50" y2="1141.50" stroke="#111" stroke-width="2.2"/>
<line x1="401.40" y1="1140.40" x2="654.30" y2="1140.40" stroke="#111" stroke-width="2.4000000000000004"/>
<line x1="397.90" y1="1140.40" x2="402.50" y2="1140.40" stroke="#111" stroke-width="2.2"/>
<text x="396.40" y="1142.81" font-size="7.3" style="font-weight:bold;" fill="#1c1c1c" text-anchor="end" textLength="3.75" lengthAdjust="spacingAndGlyphs">0</text>
<line x1="397.90" y1="1113.50" x2="402.50" y2="1113.50" stroke="#111" stroke-width="2.2"/>
<text x="396.40" y="1115.91" font-size="7.3" style="font-weight:bold;" fill="#1c1c1c" text-anchor="end" textLength="7.50" lengthAdjust="spacingAndGlyphs">20</text>
<line x1="397.90" y1="1086.60" x2="402.50" y2="1086.60" stroke="#111" stroke-width="2.2"/>
<text x="396.40" y="1089.01" font-size="7.3" style="font-weight:bold;" fill="#1c1c1c" text-anchor="end" textLength="7.50" lengthAdjust="spacingAndGlyphs">40</text>
<line x1="397.90" y1="1059.70" x2="402.50" y2="1059.70" stroke="#111" stroke-width="2.2"/>
<text x="396.40" y="1062.11" font-size="7.3" style="font-weight:bold;" fill="#1c1c1c" text-anchor="end" textLength="7.50" lengthAdjust="spacingAndGlyphs">60</text>
<line x1="397.90" y1="1032.80" x2="402.50" y2="1032.80" stroke="#111" stroke-width="2.2"/>
<text x="396.40" y="1035.21" font-size="7.3" style="font-weight:bold;" fill="#1c1c1c" text-anchor="end" textLength="7.50" lengthAdjust="spacingAndGlyphs">80</text>
<line x1="417.20" y1="1024.20" x2="505.50" y2="1024.20" stroke="#333" stroke-width="1.3"/>
<text x="460.90" y="1019.90" font-size="6.6" style="" fill="#333" text-anchor="middle" textLength="5.60" lengthAdjust="spacingAndGlyphs">ns</text>
<line x1="417.20" y1="1039.40" x2="473.30" y2="1039.40" stroke="#333" stroke-width="1.3"/>
<text x="444.60" y="1035.00" font-size="6.6" style="" fill="#333" text-anchor="middle" textLength="5.60" lengthAdjust="spacingAndGlyphs">ns</text>
<line x1="417.20" y1="1055.00" x2="448.80" y2="1055.00" stroke="#333" stroke-width="1.3"/>
<text x="432.40" y="1050.50" font-size="6.6" style="" fill="#333" text-anchor="middle" textLength="5.60" lengthAdjust="spacingAndGlyphs">ns</text>
<line x1="550.20" y1="1024.00" x2="637.90" y2="1024.00" stroke="#333" stroke-width="1.3"/>
<circle cx="590.70" cy="1017.50" r="1.55" fill="#1a1a1a"/>
<circle cx="594.00" cy="1017.50" r="1.55" fill="#1a1a1a"/>
<circle cx="597.30" cy="1017.50" r="1.55" fill="#1a1a1a"/>
<line x1="550.20" y1="1039.10" x2="605.40" y2="1039.10" stroke="#333" stroke-width="1.3"/>
<circle cx="574.50" cy="1033.20" r="1.55" fill="#1a1a1a"/>
<circle cx="577.80" cy="1033.20" r="1.55" fill="#1a1a1a"/>
<circle cx="581.10" cy="1033.20" r="1.55" fill="#1a1a1a"/>
<line x1="550.20" y1="1054.70" x2="581.30" y2="1054.70" stroke="#333" stroke-width="1.3"/>
<circle cx="562.10" cy="1050.20" r="1.55" fill="#1a1a1a"/>
<circle cx="565.40" cy="1050.20" r="1.55" fill="#1a1a1a"/>
<circle cx="568.70" cy="1050.20" r="1.55" fill="#1a1a1a"/>
<text transform="translate(385.50,1136.30) rotate(-90)" font-size="12.2" style="font-weight:bold;" fill="#1c1c1c" textLength="99.30" lengthAdjust="spacingAndGlyphs">PI positive cells [%]</text>
<text transform="translate(424.30,1170.50) rotate(-90)" font-size="7.0" style="" fill="#1c1c1c" textLength="14.80" lengthAdjust="spacingAndGlyphs">Veh.</text>
<text transform="translate(450.30,1170.50) rotate(-90)" font-size="7.0" style="" fill="#1c1c1c" textLength="23.20" lengthAdjust="spacingAndGlyphs">0.1 µM</text>
<text transform="translate(477.60,1170.50) rotate(-90)" font-size="7.0" style="" fill="#1c1c1c" textLength="16.90" lengthAdjust="spacingAndGlyphs">1 µM</text>
<text transform="translate(505.70,1170.50) rotate(-90)" font-size="7.0" style="" fill="#1c1c1c" textLength="20.80" lengthAdjust="spacingAndGlyphs">10 µM</text>
<text transform="translate(554.10,1168.90) rotate(-90)" font-size="7.0" style="" fill="#1c1c1c" textLength="14.80" lengthAdjust="spacingAndGlyphs">Veh.</text>
<text transform="translate(580.80,1168.90) rotate(-90)" font-size="7.0" style="" fill="#1c1c1c" textLength="22.60" lengthAdjust="spacingAndGlyphs">0.1 µM</text>
<text transform="translate(608.10,1168.90) rotate(-90)" font-size="7.0" style="" fill="#1c1c1c" textLength="16.90" lengthAdjust="spacingAndGlyphs">1 µM</text>
<text transform="translate(636.30,1168.90) rotate(-90)" font-size="7.0" style="" fill="#1c1c1c" textLength="20.80" lengthAdjust="spacingAndGlyphs">10 µM</text>
<line x1="439.80" y1="1179.70" x2="510.00" y2="1179.70" stroke="#333" stroke-width="1.3"/>
<text x="474.80" y="1189.90" font-size="7.3" style="" fill="#1c1c1c" text-anchor="middle" textLength="28.50" lengthAdjust="spacingAndGlyphs">ATN-224</text>
<line x1="570.00" y1="1179.70" x2="639.00" y2="1179.70" stroke="#333" stroke-width="1.3"/>
<text x="604.50" y="1189.90" font-size="7.3" style="" fill="#1c1c1c" text-anchor="middle" textLength="28.50" lengthAdjust="spacingAndGlyphs">ATN-224</text>
<line x1="409.50" y1="1194.90" x2="512.00" y2="1194.90" stroke="#333" stroke-width="1.3"/>
<text x="460.70" y="1205.10" font-size="7.3" style="" fill="#1c1c1c" text-anchor="middle" textLength="31.10" lengthAdjust="spacingAndGlyphs">Normoxia</text>
<line x1="541.20" y1="1194.90" x2="643.60" y2="1194.90" stroke="#333" stroke-width="1.3"/>
<text x="592.40" y="1205.10" font-size="7.3" style="" fill="#1c1c1c" text-anchor="middle" textLength="26.30" lengthAdjust="spacingAndGlyphs">Hypoxia</text>
</svg>
</body></html>
